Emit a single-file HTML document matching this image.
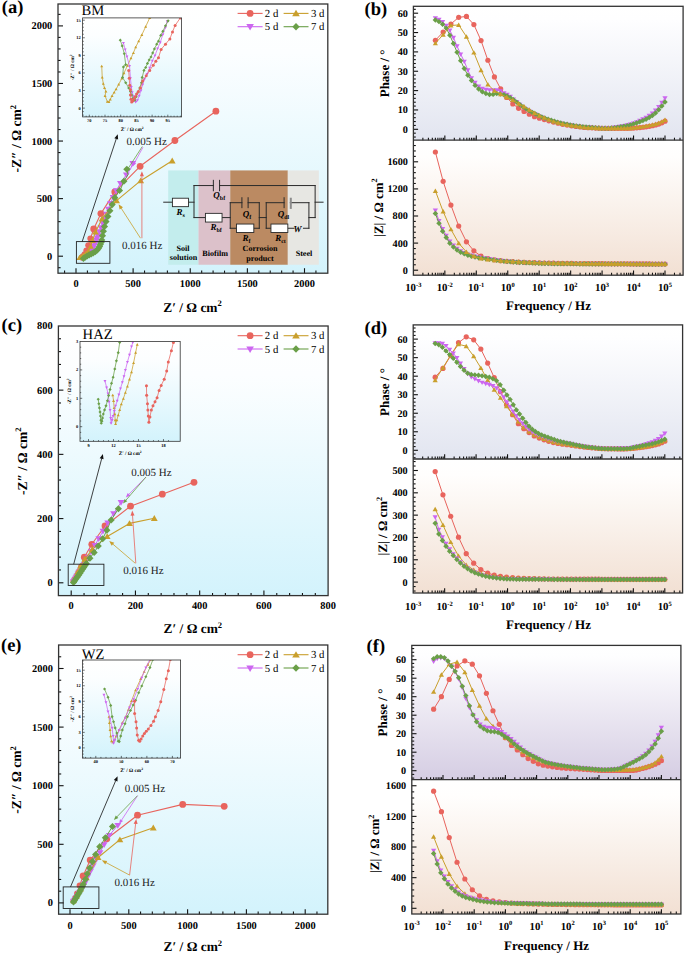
<!DOCTYPE html>
<html><head><meta charset="utf-8"><title>EIS figure</title>
<style>html,body{margin:0;padding:0;background:#fff;width:685px;height:955px;overflow:hidden}
svg{display:block;font-family:"Liberation Serif",serif;text-rendering:geometricPrecision}</style></head>
<body><svg width="685" height="955" viewBox="0 0 685 955" font-family="'Liberation Serif', serif"><defs><linearGradient id="gNyq" x1="0" y1="0" x2="0" y2="1"><stop offset="0" stop-color="#ffffff"/><stop offset="0.18" stop-color="#fcfeff"/><stop offset="1" stop-color="#d3f3fc"/></linearGradient><linearGradient id="gPh" x1="0" y1="0" x2="0" y2="1"><stop offset="0" stop-color="#ffffff"/><stop offset="0.1" stop-color="#fefeff"/><stop offset="1" stop-color="#e2e5f0"/></linearGradient><linearGradient id="gPhF" x1="0" y1="0" x2="0" y2="1"><stop offset="0" stop-color="#ffffff"/><stop offset="0.08" stop-color="#fefeff"/><stop offset="1" stop-color="#d5cde3"/></linearGradient><linearGradient id="gZ" x1="0" y1="0" x2="0" y2="1"><stop offset="0" stop-color="#ffffff"/><stop offset="0.12" stop-color="#fffefd"/><stop offset="1" stop-color="#f2e0d3"/></linearGradient><clipPath id="cia"><rect x="82.6" y="17.9" width="99" height="99"/></clipPath><clipPath id="cic"><rect x="80" y="341.5" width="100.2" height="99.8"/></clipPath><clipPath id="cie"><rect x="82.5" y="660" width="98.1" height="98.1"/></clipPath></defs><rect x="0" y="0" width="685" height="955" fill="#fff"/>
<rect x="58" y="4" width="269.8" height="269.2" fill="url(#gNyq)"/>
<rect x="58.4" y="326" width="269.7" height="269.6" fill="url(#gNyq)"/>
<rect x="58.6" y="645" width="269.2" height="269.2" fill="url(#gNyq)"/>
<rect x="168.19" y="170.42" width="30.28" height="94.32" fill="#c3eded"/>
<rect x="198.47" y="170.42" width="31.77" height="94.32" fill="#dcc1ca"/>
<rect x="230.24" y="170.42" width="57.58" height="94.32" fill="#bb8a62"/>
<rect x="287.82" y="170.42" width="31.03" height="94.32" fill="#e7e7e3"/>
<line x1="163.72" y1="202.19" x2="172.41" y2="202.19" stroke="#2a2a2a" stroke-width="1" stroke-linecap="square"/>
<line x1="188.54" y1="202.19" x2="194" y2="202.19" stroke="#2a2a2a" stroke-width="1" stroke-linecap="square"/>
<line x1="194" y1="185.56" x2="194" y2="217.58" stroke="#2a2a2a" stroke-width="1" stroke-linecap="square"/>
<line x1="194" y1="185.56" x2="213.36" y2="185.56" stroke="#2a2a2a" stroke-width="1" stroke-linecap="square"/>
<line x1="219.57" y1="185.56" x2="315.13" y2="185.56" stroke="#2a2a2a" stroke-width="1" stroke-linecap="square"/>
<line x1="315.13" y1="185.56" x2="315.13" y2="217.58" stroke="#2a2a2a" stroke-width="1" stroke-linecap="square"/>
<line x1="315.13" y1="202.19" x2="323.07" y2="202.19" stroke="#2a2a2a" stroke-width="1" stroke-linecap="square"/>
<line x1="194" y1="217.58" x2="205.42" y2="217.58" stroke="#2a2a2a" stroke-width="1" stroke-linecap="square"/>
<line x1="222.05" y1="217.58" x2="230.24" y2="217.58" stroke="#2a2a2a" stroke-width="1" stroke-linecap="square"/>
<line x1="230.24" y1="202.69" x2="230.24" y2="228.26" stroke="#2a2a2a" stroke-width="1" stroke-linecap="square"/>
<line x1="230.24" y1="202.69" x2="241.91" y2="202.69" stroke="#2a2a2a" stroke-width="1" stroke-linecap="square"/>
<line x1="248.11" y1="202.69" x2="259.28" y2="202.69" stroke="#2a2a2a" stroke-width="1" stroke-linecap="square"/>
<line x1="230.24" y1="228.26" x2="236.45" y2="228.26" stroke="#2a2a2a" stroke-width="1" stroke-linecap="square"/>
<line x1="253.82" y1="228.26" x2="259.28" y2="228.26" stroke="#2a2a2a" stroke-width="1" stroke-linecap="square"/>
<line x1="259.28" y1="202.69" x2="259.28" y2="228.26" stroke="#2a2a2a" stroke-width="1" stroke-linecap="square"/>
<line x1="259.28" y1="217.58" x2="266.23" y2="217.58" stroke="#2a2a2a" stroke-width="1" stroke-linecap="square"/>
<line x1="266.23" y1="202.69" x2="266.23" y2="228.26" stroke="#2a2a2a" stroke-width="1" stroke-linecap="square"/>
<line x1="266.23" y1="202.69" x2="284.1" y2="202.69" stroke="#2a2a2a" stroke-width="1" stroke-linecap="square"/>
<line x1="290.31" y1="202.69" x2="308.92" y2="202.69" stroke="#2a2a2a" stroke-width="1" stroke-linecap="square"/>
<line x1="266.23" y1="228.26" x2="270.95" y2="228.26" stroke="#2a2a2a" stroke-width="1" stroke-linecap="square"/>
<line x1="287.82" y1="228.26" x2="294.03" y2="228.26" stroke="#2a2a2a" stroke-width="1" stroke-linecap="square"/>
<line x1="303.46" y1="228.26" x2="308.92" y2="228.26" stroke="#2a2a2a" stroke-width="1" stroke-linecap="square"/>
<line x1="308.92" y1="202.69" x2="308.92" y2="228.26" stroke="#2a2a2a" stroke-width="1" stroke-linecap="square"/>
<line x1="308.92" y1="217.58" x2="315.13" y2="217.58" stroke="#2a2a2a" stroke-width="1" stroke-linecap="square"/>
<line x1="213.36" y1="180.35" x2="213.36" y2="190.78" stroke="#2a2a2a" stroke-width="1" stroke-linecap="square"/>
<line x1="219.57" y1="180.35" x2="219.57" y2="190.78" stroke="#2a2a2a" stroke-width="1" stroke-linecap="square"/>
<line x1="241.91" y1="197.73" x2="241.91" y2="207.65" stroke="#2a2a2a" stroke-width="1" stroke-linecap="square"/>
<line x1="248.11" y1="197.73" x2="248.11" y2="207.65" stroke="#2a2a2a" stroke-width="1" stroke-linecap="square"/>
<line x1="284.1" y1="197.73" x2="284.1" y2="207.65" stroke="#2a2a2a" stroke-width="1" stroke-linecap="square"/>
<line x1="290.8" y1="197.73" x2="290.8" y2="208.9" stroke="#8c8c8c" stroke-width="2" />
<rect x="172.41" y="198.22" width="16.13" height="8.44" fill="#fff" stroke="#2a2a2a" stroke-width="0.9"/>
<rect x="205.42" y="213.36" width="16.63" height="8.69" fill="#fff" stroke="#2a2a2a" stroke-width="0.9"/>
<rect x="236.45" y="224.04" width="17.37" height="8.44" fill="#fff" stroke="#2a2a2a" stroke-width="0.9"/>
<rect x="270.95" y="224.04" width="16.88" height="8.44" fill="#fff" stroke="#2a2a2a" stroke-width="0.9"/>
<text x="176.38" y="215.1" font-size="9" font-style="italic" font-weight="bold">R<tspan dy="2" font-size="5.94" font-style="normal">s</tspan></text>
<text x="213.36" y="198.47" font-size="9" font-style="italic" font-weight="bold">Q<tspan dy="2" font-size="5.94" font-style="normal">bf</tspan></text>
<text x="210.38" y="230.24" font-size="9" font-style="italic" font-weight="bold">R<tspan dy="2" font-size="5.94" font-style="normal">bf</tspan></text>
<text x="242.65" y="217.09" font-size="9" font-style="italic" font-weight="bold">Q<tspan dy="2" font-size="5.94" font-style="normal">f</tspan></text>
<text x="277.65" y="217.09" font-size="9" font-style="italic" font-weight="bold">Q<tspan dy="2" font-size="5.94" font-style="normal">dl</tspan></text>
<text x="242.4" y="240.67" font-size="9" font-style="italic" font-weight="bold">R<tspan dy="2" font-size="5.94" font-style="normal">f</tspan></text>
<text x="275.17" y="240.67" font-size="9" font-style="italic" font-weight="bold">R<tspan dy="2" font-size="5.94" font-style="normal">ct</tspan></text>
<text x="293.53" y="231.98" font-size="9" font-style="italic" font-weight="bold">W</text>
<text x="183.08" y="250.84" font-size="8.1" font-weight="bold" text-anchor="middle" fill="#000" >Soil</text>
<text x="183.58" y="260.27" font-size="8.1" font-weight="bold" text-anchor="middle" fill="#000" >solution</text>
<text x="215.1" y="255.81" font-size="8.1" font-weight="bold" text-anchor="middle" fill="#000" >Biofilm</text>
<text x="260.02" y="251.09" font-size="8.1" font-weight="bold" text-anchor="middle" fill="#000" >Corrosion</text>
<text x="260.02" y="260.52" font-size="8.1" font-weight="bold" text-anchor="middle" fill="#000" >product</text>
<text x="303.96" y="255.81" font-size="8.1" font-weight="bold" text-anchor="middle" fill="#000" >Steel</text>
<polyline points="215.9,111.2 174.9,140.5 140.1,166.3 114.8,191.9 100.9,213.6 93.7,228.9 90.4,238.6 88.3,245.2 86.4,250.6 84.6,254.2 83,256.4 81.8,257.6" fill="none" stroke="#e8645d" stroke-width="1.1" stroke-linejoin="round" />
<circle cx="215.9" cy="111.2" r="3.4" fill="#e8645d"/>
<circle cx="174.9" cy="140.5" r="3.4" fill="#e8645d"/>
<circle cx="140.1" cy="166.3" r="3.4" fill="#e8645d"/>
<circle cx="114.8" cy="191.9" r="3.4" fill="#e8645d"/>
<circle cx="100.9" cy="213.6" r="3.4" fill="#e8645d"/>
<circle cx="93.7" cy="228.9" r="3.4" fill="#e8645d"/>
<circle cx="90.4" cy="238.6" r="3.06" fill="#e8645d"/>
<circle cx="88.3" cy="245.2" r="3.06" fill="#e8645d"/>
<circle cx="86.4" cy="250.6" r="3.06" fill="#e8645d"/>
<circle cx="84.6" cy="254.2" r="3.06" fill="#e8645d"/>
<circle cx="83" cy="256.4" r="3.06" fill="#e8645d"/>
<circle cx="81.8" cy="257.6" r="3.06" fill="#e8645d"/>
<polyline points="132.8,163.3 130.4,169.3 125.5,176 120.8,182.5 115,193 109.9,204.8 105,218 101.5,226 99.1,231.9 96.7,239.2 94.5,245 92,250 89,254 86,256.5 83.5,258" fill="none" stroke="#cc66f0" stroke-width="1" stroke-linejoin="round" />
<polygon points="132.8,166.77 129.4,160.99 136.2,160.99" fill="#cc66f0"/>
<polygon points="126.36,178.29 122.96,172.51 129.76,172.51" fill="#cc66f0"/>
<polygon points="120.42,186.66 117.02,180.88 123.82,180.88" fill="#cc66f0"/>
<polygon points="116.29,194.13 112.89,188.35 119.69,188.35" fill="#cc66f0"/>
<polygon points="113.13,200.8 109.73,195.02 116.53,195.02" fill="#cc66f0"/>
<polygon points="110.51,206.85 107.11,201.07 113.91,201.07" fill="#cc66f0"/>
<polygon points="108.36,212.43 104.96,206.65 111.76,206.65" fill="#cc66f0"/>
<polygon points="106.44,217.59 103.04,211.81 109.84,211.81" fill="#cc66f0"/>
<polygon points="104.6,222.39 101.2,216.61 108,216.61" fill="#cc66f0"/>
<polygon points="102.66,226.81 99.26,221.03 106.06,221.03" fill="#cc66f0"/>
<polygon points="100.87,231.02 97.47,225.24 104.27,225.24" fill="#cc66f0"/>
<polygon points="99.22,235.06 95.82,229.28 102.62,229.28" fill="#cc66f0"/>
<polygon points="97.9,239.03 94.5,233.25 101.3,233.25" fill="#cc66f0"/>
<polygon points="97.18,241.21 93.78,235.43 100.58,235.43" fill="#cc66f0"/>
<polygon points="96.43,243.39 93.03,237.61 99.83,237.61" fill="#cc66f0"/>
<polygon points="95.61,245.54 92.21,239.76 99.01,239.76" fill="#cc66f0"/>
<polygon points="94.8,247.69 91.4,241.91 98.2,241.91" fill="#cc66f0"/>
<polygon points="93.84,249.78 90.44,244 97.24,244" fill="#cc66f0"/>
<polygon points="92.82,251.84 89.42,246.06 96.22,246.06" fill="#cc66f0"/>
<polygon points="91.72,253.85 88.32,248.07 95.12,248.07" fill="#cc66f0"/>
<polygon points="90.34,255.69 86.94,249.91 93.74,249.91" fill="#cc66f0"/>
<polygon points="88.94,257.52 85.54,251.74 92.34,251.74" fill="#cc66f0"/>
<polygon points="87.18,258.99 83.78,253.21 90.58,253.21" fill="#cc66f0"/>
<polygon points="85.34,260.36 81.94,254.58 88.74,254.58" fill="#cc66f0"/>
<polygon points="83.5,261.47 80.1,255.69 86.9,255.69" fill="#cc66f0"/>
<polyline points="172.2,160.8 140.7,180.7 116.6,200.6 102.1,218.7 95.5,231.9 92.5,240.4 90.7,246.4 88.3,251.2 85.8,253.6 83.4,255.4 81.2,256.8 79.5,257.6" fill="none" stroke="#c99f2c" stroke-width="1.1" stroke-linejoin="round" />
<polygon points="172.2,157.62 168.8,163.4 175.6,163.4" fill="#c99f2c"/>
<polygon points="140.7,177.52 137.3,183.3 144.1,183.3" fill="#c99f2c"/>
<polygon points="116.6,197.42 113.2,203.2 120,203.2" fill="#c99f2c"/>
<polygon points="102.1,215.52 98.7,221.3 105.5,221.3" fill="#c99f2c"/>
<polygon points="95.5,228.72 92.1,234.5 98.9,234.5" fill="#c99f2c"/>
<polygon points="92.5,237.22 89.1,243 95.9,243" fill="#c99f2c"/>
<polygon points="90.7,243.54 87.64,248.74 93.76,248.74" fill="#c99f2c"/>
<polygon points="88.3,248.34 85.24,253.54 91.36,253.54" fill="#c99f2c"/>
<polygon points="85.8,250.74 82.74,255.94 88.86,255.94" fill="#c99f2c"/>
<polygon points="83.4,252.54 80.34,257.74 86.46,257.74" fill="#c99f2c"/>
<polygon points="81.2,253.94 78.14,259.14 84.26,259.14" fill="#c99f2c"/>
<polygon points="79.5,254.74 76.44,259.94 82.56,259.94" fill="#c99f2c"/>
<polyline points="126.8,169.3 128,174.7 124,181 120.8,188.6 114.8,197.6 110.5,209 107.5,217.5 105.1,224.1 103.9,228.9 102.7,234.3 101.5,241.6 99.1,247.6 96.1,251.2 91.9,253.6 87,256 83.4,258.4" fill="none" stroke="#6a9f48" stroke-width="1" stroke-linejoin="round" />
<polygon points="126.8,165.73 130.37,169.3 126.8,172.87 123.23,169.3" fill="#6a9f48"/>
<polygon points="123.88,177.71 127.45,181.28 123.88,184.85 120.31,181.28" fill="#6a9f48"/>
<polygon points="119.51,186.97 123.08,190.54 119.51,194.11 115.94,190.54" fill="#6a9f48"/>
<polygon points="114.78,194.08 118.35,197.65 114.78,201.22 111.21,197.65" fill="#6a9f48"/>
<polygon points="112.17,201 115.74,204.57 112.17,208.14 108.6,204.57" fill="#6a9f48"/>
<polygon points="109.89,207.17 113.46,210.74 109.89,214.31 106.32,210.74" fill="#6a9f48"/>
<polygon points="107.89,212.81 111.46,216.38 107.89,219.95 104.32,216.38" fill="#6a9f48"/>
<polygon points="106.02,217.99 109.59,221.56 106.02,225.13 102.45,221.56" fill="#6a9f48"/>
<polygon points="104.51,222.9 108.08,226.47 104.51,230.04 100.94,226.47" fill="#6a9f48"/>
<polygon points="103.4,227.6 106.97,231.17 103.4,234.74 99.83,231.17" fill="#6a9f48"/>
<polygon points="102.48,232.08 106.05,235.65 102.48,239.22 98.91,235.65" fill="#6a9f48"/>
<polygon points="101.77,236.38 105.34,239.95 101.77,243.52 98.2,239.95" fill="#6a9f48"/>
<polygon points="101.27,238.62 104.84,242.19 101.27,245.76 97.7,242.19" fill="#6a9f48"/>
<polygon points="100.41,240.75 103.98,244.32 100.41,247.89 96.84,244.32" fill="#6a9f48"/>
<polygon points="99.56,242.89 103.13,246.46 99.56,250.03 95.99,246.46" fill="#6a9f48"/>
<polygon points="98.41,244.85 101.98,248.42 98.41,251.99 94.84,248.42" fill="#6a9f48"/>
<polygon points="96.94,246.62 100.51,250.19 96.94,253.76 93.37,250.19" fill="#6a9f48"/>
<polygon points="95.25,248.12 98.82,251.69 95.25,255.26 91.68,251.69" fill="#6a9f48"/>
<polygon points="93.25,249.26 96.82,252.83 93.25,256.4 89.68,252.83" fill="#6a9f48"/>
<polygon points="91.23,250.36 94.8,253.93 91.23,257.5 87.66,253.93" fill="#6a9f48"/>
<polygon points="89.16,251.37 92.73,254.94 89.16,258.51 85.59,254.94" fill="#6a9f48"/>
<polygon points="87.1,252.38 90.67,255.95 87.1,259.52 83.53,255.95" fill="#6a9f48"/>
<polygon points="85.18,253.65 88.75,257.22 85.18,260.79 81.61,257.22" fill="#6a9f48"/>
<polygon points="83.4,254.83 86.97,258.4 83.4,261.97 79.83,258.4" fill="#6a9f48"/>
<rect x="76.4" y="241.6" width="33.5" height="21.7" fill="none" stroke="#222" stroke-width="0.9"/>
<line x1="82.2" y1="241.6" x2="116.38" y2="138.47" stroke="#111" stroke-width="0.8" />
<polygon points="117.8,134.2 118.13,139.58 114.33,138.32" fill="#111"/>
<text x="126.5" y="145" font-size="11" fill="#222" >0.005 Hz</text>
<text x="122" y="249" font-size="11" fill="#222" >0.016 Hz</text>
<line x1="142.3" y1="146.5" x2="128.37" y2="168.14" stroke="#6a9f48" stroke-width="0.8" />
<polygon points="126.2,171.5 127.12,166.74 130.15,168.69" fill="#6a9f48"/>
<line x1="143" y1="147.2" x2="134.32" y2="163.09" stroke="#cc66f0" stroke-width="0.8" />
<polygon points="132.4,166.6 132.98,161.79 136.14,163.51" fill="#cc66f0"/>
<line x1="141.9" y1="238.2" x2="141.9" y2="175.7" stroke="#e8645d" stroke-width="0.8" />
<polygon points="141.9,171.2 143.9,176.2 139.9,176.2" fill="#e8645d"/>
<line x1="140.5" y1="238.2" x2="121.04" y2="207.98" stroke="#c99f2c" stroke-width="0.8" />
<polygon points="118.6,204.2 122.99,207.32 119.63,209.49" fill="#c99f2c"/>
<rect x="82.6" y="17.9" width="99" height="99" fill="url(#gNyq)"/>
<g clip-path="url(#cia)">
<polyline points="101.71,66.06 102.24,77.45 103.29,83.58 104.51,87.96 105.91,91.46 105.04,95.84 107.32,101.63 108.89,101.98 110.29,99.35 112.05,95.84 114.15,92.34 116.08,89.19 118.7,84.46 121.86,78.33 123.96,73.07 127.46,65.71 130.97,58.18 133.42,52.92 135.7,47.14 138.68,41.18 141.83,34.88 145.68,26.64 149.71,17.88" fill="none" stroke="#c99f2c" stroke-width="0.75" stroke-linejoin="round" />
<polygon points="101.71,64.66 100.21,67.21 103.21,67.21" fill="#c99f2c"/>
<polygon points="102.24,76.05 100.74,78.6 103.74,78.6" fill="#c99f2c"/>
<polygon points="103.29,82.18 101.79,84.73 104.79,84.73" fill="#c99f2c"/>
<polygon points="104.51,86.56 103.01,89.11 106.01,89.11" fill="#c99f2c"/>
<polygon points="105.91,90.06 104.41,92.61 107.41,92.61" fill="#c99f2c"/>
<polygon points="105.04,94.44 103.54,96.99 106.54,96.99" fill="#c99f2c"/>
<polygon points="107.32,100.22 105.82,102.77 108.82,102.77" fill="#c99f2c"/>
<polygon points="108.89,100.57 107.39,103.12 110.39,103.12" fill="#c99f2c"/>
<polygon points="110.29,97.95 108.79,100.5 111.79,100.5" fill="#c99f2c"/>
<polygon points="112.05,94.44 110.55,96.99 113.55,96.99" fill="#c99f2c"/>
<polygon points="114.15,90.94 112.65,93.49 115.65,93.49" fill="#c99f2c"/>
<polygon points="116.08,87.78 114.58,90.33 117.58,90.33" fill="#c99f2c"/>
<polygon points="118.7,83.05 117.2,85.6 120.2,85.6" fill="#c99f2c"/>
<polygon points="121.86,76.92 120.36,79.47 123.36,79.47" fill="#c99f2c"/>
<polygon points="123.96,71.67 122.46,74.22 125.46,74.22" fill="#c99f2c"/>
<polygon points="127.46,64.31 125.96,66.86 128.96,66.86" fill="#c99f2c"/>
<polygon points="130.97,56.78 129.47,59.33 132.47,59.33" fill="#c99f2c"/>
<polygon points="133.42,51.52 131.92,54.07 134.92,54.07" fill="#c99f2c"/>
<polygon points="135.7,45.74 134.2,48.29 137.2,48.29" fill="#c99f2c"/>
<polygon points="138.68,39.78 137.18,42.33 140.18,42.33" fill="#c99f2c"/>
<polygon points="141.83,33.47 140.33,36.02 143.33,36.02" fill="#c99f2c"/>
<polygon points="145.68,25.24 144.18,27.79 147.18,27.79" fill="#c99f2c"/>
<polygon points="149.71,16.48 148.21,19.03 151.21,19.03" fill="#c99f2c"/>
<polyline points="123.43,42.94 125.19,49.42 126.94,56.43 129.57,66.06 130.44,78.33 131.32,87.08 132.19,92.34 133.42,96.19 134.47,99.35 135.7,101.98 137.45,100.22 139.2,95.84 140.95,90.59 142.7,84.46 144.46,79.2 147.08,73.95 149.71,67.81 152.34,60.81 154.97,55.55 157.6,48.54 160.22,42.41 162.85,34.53 165.48,27.52 167.23,21.39" fill="none" stroke="#cc66f0" stroke-width="0.75" stroke-linejoin="round" />
<polygon points="123.43,44.47 121.93,41.92 124.93,41.92" fill="#cc66f0"/>
<polygon points="125.19,50.95 123.69,48.4 126.69,48.4" fill="#cc66f0"/>
<polygon points="126.94,57.96 125.44,55.41 128.44,55.41" fill="#cc66f0"/>
<polygon points="129.57,67.59 128.07,65.04 131.07,65.04" fill="#cc66f0"/>
<polygon points="130.44,79.86 128.94,77.31 131.94,77.31" fill="#cc66f0"/>
<polygon points="131.32,88.61 129.82,86.06 132.82,86.06" fill="#cc66f0"/>
<polygon points="132.19,93.87 130.69,91.32 133.69,91.32" fill="#cc66f0"/>
<polygon points="133.42,97.72 131.92,95.17 134.92,95.17" fill="#cc66f0"/>
<polygon points="134.47,100.88 132.97,98.33 135.97,98.33" fill="#cc66f0"/>
<polygon points="135.7,103.51 134.2,100.96 137.2,100.96" fill="#cc66f0"/>
<polygon points="137.45,101.75 135.95,99.2 138.95,99.2" fill="#cc66f0"/>
<polygon points="139.2,97.37 137.7,94.82 140.7,94.82" fill="#cc66f0"/>
<polygon points="140.95,92.12 139.45,89.57 142.45,89.57" fill="#cc66f0"/>
<polygon points="142.7,85.99 141.2,83.44 144.2,83.44" fill="#cc66f0"/>
<polygon points="144.46,80.73 142.96,78.18 145.96,78.18" fill="#cc66f0"/>
<polygon points="147.08,75.48 145.58,72.93 148.58,72.93" fill="#cc66f0"/>
<polygon points="149.71,69.34 148.21,66.79 151.21,66.79" fill="#cc66f0"/>
<polygon points="152.34,62.34 150.84,59.79 153.84,59.79" fill="#cc66f0"/>
<polygon points="154.97,57.08 153.47,54.53 156.47,54.53" fill="#cc66f0"/>
<polygon points="157.6,50.07 156.1,47.52 159.1,47.52" fill="#cc66f0"/>
<polygon points="160.22,43.94 158.72,41.39 161.72,41.39" fill="#cc66f0"/>
<polygon points="162.85,36.06 161.35,33.51 164.35,33.51" fill="#cc66f0"/>
<polygon points="165.48,29.05 163.98,26.5 166.98,26.5" fill="#cc66f0"/>
<polygon points="167.23,22.92 165.73,20.37 168.73,20.37" fill="#cc66f0"/>
<polyline points="120.28,40.13 122.21,45.91 124.31,53.8 125.71,64.66 123.43,66.94 122.56,77.45 125.71,82.7 128.69,87.96 130.44,91.46 131.67,94.97 133.07,98.47 134.82,100.22 136.22,96.72 137.97,92.34 139.73,87.96 141.48,82.7 142.18,77.45 143.93,70.44 145.68,67.46 147.44,63.43 149.19,59.93 150.94,56.95 152.69,52.92 154.44,48.89 156.72,44.16 158.47,41.18 160.75,35.4 162.85,31.37 165.48,25.77 168.11,20.86" fill="none" stroke="#6a9f48" stroke-width="0.75" stroke-linejoin="round" />
<polygon points="120.28,38.56 121.86,40.13 120.28,41.71 118.71,40.13" fill="#6a9f48"/>
<polygon points="122.21,44.34 123.78,45.91 122.21,47.49 120.63,45.91" fill="#6a9f48"/>
<polygon points="124.31,52.22 125.88,53.8 124.31,55.37 122.73,53.8" fill="#6a9f48"/>
<polygon points="125.71,63.09 127.29,64.66 125.71,66.24 124.14,64.66" fill="#6a9f48"/>
<polygon points="123.43,65.36 125.01,66.94 123.43,68.51 121.86,66.94" fill="#6a9f48"/>
<polygon points="122.56,75.87 124.13,77.45 122.56,79.02 120.98,77.45" fill="#6a9f48"/>
<polygon points="125.71,81.13 127.29,82.7 125.71,84.28 124.14,82.7" fill="#6a9f48"/>
<polygon points="128.69,86.39 130.26,87.96 128.69,89.54 127.11,87.96" fill="#6a9f48"/>
<polygon points="130.44,89.89 132.02,91.46 130.44,93.04 128.87,91.46" fill="#6a9f48"/>
<polygon points="131.67,93.39 133.24,94.97 131.67,96.54 130.09,94.97" fill="#6a9f48"/>
<polygon points="133.07,96.9 134.64,98.47 133.07,100.05 131.49,98.47" fill="#6a9f48"/>
<polygon points="134.82,98.65 136.4,100.22 134.82,101.8 133.25,100.22" fill="#6a9f48"/>
<polygon points="136.22,95.15 137.8,96.72 136.22,98.3 134.65,96.72" fill="#6a9f48"/>
<polygon points="137.97,90.77 139.55,92.34 137.97,93.92 136.4,92.34" fill="#6a9f48"/>
<polygon points="139.73,86.39 141.3,87.96 139.73,89.54 138.15,87.96" fill="#6a9f48"/>
<polygon points="141.48,81.13 143.05,82.7 141.48,84.28 139.9,82.7" fill="#6a9f48"/>
<polygon points="142.18,75.87 143.75,77.45 142.18,79.02 140.6,77.45" fill="#6a9f48"/>
<polygon points="143.93,68.87 145.51,70.44 143.93,72.02 142.36,70.44" fill="#6a9f48"/>
<polygon points="145.68,65.89 147.26,67.46 145.68,69.04 144.11,67.46" fill="#6a9f48"/>
<polygon points="147.44,61.86 149.01,63.43 147.44,65.01 145.86,63.43" fill="#6a9f48"/>
<polygon points="149.19,58.35 150.76,59.93 149.19,61.5 147.61,59.93" fill="#6a9f48"/>
<polygon points="150.94,55.38 152.51,56.95 150.94,58.53 149.36,56.95" fill="#6a9f48"/>
<polygon points="152.69,51.35 154.27,52.92 152.69,54.5 151.12,52.92" fill="#6a9f48"/>
<polygon points="154.44,47.32 156.02,48.89 154.44,50.47 152.87,48.89" fill="#6a9f48"/>
<polygon points="156.72,42.59 158.3,44.16 156.72,45.74 155.15,44.16" fill="#6a9f48"/>
<polygon points="158.47,39.61 160.05,41.18 158.47,42.76 156.9,41.18" fill="#6a9f48"/>
<polygon points="160.75,33.83 162.32,35.4 160.75,36.98 159.17,35.4" fill="#6a9f48"/>
<polygon points="162.85,29.8 164.43,31.37 162.85,32.95 161.28,31.37" fill="#6a9f48"/>
<polygon points="165.48,24.19 167.06,25.77 165.48,27.34 163.91,25.77" fill="#6a9f48"/>
<polygon points="168.11,19.29 169.68,20.86 168.11,22.44 166.53,20.86" fill="#6a9f48"/>
<polyline points="128.69,70.44 129.22,78.33 129.74,85.33 130.44,89.71 130.44,94.97 130.97,99.35 131.67,101.98 132.72,101.1 133.95,99 135.17,96.72 136.57,94.09 138.33,91.46 140.43,87.96 142.7,80.95 146.21,75.7 149.71,70.44 153.22,65.19 155.84,61.16 158.47,57.65 161.1,49.42 165.48,44.16 169.86,38.91 172.49,31.9 175.12,25.42 180.37,17.88" fill="none" stroke="#e8645d" stroke-width="0.75" stroke-linejoin="round" />
<circle cx="128.69" cy="70.44" r="1.5" fill="#e8645d"/>
<circle cx="129.22" cy="78.33" r="1.5" fill="#e8645d"/>
<circle cx="129.74" cy="85.33" r="1.5" fill="#e8645d"/>
<circle cx="130.44" cy="89.71" r="1.5" fill="#e8645d"/>
<circle cx="130.44" cy="94.97" r="1.5" fill="#e8645d"/>
<circle cx="130.97" cy="99.35" r="1.5" fill="#e8645d"/>
<circle cx="131.67" cy="101.98" r="1.5" fill="#e8645d"/>
<circle cx="132.72" cy="101.1" r="1.5" fill="#e8645d"/>
<circle cx="133.95" cy="99" r="1.5" fill="#e8645d"/>
<circle cx="135.17" cy="96.72" r="1.5" fill="#e8645d"/>
<circle cx="136.57" cy="94.09" r="1.5" fill="#e8645d"/>
<circle cx="138.33" cy="91.46" r="1.5" fill="#e8645d"/>
<circle cx="140.43" cy="87.96" r="1.5" fill="#e8645d"/>
<circle cx="142.7" cy="80.95" r="1.5" fill="#e8645d"/>
<circle cx="146.21" cy="75.7" r="1.5" fill="#e8645d"/>
<circle cx="149.71" cy="70.44" r="1.5" fill="#e8645d"/>
<circle cx="153.22" cy="65.19" r="1.5" fill="#e8645d"/>
<circle cx="155.84" cy="61.16" r="1.5" fill="#e8645d"/>
<circle cx="158.47" cy="57.65" r="1.5" fill="#e8645d"/>
<circle cx="161.1" cy="49.42" r="1.5" fill="#e8645d"/>
<circle cx="165.48" cy="44.16" r="1.5" fill="#e8645d"/>
<circle cx="169.86" cy="38.91" r="1.5" fill="#e8645d"/>
<circle cx="172.49" cy="31.9" r="1.5" fill="#e8645d"/>
<circle cx="175.12" cy="25.42" r="1.5" fill="#e8645d"/>
<circle cx="180.37" cy="17.88" r="1.5" fill="#e8645d"/>
</g>
<line x1="86.16" y1="116.9" x2="86.16" y2="115.7" stroke="#111" stroke-width="0.6" />
<line x1="89.3" y1="116.9" x2="89.3" y2="114.7" stroke="#111" stroke-width="0.6" />
<text x="89.3" y="122.1" font-size="4.4" font-weight="bold" text-anchor="middle" fill="#000" >70</text>
<line x1="92.44" y1="116.9" x2="92.44" y2="115.7" stroke="#111" stroke-width="0.6" />
<line x1="95.58" y1="116.9" x2="95.58" y2="115.7" stroke="#111" stroke-width="0.6" />
<line x1="98.72" y1="116.9" x2="98.72" y2="115.7" stroke="#111" stroke-width="0.6" />
<line x1="101.86" y1="116.9" x2="101.86" y2="115.7" stroke="#111" stroke-width="0.6" />
<line x1="105" y1="116.9" x2="105" y2="114.7" stroke="#111" stroke-width="0.6" />
<text x="105" y="122.1" font-size="4.4" font-weight="bold" text-anchor="middle" fill="#000" >75</text>
<line x1="108.14" y1="116.9" x2="108.14" y2="115.7" stroke="#111" stroke-width="0.6" />
<line x1="111.28" y1="116.9" x2="111.28" y2="115.7" stroke="#111" stroke-width="0.6" />
<line x1="114.42" y1="116.9" x2="114.42" y2="115.7" stroke="#111" stroke-width="0.6" />
<line x1="117.56" y1="116.9" x2="117.56" y2="115.7" stroke="#111" stroke-width="0.6" />
<line x1="120.7" y1="116.9" x2="120.7" y2="114.7" stroke="#111" stroke-width="0.6" />
<text x="120.7" y="122.1" font-size="4.4" font-weight="bold" text-anchor="middle" fill="#000" >80</text>
<line x1="123.84" y1="116.9" x2="123.84" y2="115.7" stroke="#111" stroke-width="0.6" />
<line x1="126.98" y1="116.9" x2="126.98" y2="115.7" stroke="#111" stroke-width="0.6" />
<line x1="130.12" y1="116.9" x2="130.12" y2="115.7" stroke="#111" stroke-width="0.6" />
<line x1="133.26" y1="116.9" x2="133.26" y2="115.7" stroke="#111" stroke-width="0.6" />
<line x1="136.4" y1="116.9" x2="136.4" y2="114.7" stroke="#111" stroke-width="0.6" />
<text x="136.4" y="122.1" font-size="4.4" font-weight="bold" text-anchor="middle" fill="#000" >85</text>
<line x1="139.54" y1="116.9" x2="139.54" y2="115.7" stroke="#111" stroke-width="0.6" />
<line x1="142.68" y1="116.9" x2="142.68" y2="115.7" stroke="#111" stroke-width="0.6" />
<line x1="145.82" y1="116.9" x2="145.82" y2="115.7" stroke="#111" stroke-width="0.6" />
<line x1="148.96" y1="116.9" x2="148.96" y2="115.7" stroke="#111" stroke-width="0.6" />
<line x1="152.1" y1="116.9" x2="152.1" y2="114.7" stroke="#111" stroke-width="0.6" />
<text x="152.1" y="122.1" font-size="4.4" font-weight="bold" text-anchor="middle" fill="#000" >90</text>
<line x1="155.24" y1="116.9" x2="155.24" y2="115.7" stroke="#111" stroke-width="0.6" />
<line x1="158.38" y1="116.9" x2="158.38" y2="115.7" stroke="#111" stroke-width="0.6" />
<line x1="161.52" y1="116.9" x2="161.52" y2="115.7" stroke="#111" stroke-width="0.6" />
<line x1="164.66" y1="116.9" x2="164.66" y2="115.7" stroke="#111" stroke-width="0.6" />
<line x1="167.8" y1="116.9" x2="167.8" y2="114.7" stroke="#111" stroke-width="0.6" />
<text x="167.8" y="122.1" font-size="4.4" font-weight="bold" text-anchor="middle" fill="#000" >95</text>
<line x1="170.94" y1="116.9" x2="170.94" y2="115.7" stroke="#111" stroke-width="0.6" />
<line x1="174.08" y1="116.9" x2="174.08" y2="115.7" stroke="#111" stroke-width="0.6" />
<line x1="177.22" y1="116.9" x2="177.22" y2="115.7" stroke="#111" stroke-width="0.6" />
<line x1="180.36" y1="116.9" x2="180.36" y2="115.7" stroke="#111" stroke-width="0.6" />
<line x1="82.6" y1="115.13" x2="83.8" y2="115.13" stroke="#111" stroke-width="0.6" />
<line x1="82.6" y1="111.62" x2="83.8" y2="111.62" stroke="#111" stroke-width="0.6" />
<line x1="82.6" y1="108.1" x2="84.8" y2="108.1" stroke="#111" stroke-width="0.6" />
<text x="80.7" y="109.6" font-size="4.4" font-weight="bold" text-anchor="end" fill="#000" >0</text>
<line x1="82.6" y1="104.58" x2="83.8" y2="104.58" stroke="#111" stroke-width="0.6" />
<line x1="82.6" y1="101.07" x2="83.8" y2="101.07" stroke="#111" stroke-width="0.6" />
<line x1="82.6" y1="97.55" x2="83.8" y2="97.55" stroke="#111" stroke-width="0.6" />
<line x1="82.6" y1="94.04" x2="83.8" y2="94.04" stroke="#111" stroke-width="0.6" />
<line x1="82.6" y1="90.52" x2="84.8" y2="90.52" stroke="#111" stroke-width="0.6" />
<text x="80.7" y="92.02" font-size="4.4" font-weight="bold" text-anchor="end" fill="#000" >3</text>
<line x1="82.6" y1="87" x2="83.8" y2="87" stroke="#111" stroke-width="0.6" />
<line x1="82.6" y1="83.49" x2="83.8" y2="83.49" stroke="#111" stroke-width="0.6" />
<line x1="82.6" y1="79.97" x2="83.8" y2="79.97" stroke="#111" stroke-width="0.6" />
<line x1="82.6" y1="76.46" x2="83.8" y2="76.46" stroke="#111" stroke-width="0.6" />
<line x1="82.6" y1="72.94" x2="84.8" y2="72.94" stroke="#111" stroke-width="0.6" />
<text x="80.7" y="74.44" font-size="4.4" font-weight="bold" text-anchor="end" fill="#000" >6</text>
<line x1="82.6" y1="69.42" x2="83.8" y2="69.42" stroke="#111" stroke-width="0.6" />
<line x1="82.6" y1="65.91" x2="83.8" y2="65.91" stroke="#111" stroke-width="0.6" />
<line x1="82.6" y1="62.39" x2="83.8" y2="62.39" stroke="#111" stroke-width="0.6" />
<line x1="82.6" y1="58.88" x2="83.8" y2="58.88" stroke="#111" stroke-width="0.6" />
<line x1="82.6" y1="55.36" x2="84.8" y2="55.36" stroke="#111" stroke-width="0.6" />
<text x="80.7" y="56.86" font-size="4.4" font-weight="bold" text-anchor="end" fill="#000" >9</text>
<line x1="82.6" y1="51.84" x2="83.8" y2="51.84" stroke="#111" stroke-width="0.6" />
<line x1="82.6" y1="48.33" x2="83.8" y2="48.33" stroke="#111" stroke-width="0.6" />
<line x1="82.6" y1="44.81" x2="83.8" y2="44.81" stroke="#111" stroke-width="0.6" />
<line x1="82.6" y1="41.3" x2="83.8" y2="41.3" stroke="#111" stroke-width="0.6" />
<line x1="82.6" y1="37.78" x2="84.8" y2="37.78" stroke="#111" stroke-width="0.6" />
<text x="80.7" y="39.28" font-size="4.4" font-weight="bold" text-anchor="end" fill="#000" >12</text>
<line x1="82.6" y1="34.26" x2="83.8" y2="34.26" stroke="#111" stroke-width="0.6" />
<line x1="82.6" y1="30.75" x2="83.8" y2="30.75" stroke="#111" stroke-width="0.6" />
<line x1="82.6" y1="27.23" x2="83.8" y2="27.23" stroke="#111" stroke-width="0.6" />
<line x1="82.6" y1="23.72" x2="83.8" y2="23.72" stroke="#111" stroke-width="0.6" />
<line x1="82.6" y1="20.2" x2="84.8" y2="20.2" stroke="#111" stroke-width="0.6" />
<text x="80.7" y="21.7" font-size="4.4" font-weight="bold" text-anchor="end" fill="#000" >15</text>
<rect x="82.6" y="17.9" width="99" height="99" fill="none" stroke="#333333" stroke-width="0.8"/>
<text x="132.1" y="130.9" font-size="5.2" font-weight="bold" text-anchor="middle" fill="#000" >Z′ / Ω cm<tspan dy="-2" font-size="3.5">2</tspan></text>
<text x="74" y="67.4" font-size="5.2" font-weight="bold" text-anchor="middle" transform="rotate(-90 74 67.4)">-Z″ / Ω cm<tspan dy="-2" font-size="3.5">2</tspan></text>
<line x1="237.6" y1="13.4" x2="262.6" y2="13.4" stroke="#e8645d" stroke-width="1.1" />
<circle cx="250.1" cy="13.4" r="3.4" fill="#e8645d"/>
<text x="264.8" y="17" font-size="10.8" fill="#000" >2 d</text>
<line x1="283.6" y1="13.4" x2="308.5" y2="13.4" stroke="#c99f2c" stroke-width="1.1" />
<polygon points="296,9.85 292.2,16.31 299.8,16.31" fill="#c99f2c"/>
<text x="310.9" y="17" font-size="10.8" fill="#000" >3 d</text>
<line x1="237.6" y1="26.7" x2="262.6" y2="26.7" stroke="#cc66f0" stroke-width="1.1" />
<polygon points="250.1,30.58 246.3,24.12 253.9,24.12" fill="#cc66f0"/>
<text x="264.8" y="30.3" font-size="10.8" fill="#000" >5 d</text>
<line x1="283.6" y1="26.7" x2="308.5" y2="26.7" stroke="#6a9f48" stroke-width="1.1" />
<polygon points="296,23.02 299.68,26.7 296,30.38 292.32,26.7" fill="#6a9f48"/>
<text x="310.9" y="30.3" font-size="10.8" fill="#000" >7 d</text>
<polyline points="194,482.3 162.3,494.2 130.5,506.2 105,526 91.8,544.3 84.3,557.2 81.1,566.7 78.5,572 76.5,576 74.8,579 73.5,581" fill="none" stroke="#e8645d" stroke-width="1.1" stroke-linejoin="round" />
<circle cx="194" cy="482.3" r="3.4" fill="#e8645d"/>
<circle cx="162.3" cy="494.2" r="3.4" fill="#e8645d"/>
<circle cx="130.5" cy="506.2" r="3.4" fill="#e8645d"/>
<circle cx="105" cy="526" r="3.4" fill="#e8645d"/>
<circle cx="91.8" cy="544.3" r="3.4" fill="#e8645d"/>
<circle cx="84.3" cy="557.2" r="3.4" fill="#e8645d"/>
<circle cx="81.1" cy="566.7" r="3.06" fill="#e8645d"/>
<circle cx="78.5" cy="572" r="3.06" fill="#e8645d"/>
<circle cx="76.5" cy="576" r="3.06" fill="#e8645d"/>
<circle cx="74.8" cy="579" r="3.06" fill="#e8645d"/>
<circle cx="73.5" cy="581" r="3.06" fill="#e8645d"/>
<polyline points="121,502.4 113.3,513.9 106.6,524.6 101.5,533.8 97.2,541.3 93,549 89,556 85,563 81,569 78,574 75.5,578.5 73.5,581.5" fill="none" stroke="#cc66f0" stroke-width="1" stroke-linejoin="round" />
<polygon points="121,505.87 117.6,500.09 124.4,500.09" fill="#cc66f0"/>
<polygon points="113.6,516.92 110.2,511.14 117,511.14" fill="#cc66f0"/>
<polygon points="107.71,526.3 104.31,520.52 111.11,520.52" fill="#cc66f0"/>
<polygon points="102.97,534.62 99.57,528.84 106.37,528.84" fill="#cc66f0"/>
<polygon points="98.78,542.01 95.38,536.23 102.18,536.23" fill="#cc66f0"/>
<polygon points="95.04,548.72 91.64,542.94 98.44,542.94" fill="#cc66f0"/>
<polygon points="91.63,554.87 88.23,549.09 95.03,549.09" fill="#cc66f0"/>
<polygon points="88.39,560.54 84.99,554.76 91.79,554.76" fill="#cc66f0"/>
<polygon points="85.36,565.83 81.96,560.05 88.76,560.05" fill="#cc66f0"/>
<polygon points="84.13,567.77 80.73,561.99 87.53,561.99" fill="#cc66f0"/>
<polygon points="82.85,569.69 79.45,563.91 86.25,563.91" fill="#cc66f0"/>
<polygon points="81.58,571.6 78.18,565.82 84.98,565.82" fill="#cc66f0"/>
<polygon points="80.35,573.55 76.95,567.77 83.75,567.77" fill="#cc66f0"/>
<polygon points="79.17,575.52 75.77,569.74 82.57,569.74" fill="#cc66f0"/>
<polygon points="77.99,577.49 74.59,571.71 81.39,571.71" fill="#cc66f0"/>
<polygon points="76.87,579.5 73.47,573.72 80.27,573.72" fill="#cc66f0"/>
<polygon points="75.75,581.51 72.35,575.73 79.15,575.73" fill="#cc66f0"/>
<polygon points="74.51,583.45 71.11,577.67 77.91,577.67" fill="#cc66f0"/>
<polygon points="73.5,584.97 70.1,579.19 76.9,579.19" fill="#cc66f0"/>
<polyline points="154.3,518.3 129.5,523.4 107.2,536.4 92.3,549.3 84.8,559.2 80.5,566 77.5,572 75.5,577 73.8,580.5" fill="none" stroke="#c99f2c" stroke-width="1.1" stroke-linejoin="round" />
<polygon points="154.3,515.12 150.9,520.9 157.7,520.9" fill="#c99f2c"/>
<polygon points="129.5,520.22 126.1,526 132.9,526" fill="#c99f2c"/>
<polygon points="107.2,533.22 103.8,539 110.6,539" fill="#c99f2c"/>
<polygon points="92.3,546.12 88.9,551.9 95.7,551.9" fill="#c99f2c"/>
<polygon points="84.8,556.02 81.4,561.8 88.2,561.8" fill="#c99f2c"/>
<polygon points="80.5,562.82 77.1,568.6 83.9,568.6" fill="#c99f2c"/>
<polygon points="77.5,569.14 74.44,574.34 80.56,574.34" fill="#c99f2c"/>
<polygon points="75.5,574.14 72.44,579.34 78.56,579.34" fill="#c99f2c"/>
<polygon points="73.8,577.64 70.74,582.84 76.86,582.84" fill="#c99f2c"/>
<polyline points="118.4,508.8 111.2,520 106.6,530.8 102.6,539 98.5,545.6 94.7,551.8 90,558 86,564 82,570 78.5,575.5 75.5,579.5 73.5,582.5" fill="none" stroke="#6a9f48" stroke-width="1" stroke-linejoin="round" />
<polygon points="118.4,505.23 121.97,508.8 118.4,512.37 114.83,508.8" fill="#6a9f48"/>
<polygon points="111.21,516.42 114.78,519.99 111.21,523.56 107.64,519.99" fill="#6a9f48"/>
<polygon points="106.87,526.6 110.44,530.17 106.87,533.74 103.3,530.17" fill="#6a9f48"/>
<polygon points="102.7,535.23 106.27,538.8 102.7,542.37 99.13,538.8" fill="#6a9f48"/>
<polygon points="98.24,542.46 101.81,546.03 98.24,549.6 94.67,546.03" fill="#6a9f48"/>
<polygon points="94.15,548.96 97.72,552.53 94.15,556.1 90.58,552.53" fill="#6a9f48"/>
<polygon points="89.9,554.57 93.47,558.14 89.9,561.71 86.33,558.14" fill="#6a9f48"/>
<polygon points="86.29,560 89.86,563.57 86.29,567.14 82.72,563.57" fill="#6a9f48"/>
<polygon points="85.01,561.91 88.58,565.48 85.01,569.05 81.44,565.48" fill="#6a9f48"/>
<polygon points="83.73,563.83 87.3,567.4 83.73,570.97 80.16,567.4" fill="#6a9f48"/>
<polygon points="82.46,565.74 86.03,569.31 82.46,572.88 78.89,569.31" fill="#6a9f48"/>
<polygon points="81.21,567.67 84.78,571.24 81.21,574.81 77.64,571.24" fill="#6a9f48"/>
<polygon points="79.97,569.61 83.54,573.18 79.97,576.75 76.4,573.18" fill="#6a9f48"/>
<polygon points="78.74,571.55 82.31,575.12 78.74,578.69 75.17,575.12" fill="#6a9f48"/>
<polygon points="77.39,573.41 80.96,576.98 77.39,580.55 73.82,576.98" fill="#6a9f48"/>
<polygon points="76.01,575.25 79.58,578.82 76.01,582.39 72.44,578.82" fill="#6a9f48"/>
<polygon points="74.69,577.14 78.26,580.71 74.69,584.28 71.12,580.71" fill="#6a9f48"/>
<polygon points="73.5,578.93 77.07,582.5 73.5,586.07 69.93,582.5" fill="#6a9f48"/>
<rect x="68.2" y="564.2" width="35.7" height="21.3" fill="none" stroke="#222" stroke-width="0.9"/>
<line x1="73.7" y1="564.2" x2="101.75" y2="458.35" stroke="#111" stroke-width="0.8" />
<polygon points="102.9,454 103.55,459.35 99.69,458.32" fill="#111"/>
<text x="131.2" y="475.6" font-size="11" fill="#222" >0.005 Hz</text>
<text x="123.3" y="573.9" font-size="11" fill="#222" >0.016 Hz</text>
<line x1="146" y1="477" x2="128.61" y2="494.56" stroke="#cc66f0" stroke-width="0.8" />
<polygon points="125.8,497.4 127.69,492.94 130.25,495.47" fill="#cc66f0"/>
<line x1="146" y1="477" x2="125.62" y2="500.57" stroke="#6a9f48" stroke-width="0.8" />
<polygon points="123,503.6 124.58,499.02 127.3,501.37" fill="#6a9f48"/>
<line x1="135.8" y1="563.2" x2="132.51" y2="515.09" stroke="#e8645d" stroke-width="0.8" />
<polygon points="132.2,510.6 134.54,515.45 130.55,515.72" fill="#e8645d"/>
<line x1="135.3" y1="563.3" x2="112.62" y2="543.92" stroke="#c99f2c" stroke-width="0.8" />
<polygon points="109.2,541 114.3,542.73 111.7,545.77" fill="#c99f2c"/>
<rect x="80" y="341.5" width="100.2" height="99.8" fill="url(#gNyq)"/>
<g clip-path="url(#cic)">
<polyline points="112.73,395.21 113.55,400.73 114.16,407.88 114.77,414.01 115.18,420.14 115.59,423.82 116.82,420.14 118.25,415.03 119.68,409.92 121.31,404.2 123.36,398.68 125.4,392.55 127.44,386.42 129.49,379.27 131.53,372.12 133.57,362.92 135.62,352.7 137.25,344.52" fill="none" stroke="#c99f2c" stroke-width="0.75" stroke-linejoin="round" />
<polygon points="112.73,393.81 111.23,396.36 114.23,396.36" fill="#c99f2c"/>
<polygon points="113.55,399.33 112.05,401.88 115.05,401.88" fill="#c99f2c"/>
<polygon points="114.16,406.48 112.66,409.03 115.66,409.03" fill="#c99f2c"/>
<polygon points="114.77,412.61 113.27,415.16 116.27,415.16" fill="#c99f2c"/>
<polygon points="115.18,418.74 113.68,421.29 116.68,421.29" fill="#c99f2c"/>
<polygon points="115.59,422.42 114.09,424.97 117.09,424.97" fill="#c99f2c"/>
<polygon points="116.82,418.74 115.32,421.29 118.32,421.29" fill="#c99f2c"/>
<polygon points="118.25,413.63 116.75,416.18 119.75,416.18" fill="#c99f2c"/>
<polygon points="119.68,408.52 118.18,411.07 121.18,411.07" fill="#c99f2c"/>
<polygon points="121.31,402.8 119.81,405.35 122.81,405.35" fill="#c99f2c"/>
<polygon points="123.36,397.28 121.86,399.83 124.86,399.83" fill="#c99f2c"/>
<polygon points="125.4,391.15 123.9,393.7 126.9,393.7" fill="#c99f2c"/>
<polygon points="127.44,385.02 125.94,387.57 128.94,387.57" fill="#c99f2c"/>
<polygon points="129.49,377.87 127.99,380.42 130.99,380.42" fill="#c99f2c"/>
<polygon points="131.53,370.71 130.03,373.26 133.03,373.26" fill="#c99f2c"/>
<polygon points="133.57,361.52 132.07,364.07 135.07,364.07" fill="#c99f2c"/>
<polygon points="135.62,351.3 134.12,353.85 137.12,353.85" fill="#c99f2c"/>
<polygon points="137.25,343.12 135.75,345.67 138.75,345.67" fill="#c99f2c"/>
<polyline points="104.96,380.9 106.6,387.44 108.03,393.57 109.05,401.75 110.07,409.92 110.68,418.1 111.09,423.21 112.12,420.14 113.14,416.06 114.36,410.95 115.59,405.84 117.22,400.73 118.86,394.6 120.49,388.47 122.33,382.33 123.97,376.2 125.4,370.07 127.44,361.9 129.49,354.74 131.53,346.57 132.76,342.48" fill="none" stroke="#cc66f0" stroke-width="0.75" stroke-linejoin="round" />
<polygon points="104.96,382.43 103.46,379.88 106.46,379.88" fill="#cc66f0"/>
<polygon points="106.6,388.97 105.1,386.42 108.1,386.42" fill="#cc66f0"/>
<polygon points="108.03,395.1 106.53,392.55 109.53,392.55" fill="#cc66f0"/>
<polygon points="109.05,403.28 107.55,400.73 110.55,400.73" fill="#cc66f0"/>
<polygon points="110.07,411.45 108.57,408.9 111.57,408.9" fill="#cc66f0"/>
<polygon points="110.68,419.63 109.18,417.08 112.18,417.08" fill="#cc66f0"/>
<polygon points="111.09,424.74 109.59,422.19 112.59,422.19" fill="#cc66f0"/>
<polygon points="112.12,421.67 110.62,419.12 113.62,419.12" fill="#cc66f0"/>
<polygon points="113.14,417.59 111.64,415.04 114.64,415.04" fill="#cc66f0"/>
<polygon points="114.36,412.48 112.86,409.93 115.86,409.93" fill="#cc66f0"/>
<polygon points="115.59,407.37 114.09,404.82 117.09,404.82" fill="#cc66f0"/>
<polygon points="117.22,402.26 115.72,399.71 118.72,399.71" fill="#cc66f0"/>
<polygon points="118.86,396.13 117.36,393.58 120.36,393.58" fill="#cc66f0"/>
<polygon points="120.49,390 118.99,387.45 121.99,387.45" fill="#cc66f0"/>
<polygon points="122.33,383.86 120.83,381.31 123.83,381.31" fill="#cc66f0"/>
<polygon points="123.97,377.73 122.47,375.18 125.47,375.18" fill="#cc66f0"/>
<polygon points="125.4,371.6 123.9,369.05 126.9,369.05" fill="#cc66f0"/>
<polygon points="127.44,363.43 125.94,360.88 128.94,360.88" fill="#cc66f0"/>
<polygon points="129.49,356.27 127.99,353.72 130.99,353.72" fill="#cc66f0"/>
<polygon points="131.53,348.1 130.03,345.55 133.03,345.55" fill="#cc66f0"/>
<polygon points="132.76,344.01 131.26,341.46 134.26,341.46" fill="#cc66f0"/>
<polyline points="98.22,399.3 98.83,403.79 99.44,407.88 100.06,411.97 100.47,416.06 100.87,420.14 101.28,423.21 101.9,421.16 102.51,418.1 103.33,414.01 104.55,409.92 105.98,405.84 107.41,400.73 108.64,395.62 110.07,389.49 111.5,383.36 113.14,377.22 114.77,369.05 116.41,360.87 118.25,352.7 119.68,342.48" fill="none" stroke="#6a9f48" stroke-width="0.75" stroke-linejoin="round" />
<polygon points="98.22,397.72 99.79,399.3 98.22,400.87 96.64,399.3" fill="#6a9f48"/>
<polygon points="98.83,402.22 100.41,403.79 98.83,405.37 97.26,403.79" fill="#6a9f48"/>
<polygon points="99.44,406.31 101.02,407.88 99.44,409.46 97.87,407.88" fill="#6a9f48"/>
<polygon points="100.06,410.39 101.63,411.97 100.06,413.54 98.48,411.97" fill="#6a9f48"/>
<polygon points="100.47,414.48 102.04,416.06 100.47,417.63 98.89,416.06" fill="#6a9f48"/>
<polygon points="100.87,418.57 102.45,420.14 100.87,421.72 99.3,420.14" fill="#6a9f48"/>
<polygon points="101.28,421.63 102.86,423.21 101.28,424.78 99.71,423.21" fill="#6a9f48"/>
<polygon points="101.9,419.59 103.47,421.16 101.9,422.74 100.32,421.16" fill="#6a9f48"/>
<polygon points="102.51,416.52 104.08,418.1 102.51,419.67 100.93,418.1" fill="#6a9f48"/>
<polygon points="103.33,412.44 104.9,414.01 103.33,415.59 101.75,414.01" fill="#6a9f48"/>
<polygon points="104.55,408.35 106.13,409.92 104.55,411.5 102.98,409.92" fill="#6a9f48"/>
<polygon points="105.98,404.26 107.56,405.84 105.98,407.41 104.41,405.84" fill="#6a9f48"/>
<polygon points="107.41,399.15 108.99,400.73 107.41,402.3 105.84,400.73" fill="#6a9f48"/>
<polygon points="108.64,394.04 110.22,395.62 108.64,397.19 107.07,395.62" fill="#6a9f48"/>
<polygon points="110.07,387.91 111.65,389.49 110.07,391.06 108.5,389.49" fill="#6a9f48"/>
<polygon points="111.5,381.78 113.08,383.36 111.5,384.93 109.93,383.36" fill="#6a9f48"/>
<polygon points="113.14,375.65 114.71,377.22 113.14,378.8 111.56,377.22" fill="#6a9f48"/>
<polygon points="114.77,367.47 116.35,369.05 114.77,370.62 113.2,369.05" fill="#6a9f48"/>
<polygon points="116.41,359.3 117.98,360.87 116.41,362.45 114.83,360.87" fill="#6a9f48"/>
<polygon points="118.25,351.12 119.82,352.7 118.25,354.27 116.67,352.7" fill="#6a9f48"/>
<polygon points="119.68,340.91 121.25,342.48 119.68,344.06 118.1,342.48" fill="#6a9f48"/>
<polyline points="146.45,385.81 146.65,395.21 147.47,403.79 147.88,409.92 148.29,416.06 148.9,422.19 149.92,417.08 151.35,409.92 152.99,405.84 155.03,401.75 157.08,397.66 159.12,390.51 161.16,385.4 164.23,379.27 166.68,371.09 168.32,361.9 171.38,350.66 173.43,342.48" fill="none" stroke="#e8645d" stroke-width="0.75" stroke-linejoin="round" />
<circle cx="146.45" cy="385.81" r="1.5" fill="#e8645d"/>
<circle cx="146.65" cy="395.21" r="1.5" fill="#e8645d"/>
<circle cx="147.47" cy="403.79" r="1.5" fill="#e8645d"/>
<circle cx="147.88" cy="409.92" r="1.5" fill="#e8645d"/>
<circle cx="148.29" cy="416.06" r="1.5" fill="#e8645d"/>
<circle cx="148.9" cy="422.19" r="1.5" fill="#e8645d"/>
<circle cx="149.92" cy="417.08" r="1.5" fill="#e8645d"/>
<circle cx="151.35" cy="409.92" r="1.5" fill="#e8645d"/>
<circle cx="152.99" cy="405.84" r="1.5" fill="#e8645d"/>
<circle cx="155.03" cy="401.75" r="1.5" fill="#e8645d"/>
<circle cx="157.08" cy="397.66" r="1.5" fill="#e8645d"/>
<circle cx="159.12" cy="390.51" r="1.5" fill="#e8645d"/>
<circle cx="161.16" cy="385.4" r="1.5" fill="#e8645d"/>
<circle cx="164.23" cy="379.27" r="1.5" fill="#e8645d"/>
<circle cx="166.68" cy="371.09" r="1.5" fill="#e8645d"/>
<circle cx="168.32" cy="361.9" r="1.5" fill="#e8645d"/>
<circle cx="171.38" cy="350.66" r="1.5" fill="#e8645d"/>
<circle cx="173.43" cy="342.48" r="1.5" fill="#e8645d"/>
</g>
<line x1="83.5" y1="441.3" x2="83.5" y2="440.1" stroke="#111" stroke-width="0.6" />
<line x1="88.5" y1="441.3" x2="88.5" y2="439.1" stroke="#111" stroke-width="0.6" />
<text x="88.5" y="446.5" font-size="4.4" font-weight="bold" text-anchor="middle" fill="#000" >9</text>
<line x1="93.5" y1="441.3" x2="93.5" y2="440.1" stroke="#111" stroke-width="0.6" />
<line x1="98.5" y1="441.3" x2="98.5" y2="440.1" stroke="#111" stroke-width="0.6" />
<line x1="103.49" y1="441.3" x2="103.49" y2="440.1" stroke="#111" stroke-width="0.6" />
<line x1="108.49" y1="441.3" x2="108.49" y2="440.1" stroke="#111" stroke-width="0.6" />
<line x1="113.49" y1="441.3" x2="113.49" y2="439.1" stroke="#111" stroke-width="0.6" />
<text x="113.49" y="446.5" font-size="4.4" font-weight="bold" text-anchor="middle" fill="#000" >12</text>
<line x1="118.49" y1="441.3" x2="118.49" y2="440.1" stroke="#111" stroke-width="0.6" />
<line x1="123.49" y1="441.3" x2="123.49" y2="440.1" stroke="#111" stroke-width="0.6" />
<line x1="128.48" y1="441.3" x2="128.48" y2="440.1" stroke="#111" stroke-width="0.6" />
<line x1="133.48" y1="441.3" x2="133.48" y2="440.1" stroke="#111" stroke-width="0.6" />
<line x1="138.48" y1="441.3" x2="138.48" y2="439.1" stroke="#111" stroke-width="0.6" />
<text x="138.48" y="446.5" font-size="4.4" font-weight="bold" text-anchor="middle" fill="#000" >15</text>
<line x1="143.48" y1="441.3" x2="143.48" y2="440.1" stroke="#111" stroke-width="0.6" />
<line x1="148.48" y1="441.3" x2="148.48" y2="440.1" stroke="#111" stroke-width="0.6" />
<line x1="153.47" y1="441.3" x2="153.47" y2="440.1" stroke="#111" stroke-width="0.6" />
<line x1="158.47" y1="441.3" x2="158.47" y2="440.1" stroke="#111" stroke-width="0.6" />
<line x1="163.47" y1="441.3" x2="163.47" y2="439.1" stroke="#111" stroke-width="0.6" />
<text x="163.47" y="446.5" font-size="4.4" font-weight="bold" text-anchor="middle" fill="#000" >18</text>
<line x1="168.47" y1="441.3" x2="168.47" y2="440.1" stroke="#111" stroke-width="0.6" />
<line x1="80" y1="438.06" x2="81.2" y2="438.06" stroke="#111" stroke-width="0.6" />
<line x1="80" y1="432.38" x2="81.2" y2="432.38" stroke="#111" stroke-width="0.6" />
<line x1="80" y1="426.7" x2="82.2" y2="426.7" stroke="#111" stroke-width="0.6" />
<text x="78.1" y="428.2" font-size="4.4" font-weight="bold" text-anchor="end" fill="#000" >0</text>
<line x1="80" y1="421.02" x2="81.2" y2="421.02" stroke="#111" stroke-width="0.6" />
<line x1="80" y1="415.34" x2="81.2" y2="415.34" stroke="#111" stroke-width="0.6" />
<line x1="80" y1="409.66" x2="81.2" y2="409.66" stroke="#111" stroke-width="0.6" />
<line x1="80" y1="403.98" x2="81.2" y2="403.98" stroke="#111" stroke-width="0.6" />
<line x1="80" y1="398.3" x2="82.2" y2="398.3" stroke="#111" stroke-width="0.6" />
<text x="78.1" y="399.8" font-size="4.4" font-weight="bold" text-anchor="end" fill="#000" >1</text>
<line x1="80" y1="392.62" x2="81.2" y2="392.62" stroke="#111" stroke-width="0.6" />
<line x1="80" y1="386.94" x2="81.2" y2="386.94" stroke="#111" stroke-width="0.6" />
<line x1="80" y1="381.26" x2="81.2" y2="381.26" stroke="#111" stroke-width="0.6" />
<line x1="80" y1="375.58" x2="81.2" y2="375.58" stroke="#111" stroke-width="0.6" />
<line x1="80" y1="369.9" x2="82.2" y2="369.9" stroke="#111" stroke-width="0.6" />
<text x="78.1" y="371.4" font-size="4.4" font-weight="bold" text-anchor="end" fill="#000" >2</text>
<line x1="80" y1="364.22" x2="81.2" y2="364.22" stroke="#111" stroke-width="0.6" />
<line x1="80" y1="358.54" x2="81.2" y2="358.54" stroke="#111" stroke-width="0.6" />
<line x1="80" y1="352.86" x2="81.2" y2="352.86" stroke="#111" stroke-width="0.6" />
<line x1="80" y1="347.18" x2="81.2" y2="347.18" stroke="#111" stroke-width="0.6" />
<text x="78.1" y="343" font-size="4.4" font-weight="bold" text-anchor="end" fill="#000" >3</text>
<rect x="80" y="341.5" width="100.2" height="99.8" fill="none" stroke="#333333" stroke-width="0.8"/>
<text x="130.1" y="455.3" font-size="5.2" font-weight="bold" text-anchor="middle" fill="#000" >Z′ / Ω cm<tspan dy="-2" font-size="3.5">2</tspan></text>
<text x="71.4" y="391.4" font-size="5.2" font-weight="bold" text-anchor="middle" transform="rotate(-90 71.4 391.4)">-Z″ / Ω cm<tspan dy="-2" font-size="3.5">2</tspan></text>
<line x1="237.6" y1="335.7" x2="262.6" y2="335.7" stroke="#e8645d" stroke-width="1.1" />
<circle cx="250.1" cy="335.7" r="3.4" fill="#e8645d"/>
<text x="264.8" y="339.3" font-size="10.8" fill="#000" >2 d</text>
<line x1="283.6" y1="335.7" x2="308.5" y2="335.7" stroke="#c99f2c" stroke-width="1.1" />
<polygon points="296,332.15 292.2,338.61 299.8,338.61" fill="#c99f2c"/>
<text x="310.9" y="339.3" font-size="10.8" fill="#000" >3 d</text>
<line x1="237.6" y1="349" x2="262.6" y2="349" stroke="#cc66f0" stroke-width="1.1" />
<polygon points="250.1,352.88 246.3,346.42 253.9,346.42" fill="#cc66f0"/>
<text x="264.8" y="352.6" font-size="10.8" fill="#000" >5 d</text>
<line x1="283.6" y1="349" x2="308.5" y2="349" stroke="#6a9f48" stroke-width="1.1" />
<polygon points="296,345.32 299.68,349 296,352.68 292.32,349" fill="#6a9f48"/>
<text x="310.9" y="352.6" font-size="10.8" fill="#000" >7 d</text>
<polyline points="224.2,806.3 182.7,804.4 137.5,815.2 106.8,838.8 90.2,860.1 83.1,875.9 79.7,885.6 77.1,893.5 75.2,898 73.5,901" fill="none" stroke="#e8645d" stroke-width="1.1" stroke-linejoin="round" />
<circle cx="224.2" cy="806.3" r="3.4" fill="#e8645d"/>
<circle cx="182.7" cy="804.4" r="3.4" fill="#e8645d"/>
<circle cx="137.5" cy="815.2" r="3.4" fill="#e8645d"/>
<circle cx="106.8" cy="838.8" r="3.4" fill="#e8645d"/>
<circle cx="90.2" cy="860.1" r="3.4" fill="#e8645d"/>
<circle cx="83.1" cy="875.9" r="3.4" fill="#e8645d"/>
<circle cx="79.7" cy="885.6" r="3.06" fill="#e8645d"/>
<circle cx="77.1" cy="893.5" r="3.06" fill="#e8645d"/>
<circle cx="75.2" cy="898" r="3.06" fill="#e8645d"/>
<circle cx="73.5" cy="901" r="3.06" fill="#e8645d"/>
<polyline points="117.8,825.2 108.6,836.2 99.4,853.6 93,866 88,876 84,885 80,892 76.5,897.5 73.5,901.5" fill="none" stroke="#cc66f0" stroke-width="1" stroke-linejoin="round" />
<polygon points="117.8,828.67 114.4,822.89 121.2,822.89" fill="#cc66f0"/>
<polygon points="109.27,838.87 105.87,833.09 112.67,833.09" fill="#cc66f0"/>
<polygon points="104.15,848.09 100.75,842.31 107.55,842.31" fill="#cc66f0"/>
<polygon points="99.99,855.95 96.59,850.17 103.39,850.17" fill="#cc66f0"/>
<polygon points="96.42,862.85 93.02,857.07 99.82,857.07" fill="#cc66f0"/>
<polygon points="93.23,869.02 89.83,863.24 96.63,863.24" fill="#cc66f0"/>
<polygon points="90.4,874.68 87,868.9 93.8,868.9" fill="#cc66f0"/>
<polygon points="87.81,879.91 84.41,874.13 91.21,874.13" fill="#cc66f0"/>
<polygon points="85.59,884.88 82.19,879.1 88.99,879.1" fill="#cc66f0"/>
<polygon points="84.66,886.98 81.26,881.2 88.06,881.2" fill="#cc66f0"/>
<polygon points="83.67,889.05 80.27,883.27 87.07,883.27" fill="#cc66f0"/>
<polygon points="82.52,891.05 79.12,885.27 85.92,885.27" fill="#cc66f0"/>
<polygon points="81.38,893.05 77.98,887.27 84.78,887.27" fill="#cc66f0"/>
<polygon points="80.24,895.04 76.84,889.26 83.64,889.26" fill="#cc66f0"/>
<polygon points="79.03,897 75.63,891.22 82.43,891.22" fill="#cc66f0"/>
<polygon points="77.79,898.94 74.39,893.16 81.19,893.16" fill="#cc66f0"/>
<polygon points="76.56,900.88 73.16,895.1 79.96,895.1" fill="#cc66f0"/>
<polygon points="75.18,902.72 71.78,896.94 78.58,896.94" fill="#cc66f0"/>
<polygon points="73.8,904.56 70.4,898.78 77.2,898.78" fill="#cc66f0"/>
<polygon points="73.5,904.97 70.1,899.19 76.9,899.19" fill="#cc66f0"/>
<polyline points="153.3,827.8 119.9,839.6 98.1,857.5 86.3,877.7 80.5,889 76.5,896 73.5,901" fill="none" stroke="#c99f2c" stroke-width="1.1" stroke-linejoin="round" />
<polygon points="153.3,824.62 149.9,830.4 156.7,830.4" fill="#c99f2c"/>
<polygon points="119.9,836.42 116.5,842.2 123.3,842.2" fill="#c99f2c"/>
<polygon points="98.1,854.32 94.7,860.1 101.5,860.1" fill="#c99f2c"/>
<polygon points="86.3,874.52 82.9,880.3 89.7,880.3" fill="#c99f2c"/>
<polygon points="80.5,885.82 77.1,891.6 83.9,891.6" fill="#c99f2c"/>
<polygon points="76.5,892.82 73.1,898.6 79.9,898.6" fill="#c99f2c"/>
<polygon points="73.5,898.14 70.44,903.34 76.56,903.34" fill="#c99f2c"/>
<polyline points="112.5,826.5 104.7,838.8 98.1,849.3 93.6,858.8 90.2,866.7 87.6,873 85,880.4 82,887 79,893 76,898 73.5,902" fill="none" stroke="#6a9f48" stroke-width="1" stroke-linejoin="round" />
<polygon points="112.5,822.93 116.07,826.5 112.5,830.07 108.93,826.5" fill="#6a9f48"/>
<polygon points="105.38,834.16 108.95,837.73 105.38,841.3 101.81,837.73" fill="#6a9f48"/>
<polygon points="99.75,843.1 103.32,846.67 99.75,850.24 96.18,846.67" fill="#6a9f48"/>
<polygon points="95.62,850.96 99.19,854.53 95.62,858.1 92.05,854.53" fill="#6a9f48"/>
<polygon points="92.4,858.03 95.97,861.6 92.4,865.17 88.83,861.6" fill="#6a9f48"/>
<polygon points="89.67,864.42 93.24,867.99 89.67,871.56 86.1,867.99" fill="#6a9f48"/>
<polygon points="87.3,870.28 90.87,873.85 87.3,877.42 83.73,873.85" fill="#6a9f48"/>
<polygon points="85.37,875.79 88.94,879.36 85.37,882.93 81.8,879.36" fill="#6a9f48"/>
<polygon points="83.2,880.78 86.77,884.35 83.2,887.92 79.63,884.35" fill="#6a9f48"/>
<polygon points="82.25,882.88 85.82,886.45 82.25,890.02 78.68,886.45" fill="#6a9f48"/>
<polygon points="81.24,884.94 84.81,888.51 81.24,892.08 77.67,888.51" fill="#6a9f48"/>
<polygon points="80.21,887 83.78,890.57 80.21,894.14 76.64,890.57" fill="#6a9f48"/>
<polygon points="79.19,889.06 82.76,892.63 79.19,896.2 75.62,892.63" fill="#6a9f48"/>
<polygon points="78.03,891.05 81.6,894.62 78.03,898.19 74.46,894.62" fill="#6a9f48"/>
<polygon points="76.85,893.02 80.42,896.59 76.85,900.16 73.28,896.59" fill="#6a9f48"/>
<polygon points="75.65,894.98 79.22,898.55 75.65,902.12 72.08,898.55" fill="#6a9f48"/>
<polygon points="74.44,896.93 78.01,900.5 74.44,904.07 70.87,900.5" fill="#6a9f48"/>
<polygon points="73.5,898.43 77.07,902 73.5,905.57 69.93,902" fill="#6a9f48"/>
<rect x="63.2" y="886.9" width="35.7" height="21.6" fill="none" stroke="#222" stroke-width="0.9"/>
<line x1="70.5" y1="886.9" x2="115.84" y2="780.34" stroke="#111" stroke-width="0.8" />
<polygon points="117.6,776.2 117.48,781.58 113.8,780.02" fill="#111"/>
<text x="124.8" y="792" font-size="11" fill="#222" >0.005 Hz</text>
<text x="114.6" y="886.4" font-size="11" fill="#222" >0.016 Hz</text>
<line x1="137.5" y1="795.7" x2="121.29" y2="820.55" stroke="#cc66f0" stroke-width="0.8" />
<polygon points="119.1,823.9 120.05,819.15 123.07,821.11" fill="#cc66f0"/>
<line x1="137.5" y1="795.7" x2="116.69" y2="817.04" stroke="#6a9f48" stroke-width="0.8" />
<polygon points="113.9,819.9 115.75,815.42 118.33,817.94" fill="#6a9f48"/>
<line x1="129.6" y1="875.1" x2="135.68" y2="823.37" stroke="#e8645d" stroke-width="0.8" />
<polygon points="136.2,818.9 137.6,824.1 133.63,823.63" fill="#e8645d"/>
<line x1="129.6" y1="875.1" x2="105.77" y2="862.41" stroke="#c99f2c" stroke-width="0.8" />
<polygon points="101.8,860.3 107.15,860.88 105.27,864.42" fill="#c99f2c"/>
<rect x="82.5" y="660" width="98.1" height="98.1" fill="url(#gNyq)"/>
<g clip-path="url(#cie)">
<polyline points="109.05,716.64 109.46,722.77 110.07,729.92 110.68,736.06 111.5,741.16 112.73,742.19 114.16,740.14 116.2,736.06 119.27,729.92 122.33,722.77 125.4,717.25 128.47,709.49 131.53,700.9 135.62,690.07 140.73,678.83 144.2,671.68 147.88,664.52 150.95,659.42" fill="none" stroke="#c99f2c" stroke-width="0.75" stroke-linejoin="round" />
<polygon points="109.05,715.24 107.55,717.79 110.55,717.79" fill="#c99f2c"/>
<polygon points="109.46,721.37 107.96,723.92 110.96,723.92" fill="#c99f2c"/>
<polygon points="110.07,728.52 108.57,731.07 111.57,731.07" fill="#c99f2c"/>
<polygon points="110.68,734.65 109.18,737.2 112.18,737.2" fill="#c99f2c"/>
<polygon points="111.5,739.76 110,742.31 113,742.31" fill="#c99f2c"/>
<polygon points="112.73,740.78 111.23,743.33 114.23,743.33" fill="#c99f2c"/>
<polygon points="114.16,738.74 112.66,741.29 115.66,741.29" fill="#c99f2c"/>
<polygon points="116.2,734.65 114.7,737.2 117.7,737.2" fill="#c99f2c"/>
<polygon points="119.27,728.52 117.77,731.07 120.77,731.07" fill="#c99f2c"/>
<polygon points="122.33,721.37 120.83,723.92 123.83,723.92" fill="#c99f2c"/>
<polygon points="125.4,715.85 123.9,718.4 126.9,718.4" fill="#c99f2c"/>
<polygon points="128.47,708.08 126.97,710.63 129.97,710.63" fill="#c99f2c"/>
<polygon points="131.53,699.5 130.03,702.05 133.03,702.05" fill="#c99f2c"/>
<polygon points="135.62,688.67 134.12,691.22 137.12,691.22" fill="#c99f2c"/>
<polygon points="140.73,677.43 139.23,679.98 142.23,679.98" fill="#c99f2c"/>
<polygon points="144.2,670.28 142.7,672.83 145.7,672.83" fill="#c99f2c"/>
<polygon points="147.88,663.12 146.38,665.67 149.38,665.67" fill="#c99f2c"/>
<polygon points="150.95,658.01 149.45,660.56 152.45,660.56" fill="#c99f2c"/>
<polyline points="103.94,694.77 105.98,702.33 108.03,711.53 110.07,718.68 112.12,727.88 113.14,736.06 113.55,743.21 114.77,740.14 116.82,735.65 119.27,729.92 122.33,723.79 125.4,717.66 129.49,707.44 133.57,699.27 137.66,689.05 141.75,677.81 145.84,667.59 149.92,659.42" fill="none" stroke="#cc66f0" stroke-width="0.75" stroke-linejoin="round" />
<polygon points="103.94,696.3 102.44,693.75 105.44,693.75" fill="#cc66f0"/>
<polygon points="105.98,703.86 104.48,701.31 107.48,701.31" fill="#cc66f0"/>
<polygon points="108.03,713.06 106.53,710.51 109.53,710.51" fill="#cc66f0"/>
<polygon points="110.07,720.21 108.57,717.66 111.57,717.66" fill="#cc66f0"/>
<polygon points="112.12,729.41 110.62,726.86 113.62,726.86" fill="#cc66f0"/>
<polygon points="113.14,737.59 111.64,735.04 114.64,735.04" fill="#cc66f0"/>
<polygon points="113.55,744.74 112.05,742.19 115.05,742.19" fill="#cc66f0"/>
<polygon points="114.77,741.67 113.27,739.12 116.27,739.12" fill="#cc66f0"/>
<polygon points="116.82,737.18 115.32,734.63 118.32,734.63" fill="#cc66f0"/>
<polygon points="119.27,731.45 117.77,728.9 120.77,728.9" fill="#cc66f0"/>
<polygon points="122.33,725.32 120.83,722.77 123.83,722.77" fill="#cc66f0"/>
<polygon points="125.4,719.19 123.9,716.64 126.9,716.64" fill="#cc66f0"/>
<polygon points="129.49,708.97 127.99,706.42 130.99,706.42" fill="#cc66f0"/>
<polygon points="133.57,700.8 132.07,698.25 135.07,698.25" fill="#cc66f0"/>
<polygon points="137.66,690.58 136.16,688.03 139.16,688.03" fill="#cc66f0"/>
<polygon points="141.75,679.34 140.25,676.79 143.25,676.79" fill="#cc66f0"/>
<polygon points="145.84,669.12 144.34,666.57 147.34,666.57" fill="#cc66f0"/>
<polygon points="149.92,660.95 148.42,658.4 151.42,658.4" fill="#cc66f0"/>
<polyline points="104.55,689.05 108.03,697.22 110.68,705.4 112.12,716.64 113.55,721.75 115.18,727.88 116.82,732.99 118.25,741.16 119.27,741.57 120.7,736.06 122.33,729.92 124.99,723.79 127.44,716.64 130.51,710.51 133.17,704.99 135.62,700.29 138.68,692.73 141.75,685.98 145.84,676.79 149.92,667.59 152.99,659.42" fill="none" stroke="#6a9f48" stroke-width="0.75" stroke-linejoin="round" />
<polygon points="104.55,687.47 106.13,689.05 104.55,690.62 102.98,689.05" fill="#6a9f48"/>
<polygon points="108.03,695.65 109.6,697.22 108.03,698.8 106.45,697.22" fill="#6a9f48"/>
<polygon points="110.68,703.82 112.26,705.4 110.68,706.97 109.11,705.4" fill="#6a9f48"/>
<polygon points="112.12,715.07 113.69,716.64 112.12,718.22 110.54,716.64" fill="#6a9f48"/>
<polygon points="113.55,720.17 115.12,721.75 113.55,723.32 111.97,721.75" fill="#6a9f48"/>
<polygon points="115.18,726.31 116.76,727.88 115.18,729.46 113.61,727.88" fill="#6a9f48"/>
<polygon points="116.82,731.41 118.39,732.99 116.82,734.56 115.24,732.99" fill="#6a9f48"/>
<polygon points="118.25,739.59 119.82,741.16 118.25,742.74 116.67,741.16" fill="#6a9f48"/>
<polygon points="119.27,740 120.84,741.57 119.27,743.15 117.69,741.57" fill="#6a9f48"/>
<polygon points="120.7,734.48 122.27,736.06 120.7,737.63 119.12,736.06" fill="#6a9f48"/>
<polygon points="122.33,728.35 123.91,729.92 122.33,731.5 120.76,729.92" fill="#6a9f48"/>
<polygon points="124.99,722.22 126.57,723.79 124.99,725.37 123.42,723.79" fill="#6a9f48"/>
<polygon points="127.44,715.07 129.02,716.64 127.44,718.22 125.87,716.64" fill="#6a9f48"/>
<polygon points="130.51,708.93 132.08,710.51 130.51,712.08 128.93,710.51" fill="#6a9f48"/>
<polygon points="133.17,703.42 134.74,704.99 133.17,706.57 131.59,704.99" fill="#6a9f48"/>
<polygon points="135.62,698.72 137.19,700.29 135.62,701.87 134.04,700.29" fill="#6a9f48"/>
<polygon points="138.68,691.15 140.26,692.73 138.68,694.3 137.11,692.73" fill="#6a9f48"/>
<polygon points="141.75,684.41 143.32,685.98 141.75,687.56 140.17,685.98" fill="#6a9f48"/>
<polygon points="145.84,675.21 147.41,676.79 145.84,678.36 144.26,676.79" fill="#6a9f48"/>
<polygon points="149.92,666.02 151.5,667.59 149.92,669.17 148.35,667.59" fill="#6a9f48"/>
<polygon points="152.99,657.84 154.56,659.42 152.99,660.99 151.41,659.42" fill="#6a9f48"/>
<polyline points="134.6,701.31 134.6,713.57 136.03,721.75 136.64,727.88 137.25,735.03 138.68,740.14 139.71,741.16 141.14,739.12 142.77,736.06 144.41,733.6 146.25,731.35 148.29,728.9 150.95,725.43 153.6,721.34 155.44,716.64 158.1,710.51 160.76,701.72 163.82,689.46 166.27,678.83 168.32,670.66 170.36,659.42" fill="none" stroke="#e8645d" stroke-width="0.75" stroke-linejoin="round" />
<circle cx="134.6" cy="701.31" r="1.5" fill="#e8645d"/>
<circle cx="134.6" cy="713.57" r="1.5" fill="#e8645d"/>
<circle cx="136.03" cy="721.75" r="1.5" fill="#e8645d"/>
<circle cx="136.64" cy="727.88" r="1.5" fill="#e8645d"/>
<circle cx="137.25" cy="735.03" r="1.5" fill="#e8645d"/>
<circle cx="138.68" cy="740.14" r="1.5" fill="#e8645d"/>
<circle cx="139.71" cy="741.16" r="1.5" fill="#e8645d"/>
<circle cx="141.14" cy="739.12" r="1.5" fill="#e8645d"/>
<circle cx="142.77" cy="736.06" r="1.5" fill="#e8645d"/>
<circle cx="144.41" cy="733.6" r="1.5" fill="#e8645d"/>
<circle cx="146.25" cy="731.35" r="1.5" fill="#e8645d"/>
<circle cx="148.29" cy="728.9" r="1.5" fill="#e8645d"/>
<circle cx="150.95" cy="725.43" r="1.5" fill="#e8645d"/>
<circle cx="153.6" cy="721.34" r="1.5" fill="#e8645d"/>
<circle cx="155.44" cy="716.64" r="1.5" fill="#e8645d"/>
<circle cx="158.1" cy="710.51" r="1.5" fill="#e8645d"/>
<circle cx="160.76" cy="701.72" r="1.5" fill="#e8645d"/>
<circle cx="163.82" cy="689.46" r="1.5" fill="#e8645d"/>
<circle cx="166.27" cy="678.83" r="1.5" fill="#e8645d"/>
<circle cx="168.32" cy="670.66" r="1.5" fill="#e8645d"/>
<circle cx="170.36" cy="659.42" r="1.5" fill="#e8645d"/>
</g>
<line x1="85.59" y1="758.1" x2="85.59" y2="756.9" stroke="#111" stroke-width="0.6" />
<line x1="90.69" y1="758.1" x2="90.69" y2="756.9" stroke="#111" stroke-width="0.6" />
<line x1="95.8" y1="758.1" x2="95.8" y2="755.9" stroke="#111" stroke-width="0.6" />
<text x="95.8" y="763.3" font-size="4.4" font-weight="bold" text-anchor="middle" fill="#000" >40</text>
<line x1="100.91" y1="758.1" x2="100.91" y2="756.9" stroke="#111" stroke-width="0.6" />
<line x1="106.01" y1="758.1" x2="106.01" y2="756.9" stroke="#111" stroke-width="0.6" />
<line x1="111.12" y1="758.1" x2="111.12" y2="756.9" stroke="#111" stroke-width="0.6" />
<line x1="116.22" y1="758.1" x2="116.22" y2="756.9" stroke="#111" stroke-width="0.6" />
<line x1="121.33" y1="758.1" x2="121.33" y2="755.9" stroke="#111" stroke-width="0.6" />
<text x="121.33" y="763.3" font-size="4.4" font-weight="bold" text-anchor="middle" fill="#000" >50</text>
<line x1="126.44" y1="758.1" x2="126.44" y2="756.9" stroke="#111" stroke-width="0.6" />
<line x1="131.54" y1="758.1" x2="131.54" y2="756.9" stroke="#111" stroke-width="0.6" />
<line x1="136.65" y1="758.1" x2="136.65" y2="756.9" stroke="#111" stroke-width="0.6" />
<line x1="141.75" y1="758.1" x2="141.75" y2="756.9" stroke="#111" stroke-width="0.6" />
<line x1="146.86" y1="758.1" x2="146.86" y2="755.9" stroke="#111" stroke-width="0.6" />
<text x="146.86" y="763.3" font-size="4.4" font-weight="bold" text-anchor="middle" fill="#000" >60</text>
<line x1="151.97" y1="758.1" x2="151.97" y2="756.9" stroke="#111" stroke-width="0.6" />
<line x1="157.07" y1="758.1" x2="157.07" y2="756.9" stroke="#111" stroke-width="0.6" />
<line x1="162.18" y1="758.1" x2="162.18" y2="756.9" stroke="#111" stroke-width="0.6" />
<line x1="167.28" y1="758.1" x2="167.28" y2="756.9" stroke="#111" stroke-width="0.6" />
<line x1="172.39" y1="758.1" x2="172.39" y2="755.9" stroke="#111" stroke-width="0.6" />
<text x="172.39" y="763.3" font-size="4.4" font-weight="bold" text-anchor="middle" fill="#000" >70</text>
<line x1="177.5" y1="758.1" x2="177.5" y2="756.9" stroke="#111" stroke-width="0.6" />
<line x1="82.5" y1="757.22" x2="83.7" y2="757.22" stroke="#111" stroke-width="0.6" />
<line x1="82.5" y1="754.12" x2="83.7" y2="754.12" stroke="#111" stroke-width="0.6" />
<line x1="82.5" y1="751.01" x2="83.7" y2="751.01" stroke="#111" stroke-width="0.6" />
<line x1="82.5" y1="747.9" x2="84.7" y2="747.9" stroke="#111" stroke-width="0.6" />
<text x="80.6" y="749.4" font-size="4.4" font-weight="bold" text-anchor="end" fill="#000" >0</text>
<line x1="82.5" y1="744.79" x2="83.7" y2="744.79" stroke="#111" stroke-width="0.6" />
<line x1="82.5" y1="741.68" x2="83.7" y2="741.68" stroke="#111" stroke-width="0.6" />
<line x1="82.5" y1="738.58" x2="83.7" y2="738.58" stroke="#111" stroke-width="0.6" />
<line x1="82.5" y1="735.47" x2="83.7" y2="735.47" stroke="#111" stroke-width="0.6" />
<line x1="82.5" y1="732.36" x2="84.7" y2="732.36" stroke="#111" stroke-width="0.6" />
<text x="80.6" y="733.86" font-size="4.4" font-weight="bold" text-anchor="end" fill="#000" >3</text>
<line x1="82.5" y1="729.25" x2="83.7" y2="729.25" stroke="#111" stroke-width="0.6" />
<line x1="82.5" y1="726.14" x2="83.7" y2="726.14" stroke="#111" stroke-width="0.6" />
<line x1="82.5" y1="723.04" x2="83.7" y2="723.04" stroke="#111" stroke-width="0.6" />
<line x1="82.5" y1="719.93" x2="83.7" y2="719.93" stroke="#111" stroke-width="0.6" />
<line x1="82.5" y1="716.82" x2="84.7" y2="716.82" stroke="#111" stroke-width="0.6" />
<text x="80.6" y="718.32" font-size="4.4" font-weight="bold" text-anchor="end" fill="#000" >6</text>
<line x1="82.5" y1="713.71" x2="83.7" y2="713.71" stroke="#111" stroke-width="0.6" />
<line x1="82.5" y1="710.6" x2="83.7" y2="710.6" stroke="#111" stroke-width="0.6" />
<line x1="82.5" y1="707.5" x2="83.7" y2="707.5" stroke="#111" stroke-width="0.6" />
<line x1="82.5" y1="704.39" x2="83.7" y2="704.39" stroke="#111" stroke-width="0.6" />
<line x1="82.5" y1="701.28" x2="84.7" y2="701.28" stroke="#111" stroke-width="0.6" />
<text x="80.6" y="702.78" font-size="4.4" font-weight="bold" text-anchor="end" fill="#000" >9</text>
<line x1="82.5" y1="698.17" x2="83.7" y2="698.17" stroke="#111" stroke-width="0.6" />
<line x1="82.5" y1="695.06" x2="83.7" y2="695.06" stroke="#111" stroke-width="0.6" />
<line x1="82.5" y1="691.96" x2="83.7" y2="691.96" stroke="#111" stroke-width="0.6" />
<line x1="82.5" y1="688.85" x2="83.7" y2="688.85" stroke="#111" stroke-width="0.6" />
<line x1="82.5" y1="685.74" x2="84.7" y2="685.74" stroke="#111" stroke-width="0.6" />
<text x="80.6" y="687.24" font-size="4.4" font-weight="bold" text-anchor="end" fill="#000" >12</text>
<line x1="82.5" y1="682.63" x2="83.7" y2="682.63" stroke="#111" stroke-width="0.6" />
<line x1="82.5" y1="679.52" x2="83.7" y2="679.52" stroke="#111" stroke-width="0.6" />
<line x1="82.5" y1="676.42" x2="83.7" y2="676.42" stroke="#111" stroke-width="0.6" />
<line x1="82.5" y1="673.31" x2="83.7" y2="673.31" stroke="#111" stroke-width="0.6" />
<line x1="82.5" y1="670.2" x2="84.7" y2="670.2" stroke="#111" stroke-width="0.6" />
<text x="80.6" y="671.7" font-size="4.4" font-weight="bold" text-anchor="end" fill="#000" >15</text>
<line x1="82.5" y1="667.09" x2="83.7" y2="667.09" stroke="#111" stroke-width="0.6" />
<line x1="82.5" y1="663.98" x2="83.7" y2="663.98" stroke="#111" stroke-width="0.6" />
<line x1="82.5" y1="660.88" x2="83.7" y2="660.88" stroke="#111" stroke-width="0.6" />
<rect x="82.5" y="660" width="98.1" height="98.1" fill="none" stroke="#333333" stroke-width="0.8"/>
<text x="131.55" y="772.1" font-size="5.2" font-weight="bold" text-anchor="middle" fill="#000" >Z′ / Ω cm<tspan dy="-2" font-size="3.5">2</tspan></text>
<text x="73.9" y="709.05" font-size="5.2" font-weight="bold" text-anchor="middle" transform="rotate(-90 73.9 709.05)">-Z″ / Ω cm<tspan dy="-2" font-size="3.5">2</tspan></text>
<line x1="237.6" y1="654.7" x2="262.6" y2="654.7" stroke="#e8645d" stroke-width="1.1" />
<circle cx="250.1" cy="654.7" r="3.4" fill="#e8645d"/>
<text x="264.8" y="658.3" font-size="10.8" fill="#000" >2 d</text>
<line x1="283.6" y1="654.7" x2="308.5" y2="654.7" stroke="#c99f2c" stroke-width="1.1" />
<polygon points="296,651.15 292.2,657.61 299.8,657.61" fill="#c99f2c"/>
<text x="310.9" y="658.3" font-size="10.8" fill="#000" >3 d</text>
<line x1="237.6" y1="668" x2="262.6" y2="668" stroke="#cc66f0" stroke-width="1.1" />
<polygon points="250.1,671.88 246.3,665.42 253.9,665.42" fill="#cc66f0"/>
<text x="264.8" y="671.6" font-size="10.8" fill="#000" >5 d</text>
<line x1="283.6" y1="668" x2="308.5" y2="668" stroke="#6a9f48" stroke-width="1.1" />
<polygon points="296,664.33 299.68,668 296,671.67 292.32,668" fill="#6a9f48"/>
<text x="310.9" y="671.6" font-size="10.8" fill="#000" >7 d</text>
<line x1="64.58" y1="273.2" x2="64.58" y2="270.6" stroke="#111" stroke-width="1.1" />
<line x1="76" y1="273.2" x2="76" y2="268.2" stroke="#111" stroke-width="1.1" />
<text x="76" y="286.8" font-size="10.4" font-weight="bold" text-anchor="middle" fill="#000" >0</text>
<line x1="87.42" y1="273.2" x2="87.42" y2="270.6" stroke="#111" stroke-width="1.1" />
<line x1="98.85" y1="273.2" x2="98.85" y2="270.6" stroke="#111" stroke-width="1.1" />
<line x1="110.28" y1="273.2" x2="110.28" y2="270.6" stroke="#111" stroke-width="1.1" />
<line x1="121.7" y1="273.2" x2="121.7" y2="270.6" stroke="#111" stroke-width="1.1" />
<line x1="133.12" y1="273.2" x2="133.12" y2="268.2" stroke="#111" stroke-width="1.1" />
<text x="133.12" y="286.8" font-size="10.4" font-weight="bold" text-anchor="middle" fill="#000" >500</text>
<line x1="144.55" y1="273.2" x2="144.55" y2="270.6" stroke="#111" stroke-width="1.1" />
<line x1="155.98" y1="273.2" x2="155.98" y2="270.6" stroke="#111" stroke-width="1.1" />
<line x1="167.4" y1="273.2" x2="167.4" y2="270.6" stroke="#111" stroke-width="1.1" />
<line x1="178.82" y1="273.2" x2="178.82" y2="270.6" stroke="#111" stroke-width="1.1" />
<line x1="190.25" y1="273.2" x2="190.25" y2="268.2" stroke="#111" stroke-width="1.1" />
<text x="190.25" y="286.8" font-size="10.4" font-weight="bold" text-anchor="middle" fill="#000" >1000</text>
<line x1="201.68" y1="273.2" x2="201.68" y2="270.6" stroke="#111" stroke-width="1.1" />
<line x1="213.1" y1="273.2" x2="213.1" y2="270.6" stroke="#111" stroke-width="1.1" />
<line x1="224.53" y1="273.2" x2="224.53" y2="270.6" stroke="#111" stroke-width="1.1" />
<line x1="235.95" y1="273.2" x2="235.95" y2="270.6" stroke="#111" stroke-width="1.1" />
<line x1="247.38" y1="273.2" x2="247.38" y2="268.2" stroke="#111" stroke-width="1.1" />
<text x="247.38" y="286.8" font-size="10.4" font-weight="bold" text-anchor="middle" fill="#000" >1500</text>
<line x1="258.8" y1="273.2" x2="258.8" y2="270.6" stroke="#111" stroke-width="1.1" />
<line x1="270.23" y1="273.2" x2="270.23" y2="270.6" stroke="#111" stroke-width="1.1" />
<line x1="281.65" y1="273.2" x2="281.65" y2="270.6" stroke="#111" stroke-width="1.1" />
<line x1="293.08" y1="273.2" x2="293.08" y2="270.6" stroke="#111" stroke-width="1.1" />
<line x1="304.5" y1="273.2" x2="304.5" y2="268.2" stroke="#111" stroke-width="1.1" />
<text x="304.5" y="286.8" font-size="10.4" font-weight="bold" text-anchor="middle" fill="#000" >2000</text>
<line x1="315.93" y1="273.2" x2="315.93" y2="270.6" stroke="#111" stroke-width="1.1" />
<line x1="58" y1="267.71" x2="60.6" y2="267.71" stroke="#111" stroke-width="1.1" />
<line x1="58" y1="256.2" x2="63" y2="256.2" stroke="#111" stroke-width="1.1" />
<text x="52.3" y="259.74" font-size="10.4" font-weight="bold" text-anchor="end" fill="#000" >0</text>
<line x1="58" y1="244.69" x2="60.6" y2="244.69" stroke="#111" stroke-width="1.1" />
<line x1="58" y1="233.17" x2="60.6" y2="233.17" stroke="#111" stroke-width="1.1" />
<line x1="58" y1="221.65" x2="60.6" y2="221.65" stroke="#111" stroke-width="1.1" />
<line x1="58" y1="210.14" x2="60.6" y2="210.14" stroke="#111" stroke-width="1.1" />
<line x1="58" y1="198.62" x2="63" y2="198.62" stroke="#111" stroke-width="1.1" />
<text x="52.3" y="202.16" font-size="10.4" font-weight="bold" text-anchor="end" fill="#000" >500</text>
<line x1="58" y1="187.11" x2="60.6" y2="187.11" stroke="#111" stroke-width="1.1" />
<line x1="58" y1="175.59" x2="60.6" y2="175.59" stroke="#111" stroke-width="1.1" />
<line x1="58" y1="164.08" x2="60.6" y2="164.08" stroke="#111" stroke-width="1.1" />
<line x1="58" y1="152.56" x2="60.6" y2="152.56" stroke="#111" stroke-width="1.1" />
<line x1="58" y1="141.05" x2="63" y2="141.05" stroke="#111" stroke-width="1.1" />
<text x="52.3" y="144.59" font-size="10.4" font-weight="bold" text-anchor="end" fill="#000" >1000</text>
<line x1="58" y1="129.53" x2="60.6" y2="129.53" stroke="#111" stroke-width="1.1" />
<line x1="58" y1="118.02" x2="60.6" y2="118.02" stroke="#111" stroke-width="1.1" />
<line x1="58" y1="106.5" x2="60.6" y2="106.5" stroke="#111" stroke-width="1.1" />
<line x1="58" y1="94.99" x2="60.6" y2="94.99" stroke="#111" stroke-width="1.1" />
<line x1="58" y1="83.47" x2="63" y2="83.47" stroke="#111" stroke-width="1.1" />
<text x="52.3" y="87.01" font-size="10.4" font-weight="bold" text-anchor="end" fill="#000" >1500</text>
<line x1="58" y1="71.96" x2="60.6" y2="71.96" stroke="#111" stroke-width="1.1" />
<line x1="58" y1="60.44" x2="60.6" y2="60.44" stroke="#111" stroke-width="1.1" />
<line x1="58" y1="48.93" x2="60.6" y2="48.93" stroke="#111" stroke-width="1.1" />
<line x1="58" y1="37.41" x2="60.6" y2="37.41" stroke="#111" stroke-width="1.1" />
<line x1="58" y1="25.9" x2="63" y2="25.9" stroke="#111" stroke-width="1.1" />
<text x="52.3" y="29.44" font-size="10.4" font-weight="bold" text-anchor="end" fill="#000" >2000</text>
<line x1="58" y1="14.38" x2="60.6" y2="14.38" stroke="#111" stroke-width="1.1" />
<rect x="58" y="4" width="269.8" height="269.2" fill="none" stroke="#333333" stroke-width="1.3"/>
<text x="192.5" y="311.9" font-size="13.4" font-weight="bold" text-anchor="middle">Z′ / Ω cm<tspan dy="-5.5" font-size="8.5">2</tspan></text>
<text x="21.5" y="138.7" font-size="13.6" font-weight="bold" text-anchor="middle" transform="rotate(-90 21.5 138.7)">-Z″ / Ω cm<tspan dy="-5.5" font-size="8.5">2</tspan></text>
<text x="1.8" y="13.3" font-size="18.5" font-weight="bold" fill="#000" >(a)</text>
<text x="81.6" y="15.2" font-size="14.6" fill="#000" >BM</text>
<line x1="71.2" y1="595.6" x2="71.2" y2="590.6" stroke="#111" stroke-width="1.1" />
<text x="71.2" y="609.4" font-size="10.4" font-weight="bold" text-anchor="middle" fill="#000" >0</text>
<line x1="84.05" y1="595.6" x2="84.05" y2="593" stroke="#111" stroke-width="1.1" />
<line x1="96.9" y1="595.6" x2="96.9" y2="593" stroke="#111" stroke-width="1.1" />
<line x1="109.74" y1="595.6" x2="109.74" y2="593" stroke="#111" stroke-width="1.1" />
<line x1="122.59" y1="595.6" x2="122.59" y2="593" stroke="#111" stroke-width="1.1" />
<line x1="135.44" y1="595.6" x2="135.44" y2="590.6" stroke="#111" stroke-width="1.1" />
<text x="135.44" y="609.4" font-size="10.4" font-weight="bold" text-anchor="middle" fill="#000" >200</text>
<line x1="148.29" y1="595.6" x2="148.29" y2="593" stroke="#111" stroke-width="1.1" />
<line x1="161.14" y1="595.6" x2="161.14" y2="593" stroke="#111" stroke-width="1.1" />
<line x1="173.98" y1="595.6" x2="173.98" y2="593" stroke="#111" stroke-width="1.1" />
<line x1="186.83" y1="595.6" x2="186.83" y2="593" stroke="#111" stroke-width="1.1" />
<line x1="199.68" y1="595.6" x2="199.68" y2="590.6" stroke="#111" stroke-width="1.1" />
<text x="199.68" y="609.4" font-size="10.4" font-weight="bold" text-anchor="middle" fill="#000" >400</text>
<line x1="212.53" y1="595.6" x2="212.53" y2="593" stroke="#111" stroke-width="1.1" />
<line x1="225.38" y1="595.6" x2="225.38" y2="593" stroke="#111" stroke-width="1.1" />
<line x1="238.22" y1="595.6" x2="238.22" y2="593" stroke="#111" stroke-width="1.1" />
<line x1="251.07" y1="595.6" x2="251.07" y2="593" stroke="#111" stroke-width="1.1" />
<line x1="263.92" y1="595.6" x2="263.92" y2="590.6" stroke="#111" stroke-width="1.1" />
<text x="263.92" y="609.4" font-size="10.4" font-weight="bold" text-anchor="middle" fill="#000" >600</text>
<line x1="276.77" y1="595.6" x2="276.77" y2="593" stroke="#111" stroke-width="1.1" />
<line x1="289.62" y1="595.6" x2="289.62" y2="593" stroke="#111" stroke-width="1.1" />
<line x1="302.46" y1="595.6" x2="302.46" y2="593" stroke="#111" stroke-width="1.1" />
<line x1="315.31" y1="595.6" x2="315.31" y2="593" stroke="#111" stroke-width="1.1" />
<text x="328.16" y="609.4" font-size="10.4" font-weight="bold" text-anchor="middle" fill="#000" >800</text>
<line x1="58.4" y1="582.8" x2="63.4" y2="582.8" stroke="#111" stroke-width="1.1" />
<text x="52.7" y="586.34" font-size="10.4" font-weight="bold" text-anchor="end" fill="#000" >0</text>
<line x1="58.4" y1="569.96" x2="61" y2="569.96" stroke="#111" stroke-width="1.1" />
<line x1="58.4" y1="557.11" x2="61" y2="557.11" stroke="#111" stroke-width="1.1" />
<line x1="58.4" y1="544.27" x2="61" y2="544.27" stroke="#111" stroke-width="1.1" />
<line x1="58.4" y1="531.42" x2="61" y2="531.42" stroke="#111" stroke-width="1.1" />
<line x1="58.4" y1="518.58" x2="63.4" y2="518.58" stroke="#111" stroke-width="1.1" />
<text x="52.7" y="522.12" font-size="10.4" font-weight="bold" text-anchor="end" fill="#000" >200</text>
<line x1="58.4" y1="505.74" x2="61" y2="505.74" stroke="#111" stroke-width="1.1" />
<line x1="58.4" y1="492.89" x2="61" y2="492.89" stroke="#111" stroke-width="1.1" />
<line x1="58.4" y1="480.05" x2="61" y2="480.05" stroke="#111" stroke-width="1.1" />
<line x1="58.4" y1="467.2" x2="61" y2="467.2" stroke="#111" stroke-width="1.1" />
<line x1="58.4" y1="454.36" x2="63.4" y2="454.36" stroke="#111" stroke-width="1.1" />
<text x="52.7" y="457.9" font-size="10.4" font-weight="bold" text-anchor="end" fill="#000" >400</text>
<line x1="58.4" y1="441.52" x2="61" y2="441.52" stroke="#111" stroke-width="1.1" />
<line x1="58.4" y1="428.67" x2="61" y2="428.67" stroke="#111" stroke-width="1.1" />
<line x1="58.4" y1="415.83" x2="61" y2="415.83" stroke="#111" stroke-width="1.1" />
<line x1="58.4" y1="402.98" x2="61" y2="402.98" stroke="#111" stroke-width="1.1" />
<line x1="58.4" y1="390.14" x2="63.4" y2="390.14" stroke="#111" stroke-width="1.1" />
<text x="52.7" y="393.68" font-size="10.4" font-weight="bold" text-anchor="end" fill="#000" >600</text>
<line x1="58.4" y1="377.3" x2="61" y2="377.3" stroke="#111" stroke-width="1.1" />
<line x1="58.4" y1="364.45" x2="61" y2="364.45" stroke="#111" stroke-width="1.1" />
<line x1="58.4" y1="351.61" x2="61" y2="351.61" stroke="#111" stroke-width="1.1" />
<line x1="58.4" y1="338.76" x2="61" y2="338.76" stroke="#111" stroke-width="1.1" />
<text x="52.7" y="329.46" font-size="10.4" font-weight="bold" text-anchor="end" fill="#000" >800</text>
<rect x="58.4" y="326" width="269.7" height="269.6" fill="none" stroke="#333333" stroke-width="1.3"/>
<text x="192.8" y="633" font-size="13.4" font-weight="bold" text-anchor="middle">Z′ / Ω cm<tspan dy="-5.5" font-size="8.5">2</tspan></text>
<text x="27" y="461.2" font-size="13.6" font-weight="bold" text-anchor="middle" transform="rotate(-90 27 461.2)">-Z″ / Ω cm<tspan dy="-5.5" font-size="8.5">2</tspan></text>
<text x="1.6" y="331.3" font-size="18.5" font-weight="bold" fill="#000" >(c)</text>
<text x="82.6" y="338.8" font-size="14.6" fill="#000" >HAZ</text>
<line x1="70" y1="914.2" x2="70" y2="909.2" stroke="#111" stroke-width="1.1" />
<text x="70" y="928.8" font-size="10.4" font-weight="bold" text-anchor="middle" fill="#000" >0</text>
<line x1="81.76" y1="914.2" x2="81.76" y2="911.6" stroke="#111" stroke-width="1.1" />
<line x1="93.52" y1="914.2" x2="93.52" y2="911.6" stroke="#111" stroke-width="1.1" />
<line x1="105.28" y1="914.2" x2="105.28" y2="911.6" stroke="#111" stroke-width="1.1" />
<line x1="117.04" y1="914.2" x2="117.04" y2="911.6" stroke="#111" stroke-width="1.1" />
<line x1="128.8" y1="914.2" x2="128.8" y2="909.2" stroke="#111" stroke-width="1.1" />
<text x="128.8" y="928.8" font-size="10.4" font-weight="bold" text-anchor="middle" fill="#000" >500</text>
<line x1="140.56" y1="914.2" x2="140.56" y2="911.6" stroke="#111" stroke-width="1.1" />
<line x1="152.32" y1="914.2" x2="152.32" y2="911.6" stroke="#111" stroke-width="1.1" />
<line x1="164.08" y1="914.2" x2="164.08" y2="911.6" stroke="#111" stroke-width="1.1" />
<line x1="175.84" y1="914.2" x2="175.84" y2="911.6" stroke="#111" stroke-width="1.1" />
<line x1="187.6" y1="914.2" x2="187.6" y2="909.2" stroke="#111" stroke-width="1.1" />
<text x="187.6" y="928.8" font-size="10.4" font-weight="bold" text-anchor="middle" fill="#000" >1000</text>
<line x1="199.36" y1="914.2" x2="199.36" y2="911.6" stroke="#111" stroke-width="1.1" />
<line x1="211.12" y1="914.2" x2="211.12" y2="911.6" stroke="#111" stroke-width="1.1" />
<line x1="222.88" y1="914.2" x2="222.88" y2="911.6" stroke="#111" stroke-width="1.1" />
<line x1="234.64" y1="914.2" x2="234.64" y2="911.6" stroke="#111" stroke-width="1.1" />
<line x1="246.4" y1="914.2" x2="246.4" y2="909.2" stroke="#111" stroke-width="1.1" />
<text x="246.4" y="928.8" font-size="10.4" font-weight="bold" text-anchor="middle" fill="#000" >1500</text>
<line x1="258.16" y1="914.2" x2="258.16" y2="911.6" stroke="#111" stroke-width="1.1" />
<line x1="269.92" y1="914.2" x2="269.92" y2="911.6" stroke="#111" stroke-width="1.1" />
<line x1="281.68" y1="914.2" x2="281.68" y2="911.6" stroke="#111" stroke-width="1.1" />
<line x1="293.44" y1="914.2" x2="293.44" y2="911.6" stroke="#111" stroke-width="1.1" />
<line x1="305.2" y1="914.2" x2="305.2" y2="909.2" stroke="#111" stroke-width="1.1" />
<text x="305.2" y="928.8" font-size="10.4" font-weight="bold" text-anchor="middle" fill="#000" >2000</text>
<line x1="316.96" y1="914.2" x2="316.96" y2="911.6" stroke="#111" stroke-width="1.1" />
<line x1="58.6" y1="902.9" x2="63.6" y2="902.9" stroke="#111" stroke-width="1.1" />
<text x="52.9" y="906.44" font-size="10.4" font-weight="bold" text-anchor="end" fill="#000" >0</text>
<line x1="58.6" y1="891.18" x2="61.2" y2="891.18" stroke="#111" stroke-width="1.1" />
<line x1="58.6" y1="879.46" x2="61.2" y2="879.46" stroke="#111" stroke-width="1.1" />
<line x1="58.6" y1="867.74" x2="61.2" y2="867.74" stroke="#111" stroke-width="1.1" />
<line x1="58.6" y1="856.02" x2="61.2" y2="856.02" stroke="#111" stroke-width="1.1" />
<line x1="58.6" y1="844.3" x2="63.6" y2="844.3" stroke="#111" stroke-width="1.1" />
<text x="52.9" y="847.84" font-size="10.4" font-weight="bold" text-anchor="end" fill="#000" >500</text>
<line x1="58.6" y1="832.58" x2="61.2" y2="832.58" stroke="#111" stroke-width="1.1" />
<line x1="58.6" y1="820.86" x2="61.2" y2="820.86" stroke="#111" stroke-width="1.1" />
<line x1="58.6" y1="809.14" x2="61.2" y2="809.14" stroke="#111" stroke-width="1.1" />
<line x1="58.6" y1="797.42" x2="61.2" y2="797.42" stroke="#111" stroke-width="1.1" />
<line x1="58.6" y1="785.7" x2="63.6" y2="785.7" stroke="#111" stroke-width="1.1" />
<text x="52.9" y="789.24" font-size="10.4" font-weight="bold" text-anchor="end" fill="#000" >1000</text>
<line x1="58.6" y1="773.98" x2="61.2" y2="773.98" stroke="#111" stroke-width="1.1" />
<line x1="58.6" y1="762.26" x2="61.2" y2="762.26" stroke="#111" stroke-width="1.1" />
<line x1="58.6" y1="750.54" x2="61.2" y2="750.54" stroke="#111" stroke-width="1.1" />
<line x1="58.6" y1="738.82" x2="61.2" y2="738.82" stroke="#111" stroke-width="1.1" />
<line x1="58.6" y1="727.1" x2="63.6" y2="727.1" stroke="#111" stroke-width="1.1" />
<text x="52.9" y="730.64" font-size="10.4" font-weight="bold" text-anchor="end" fill="#000" >1500</text>
<line x1="58.6" y1="715.38" x2="61.2" y2="715.38" stroke="#111" stroke-width="1.1" />
<line x1="58.6" y1="703.66" x2="61.2" y2="703.66" stroke="#111" stroke-width="1.1" />
<line x1="58.6" y1="691.94" x2="61.2" y2="691.94" stroke="#111" stroke-width="1.1" />
<line x1="58.6" y1="680.22" x2="61.2" y2="680.22" stroke="#111" stroke-width="1.1" />
<line x1="58.6" y1="668.5" x2="63.6" y2="668.5" stroke="#111" stroke-width="1.1" />
<text x="52.9" y="672.04" font-size="10.4" font-weight="bold" text-anchor="end" fill="#000" >2000</text>
<line x1="58.6" y1="656.78" x2="61.2" y2="656.78" stroke="#111" stroke-width="1.1" />
<rect x="58.6" y="645" width="269.2" height="269.2" fill="none" stroke="#333333" stroke-width="1.3"/>
<text x="192.8" y="951.3" font-size="13.4" font-weight="bold" text-anchor="middle">Z′ / Ω cm<tspan dy="-5.5" font-size="8.5">2</tspan></text>
<text x="21" y="780" font-size="13.6" font-weight="bold" text-anchor="middle" transform="rotate(-90 21 780)">-Z″ / Ω cm<tspan dy="-5.5" font-size="8.5">2</tspan></text>
<text x="1" y="650.9" font-size="18.5" font-weight="bold" fill="#000" >(e)</text>
<text x="81.8" y="658.8" font-size="14.6" fill="#000" >WZ</text>
<rect x="413.4" y="6.3" width="269.7" height="133.9" fill="url(#gPh)"/>
<rect x="413.4" y="140.2" width="269.7" height="135" fill="url(#gZ)"/>
<polyline points="435.38,40.37 443.15,32.02 450.92,23.98 458.69,17.33 466.44,16.44 473.88,24.59 481.03,40.53 487.87,60.26 494.41,76.92 500.65,88.91 506.72,97.4 512.8,103.93 518.59,108.28 524.05,111.43 529.35,114.25 534.48,116.69 539.45,118.21 544.24,119.59 548.91,120.84 553.53,122.09 558.11,123.26 562.64,124.28 567.12,125.09 571.56,125.82 575.95,126.48 580.2,127.01 584.28,127.39 588.18,127.64 591.93,127.85 595.51,128.03 598.95,128.17 602.24,128.26 605.4,128.3 608.53,128.3 611.67,128.3 614.81,128.3 617.95,128.3 621.08,128.3 624.22,128.3 627.36,128.3 630.49,128.21 633.63,128.03 636.77,127.82 639.9,127.57 643.04,127.24 646.18,126.84 649.32,126.37 652.45,125.76 655.59,125 658.73,124.07 661.86,122.78 665,121.21" fill="none" stroke="#e8645d" stroke-width="1" stroke-linejoin="round" />
<circle cx="435.38" cy="40.37" r="2.6" fill="#e8645d"/>
<circle cx="443.15" cy="32.02" r="2.6" fill="#e8645d"/>
<circle cx="450.92" cy="23.98" r="2.6" fill="#e8645d"/>
<circle cx="458.69" cy="17.33" r="2.6" fill="#e8645d"/>
<circle cx="466.44" cy="16.44" r="2.6" fill="#e8645d"/>
<circle cx="473.88" cy="24.59" r="2.6" fill="#e8645d"/>
<circle cx="481.03" cy="40.53" r="2.6" fill="#e8645d"/>
<circle cx="487.87" cy="60.26" r="2.6" fill="#e8645d"/>
<circle cx="494.41" cy="76.92" r="2.6" fill="#e8645d"/>
<circle cx="500.65" cy="88.91" r="2.6" fill="#e8645d"/>
<circle cx="506.72" cy="97.4" r="2.6" fill="#e8645d"/>
<circle cx="512.8" cy="103.93" r="2.6" fill="#e8645d"/>
<circle cx="518.59" cy="108.28" r="2.6" fill="#e8645d"/>
<circle cx="524.05" cy="111.43" r="2.6" fill="#e8645d"/>
<circle cx="529.35" cy="114.25" r="2.6" fill="#e8645d"/>
<circle cx="534.48" cy="116.69" r="2.6" fill="#e8645d"/>
<circle cx="539.45" cy="118.21" r="2.6" fill="#e8645d"/>
<circle cx="544.24" cy="119.59" r="2.6" fill="#e8645d"/>
<circle cx="548.91" cy="120.84" r="2.6" fill="#e8645d"/>
<circle cx="553.53" cy="122.09" r="2.6" fill="#e8645d"/>
<circle cx="558.11" cy="123.26" r="2.6" fill="#e8645d"/>
<circle cx="562.64" cy="124.28" r="2.6" fill="#e8645d"/>
<circle cx="567.12" cy="125.09" r="2.6" fill="#e8645d"/>
<circle cx="571.56" cy="125.82" r="2.6" fill="#e8645d"/>
<circle cx="575.95" cy="126.48" r="2.6" fill="#e8645d"/>
<circle cx="580.2" cy="127.01" r="2.6" fill="#e8645d"/>
<circle cx="584.28" cy="127.39" r="2.6" fill="#e8645d"/>
<circle cx="588.18" cy="127.64" r="2.6" fill="#e8645d"/>
<circle cx="591.93" cy="127.85" r="2.6" fill="#e8645d"/>
<circle cx="595.51" cy="128.03" r="2.6" fill="#e8645d"/>
<circle cx="598.95" cy="128.17" r="2.6" fill="#e8645d"/>
<circle cx="602.24" cy="128.26" r="2.6" fill="#e8645d"/>
<circle cx="605.4" cy="128.3" r="2.6" fill="#e8645d"/>
<circle cx="608.53" cy="128.3" r="2.6" fill="#e8645d"/>
<circle cx="611.67" cy="128.3" r="2.6" fill="#e8645d"/>
<circle cx="614.81" cy="128.3" r="2.6" fill="#e8645d"/>
<circle cx="617.95" cy="128.3" r="2.6" fill="#e8645d"/>
<circle cx="621.08" cy="128.3" r="2.6" fill="#e8645d"/>
<circle cx="624.22" cy="128.3" r="2.6" fill="#e8645d"/>
<circle cx="627.36" cy="128.3" r="2.6" fill="#e8645d"/>
<circle cx="630.49" cy="128.21" r="2.6" fill="#e8645d"/>
<circle cx="633.63" cy="128.03" r="2.6" fill="#e8645d"/>
<circle cx="636.77" cy="127.82" r="2.6" fill="#e8645d"/>
<circle cx="639.9" cy="127.57" r="2.6" fill="#e8645d"/>
<circle cx="643.04" cy="127.24" r="2.6" fill="#e8645d"/>
<circle cx="646.18" cy="126.84" r="2.6" fill="#e8645d"/>
<circle cx="649.32" cy="126.37" r="2.6" fill="#e8645d"/>
<circle cx="652.45" cy="125.76" r="2.6" fill="#e8645d"/>
<circle cx="655.59" cy="125" r="2.6" fill="#e8645d"/>
<circle cx="658.73" cy="124.07" r="2.6" fill="#e8645d"/>
<circle cx="661.86" cy="122.78" r="2.6" fill="#e8645d"/>
<circle cx="665" cy="121.21" r="2.6" fill="#e8645d"/>
<polyline points="435.38,18.1 438.99,19.42 442.6,21.88 446.21,25.62 449.82,30.28 453.43,37.59 457.04,46.04 460.65,54.2 464.25,61.42 467.86,70.11 471.47,77.97 475.08,82.45 478.69,86.28 482.3,88.41 485.91,89.64 489.52,89.9 493.13,89.9 496.73,89.98 500.34,91.06 503.95,92.98 507.11,94.46 510.27,96.52 513.43,99.19 516.58,101.8 519.74,104.47 522.9,107.01 526.06,109.17 529.21,111.02 532.37,112.68 535.53,114.26 538.69,115.83 541.85,117.32 545,118.65 548.16,119.76 551.32,120.79 554.48,121.73 557.63,122.59 560.79,123.36 563.95,124.03 567.11,124.6 570.27,125.12 573.42,125.61 576.58,126.05 579.74,126.43 582.9,126.75 586.05,127.01 589.21,127.24 592.37,127.45 595.53,127.65 598.69,127.81 601.84,127.93 605,127.99 608.16,127.96 611.32,127.73 614.48,127.35 617.63,126.86 620.79,126.33 623.95,125.77 627.11,125.08 630.26,124.23 633.42,123.26 636.58,122.01 639.74,120.58 642.9,119.11 646.05,117.46 649.21,115.56 652.37,113.15 655.53,110.28 658.68,106.69 661.84,102.47 665,98.07" fill="none" stroke="#cc66f0" stroke-width="1" stroke-linejoin="round" />
<polygon points="435.38,20.76 432.78,16.34 437.98,16.34" fill="#cc66f0"/>
<polygon points="438.99,22.07 436.39,17.65 441.59,17.65" fill="#cc66f0"/>
<polygon points="442.6,24.53 440,20.11 445.2,20.11" fill="#cc66f0"/>
<polygon points="446.21,28.27 443.61,23.85 448.81,23.85" fill="#cc66f0"/>
<polygon points="449.82,32.93 447.22,28.51 452.42,28.51" fill="#cc66f0"/>
<polygon points="453.43,40.24 450.83,35.82 456.03,35.82" fill="#cc66f0"/>
<polygon points="457.04,48.69 454.44,44.27 459.64,44.27" fill="#cc66f0"/>
<polygon points="460.65,56.85 458.05,52.43 463.25,52.43" fill="#cc66f0"/>
<polygon points="464.25,64.07 461.65,59.65 466.85,59.65" fill="#cc66f0"/>
<polygon points="467.86,72.77 465.26,68.35 470.46,68.35" fill="#cc66f0"/>
<polygon points="471.47,80.62 468.87,76.2 474.07,76.2" fill="#cc66f0"/>
<polygon points="475.08,85.1 472.48,80.68 477.68,80.68" fill="#cc66f0"/>
<polygon points="478.69,88.94 476.09,84.52 481.29,84.52" fill="#cc66f0"/>
<polygon points="482.3,91.06 479.7,86.64 484.9,86.64" fill="#cc66f0"/>
<polygon points="485.91,92.29 483.31,87.87 488.51,87.87" fill="#cc66f0"/>
<polygon points="489.52,92.55 486.92,88.13 492.12,88.13" fill="#cc66f0"/>
<polygon points="493.13,92.55 490.53,88.13 495.73,88.13" fill="#cc66f0"/>
<polygon points="496.73,92.63 494.13,88.21 499.33,88.21" fill="#cc66f0"/>
<polygon points="500.34,93.72 497.74,89.3 502.94,89.3" fill="#cc66f0"/>
<polygon points="503.95,95.63 501.35,91.21 506.55,91.21" fill="#cc66f0"/>
<polygon points="507.11,97.11 504.51,92.69 509.71,92.69" fill="#cc66f0"/>
<polygon points="510.27,99.17 507.67,94.75 512.87,94.75" fill="#cc66f0"/>
<polygon points="513.43,101.84 510.83,97.42 516.03,97.42" fill="#cc66f0"/>
<polygon points="516.58,104.45 513.98,100.03 519.18,100.03" fill="#cc66f0"/>
<polygon points="519.74,107.12 517.14,102.7 522.34,102.7" fill="#cc66f0"/>
<polygon points="522.9,109.66 520.3,105.24 525.5,105.24" fill="#cc66f0"/>
<polygon points="526.06,111.82 523.46,107.4 528.66,107.4" fill="#cc66f0"/>
<polygon points="529.21,113.67 526.61,109.25 531.81,109.25" fill="#cc66f0"/>
<polygon points="532.37,115.33 529.77,110.91 534.97,110.91" fill="#cc66f0"/>
<polygon points="535.53,116.92 532.93,112.5 538.13,112.5" fill="#cc66f0"/>
<polygon points="538.69,118.48 536.09,114.06 541.29,114.06" fill="#cc66f0"/>
<polygon points="541.85,119.97 539.25,115.55 544.45,115.55" fill="#cc66f0"/>
<polygon points="545,121.3 542.4,116.88 547.6,116.88" fill="#cc66f0"/>
<polygon points="548.16,122.42 545.56,118 550.76,118" fill="#cc66f0"/>
<polygon points="551.32,123.44 548.72,119.02 553.92,119.02" fill="#cc66f0"/>
<polygon points="554.48,124.38 551.88,119.96 557.08,119.96" fill="#cc66f0"/>
<polygon points="557.63,125.25 555.03,120.83 560.23,120.83" fill="#cc66f0"/>
<polygon points="560.79,126.01 558.19,121.59 563.39,121.59" fill="#cc66f0"/>
<polygon points="563.95,126.68 561.35,122.26 566.55,122.26" fill="#cc66f0"/>
<polygon points="567.11,127.25 564.51,122.83 569.71,122.83" fill="#cc66f0"/>
<polygon points="570.27,127.78 567.67,123.36 572.87,123.36" fill="#cc66f0"/>
<polygon points="573.42,128.26 570.82,123.84 576.02,123.84" fill="#cc66f0"/>
<polygon points="576.58,128.7 573.98,124.28 579.18,124.28" fill="#cc66f0"/>
<polygon points="579.74,129.08 577.14,124.66 582.34,124.66" fill="#cc66f0"/>
<polygon points="582.9,129.41 580.3,124.99 585.5,124.99" fill="#cc66f0"/>
<polygon points="586.05,129.66 583.45,125.24 588.65,125.24" fill="#cc66f0"/>
<polygon points="589.21,129.89 586.61,125.47 591.81,125.47" fill="#cc66f0"/>
<polygon points="592.37,130.11 589.77,125.69 594.97,125.69" fill="#cc66f0"/>
<polygon points="595.53,130.3 592.93,125.88 598.13,125.88" fill="#cc66f0"/>
<polygon points="598.69,130.47 596.09,126.05 601.29,126.05" fill="#cc66f0"/>
<polygon points="601.84,130.58 599.24,126.16 604.44,126.16" fill="#cc66f0"/>
<polygon points="605,130.65 602.4,126.23 607.6,126.23" fill="#cc66f0"/>
<polygon points="608.16,130.61 605.56,126.19 610.76,126.19" fill="#cc66f0"/>
<polygon points="611.32,130.39 608.72,125.97 613.92,125.97" fill="#cc66f0"/>
<polygon points="614.48,130 611.88,125.58 617.08,125.58" fill="#cc66f0"/>
<polygon points="617.63,129.52 615.03,125.1 620.23,125.1" fill="#cc66f0"/>
<polygon points="620.79,128.98 618.19,124.56 623.39,124.56" fill="#cc66f0"/>
<polygon points="623.95,128.43 621.35,124.01 626.55,124.01" fill="#cc66f0"/>
<polygon points="627.11,127.73 624.51,123.31 629.71,123.31" fill="#cc66f0"/>
<polygon points="630.26,126.89 627.66,122.47 632.86,122.47" fill="#cc66f0"/>
<polygon points="633.42,125.91 630.82,121.49 636.02,121.49" fill="#cc66f0"/>
<polygon points="636.58,124.66 633.98,120.24 639.18,120.24" fill="#cc66f0"/>
<polygon points="639.74,123.23 637.14,118.81 642.34,118.81" fill="#cc66f0"/>
<polygon points="642.9,121.76 640.3,117.34 645.5,117.34" fill="#cc66f0"/>
<polygon points="646.05,120.11 643.45,115.69 648.65,115.69" fill="#cc66f0"/>
<polygon points="649.21,118.21 646.61,113.79 651.81,113.79" fill="#cc66f0"/>
<polygon points="652.37,115.81 649.77,111.39 654.97,111.39" fill="#cc66f0"/>
<polygon points="655.53,112.93 652.93,108.51 658.13,108.51" fill="#cc66f0"/>
<polygon points="658.68,109.34 656.08,104.92 661.28,104.92" fill="#cc66f0"/>
<polygon points="661.84,105.12 659.24,100.7 664.44,100.7" fill="#cc66f0"/>
<polygon points="665,100.73 662.4,96.31 667.6,96.31" fill="#cc66f0"/>
<polyline points="435.38,19.92 438.99,21.64 442.6,24.31 446.21,28.11 449.82,35.2 453.43,43.5 457.04,52.19 460.65,60.63 464.25,68.6 467.86,75.21 471.47,80.46 475.08,85.39 478.69,89.06 482.3,91.71 485.91,93.6 489.52,94.4 493.13,94.39 496.73,93.6 500.34,93.92 503.95,94.67 507.11,95.96 510.27,97.79 513.43,99.85 516.58,102.11 519.74,104.49 522.9,106.8 526.06,108.86 529.21,110.73 532.37,112.47 535.53,114.06 538.69,115.54 541.85,116.92 545,118.17 548.16,119.27 551.32,120.3 554.48,121.28 557.63,122.18 560.79,122.99 563.95,123.71 567.11,124.32 570.27,124.9 573.42,125.42 576.58,125.9 579.74,126.33 582.9,126.7 586.05,127.01 589.21,127.3 592.37,127.58 595.53,127.83 598.69,128.05 601.84,128.21 605,128.29 608.16,128.26 611.32,128.06 614.48,127.71 617.63,127.28 620.79,126.79 623.95,126.3 627.11,125.67 630.26,124.91 633.42,124.05 636.58,123.02 639.74,121.85 642.9,120.62 646.05,119.2 649.21,117.55 652.37,115.5 655.53,112.97 658.68,109.83 661.84,106.12 665,102.04" fill="none" stroke="#6a9f48" stroke-width="1" stroke-linejoin="round" />
<polygon points="435.38,17.19 438.11,19.92 435.38,22.65 432.65,19.92" fill="#6a9f48"/>
<polygon points="438.99,18.91 441.72,21.64 438.99,24.37 436.26,21.64" fill="#6a9f48"/>
<polygon points="442.6,21.58 445.33,24.31 442.6,27.04 439.87,24.31" fill="#6a9f48"/>
<polygon points="446.21,25.38 448.94,28.11 446.21,30.84 443.48,28.11" fill="#6a9f48"/>
<polygon points="449.82,32.47 452.55,35.2 449.82,37.93 447.09,35.2" fill="#6a9f48"/>
<polygon points="453.43,40.77 456.16,43.5 453.43,46.23 450.7,43.5" fill="#6a9f48"/>
<polygon points="457.04,49.46 459.77,52.19 457.04,54.92 454.31,52.19" fill="#6a9f48"/>
<polygon points="460.65,57.9 463.38,60.63 460.65,63.36 457.92,60.63" fill="#6a9f48"/>
<polygon points="464.25,65.87 466.98,68.6 464.25,71.33 461.52,68.6" fill="#6a9f48"/>
<polygon points="467.86,72.48 470.59,75.21 467.86,77.94 465.13,75.21" fill="#6a9f48"/>
<polygon points="471.47,77.73 474.2,80.46 471.47,83.19 468.74,80.46" fill="#6a9f48"/>
<polygon points="475.08,82.66 477.81,85.39 475.08,88.12 472.35,85.39" fill="#6a9f48"/>
<polygon points="478.69,86.33 481.42,89.06 478.69,91.79 475.96,89.06" fill="#6a9f48"/>
<polygon points="482.3,88.98 485.03,91.71 482.3,94.44 479.57,91.71" fill="#6a9f48"/>
<polygon points="485.91,90.87 488.64,93.6 485.91,96.33 483.18,93.6" fill="#6a9f48"/>
<polygon points="489.52,91.67 492.25,94.4 489.52,97.13 486.79,94.4" fill="#6a9f48"/>
<polygon points="493.13,91.66 495.86,94.39 493.13,97.12 490.4,94.39" fill="#6a9f48"/>
<polygon points="496.73,90.87 499.46,93.6 496.73,96.33 494,93.6" fill="#6a9f48"/>
<polygon points="500.34,91.19 503.07,93.92 500.34,96.65 497.61,93.92" fill="#6a9f48"/>
<polygon points="503.95,91.94 506.68,94.67 503.95,97.4 501.22,94.67" fill="#6a9f48"/>
<polygon points="507.11,93.23 509.84,95.96 507.11,98.69 504.38,95.96" fill="#6a9f48"/>
<polygon points="510.27,95.06 513,97.79 510.27,100.52 507.54,97.79" fill="#6a9f48"/>
<polygon points="513.43,97.12 516.16,99.85 513.43,102.58 510.7,99.85" fill="#6a9f48"/>
<polygon points="516.58,99.38 519.31,102.11 516.58,104.84 513.85,102.11" fill="#6a9f48"/>
<polygon points="519.74,101.76 522.47,104.49 519.74,107.22 517.01,104.49" fill="#6a9f48"/>
<polygon points="522.9,104.07 525.63,106.8 522.9,109.53 520.17,106.8" fill="#6a9f48"/>
<polygon points="526.06,106.13 528.79,108.86 526.06,111.59 523.33,108.86" fill="#6a9f48"/>
<polygon points="529.21,108 531.94,110.73 529.21,113.46 526.48,110.73" fill="#6a9f48"/>
<polygon points="532.37,109.74 535.1,112.47 532.37,115.2 529.64,112.47" fill="#6a9f48"/>
<polygon points="535.53,111.33 538.26,114.06 535.53,116.79 532.8,114.06" fill="#6a9f48"/>
<polygon points="538.69,112.81 541.42,115.54 538.69,118.27 535.96,115.54" fill="#6a9f48"/>
<polygon points="541.85,114.19 544.58,116.92 541.85,119.65 539.12,116.92" fill="#6a9f48"/>
<polygon points="545,115.44 547.73,118.17 545,120.9 542.27,118.17" fill="#6a9f48"/>
<polygon points="548.16,116.54 550.89,119.27 548.16,122 545.43,119.27" fill="#6a9f48"/>
<polygon points="551.32,117.57 554.05,120.3 551.32,123.03 548.59,120.3" fill="#6a9f48"/>
<polygon points="554.48,118.55 557.21,121.28 554.48,124.01 551.75,121.28" fill="#6a9f48"/>
<polygon points="557.63,119.45 560.36,122.18 557.63,124.91 554.9,122.18" fill="#6a9f48"/>
<polygon points="560.79,120.26 563.52,122.99 560.79,125.72 558.06,122.99" fill="#6a9f48"/>
<polygon points="563.95,120.98 566.68,123.71 563.95,126.44 561.22,123.71" fill="#6a9f48"/>
<polygon points="567.11,121.59 569.84,124.32 567.11,127.05 564.38,124.32" fill="#6a9f48"/>
<polygon points="570.27,122.17 573,124.9 570.27,127.63 567.54,124.9" fill="#6a9f48"/>
<polygon points="573.42,122.69 576.15,125.42 573.42,128.15 570.69,125.42" fill="#6a9f48"/>
<polygon points="576.58,123.17 579.31,125.9 576.58,128.63 573.85,125.9" fill="#6a9f48"/>
<polygon points="579.74,123.6 582.47,126.33 579.74,129.06 577.01,126.33" fill="#6a9f48"/>
<polygon points="582.9,123.97 585.63,126.7 582.9,129.43 580.17,126.7" fill="#6a9f48"/>
<polygon points="586.05,124.28 588.78,127.01 586.05,129.74 583.32,127.01" fill="#6a9f48"/>
<polygon points="589.21,124.57 591.94,127.3 589.21,130.03 586.48,127.3" fill="#6a9f48"/>
<polygon points="592.37,124.85 595.1,127.58 592.37,130.31 589.64,127.58" fill="#6a9f48"/>
<polygon points="595.53,125.1 598.26,127.83 595.53,130.56 592.8,127.83" fill="#6a9f48"/>
<polygon points="598.69,125.32 601.42,128.05 598.69,130.78 595.96,128.05" fill="#6a9f48"/>
<polygon points="601.84,125.48 604.57,128.21 601.84,130.94 599.11,128.21" fill="#6a9f48"/>
<polygon points="605,125.56 607.73,128.29 605,131.02 602.27,128.29" fill="#6a9f48"/>
<polygon points="608.16,125.53 610.89,128.26 608.16,130.99 605.43,128.26" fill="#6a9f48"/>
<polygon points="611.32,125.33 614.05,128.06 611.32,130.79 608.59,128.06" fill="#6a9f48"/>
<polygon points="614.48,124.98 617.21,127.71 614.48,130.44 611.75,127.71" fill="#6a9f48"/>
<polygon points="617.63,124.55 620.36,127.28 617.63,130.01 614.9,127.28" fill="#6a9f48"/>
<polygon points="620.79,124.06 623.52,126.79 620.79,129.52 618.06,126.79" fill="#6a9f48"/>
<polygon points="623.95,123.57 626.68,126.3 623.95,129.03 621.22,126.3" fill="#6a9f48"/>
<polygon points="627.11,122.94 629.84,125.67 627.11,128.4 624.38,125.67" fill="#6a9f48"/>
<polygon points="630.26,122.18 632.99,124.91 630.26,127.64 627.53,124.91" fill="#6a9f48"/>
<polygon points="633.42,121.32 636.15,124.05 633.42,126.78 630.69,124.05" fill="#6a9f48"/>
<polygon points="636.58,120.29 639.31,123.02 636.58,125.75 633.85,123.02" fill="#6a9f48"/>
<polygon points="639.74,119.12 642.47,121.85 639.74,124.58 637.01,121.85" fill="#6a9f48"/>
<polygon points="642.9,117.89 645.63,120.62 642.9,123.35 640.17,120.62" fill="#6a9f48"/>
<polygon points="646.05,116.47 648.78,119.2 646.05,121.93 643.32,119.2" fill="#6a9f48"/>
<polygon points="649.21,114.82 651.94,117.55 649.21,120.28 646.48,117.55" fill="#6a9f48"/>
<polygon points="652.37,112.77 655.1,115.5 652.37,118.23 649.64,115.5" fill="#6a9f48"/>
<polygon points="655.53,110.24 658.26,112.97 655.53,115.7 652.8,112.97" fill="#6a9f48"/>
<polygon points="658.68,107.1 661.41,109.83 658.68,112.56 655.95,109.83" fill="#6a9f48"/>
<polygon points="661.84,103.39 664.57,106.12 661.84,108.85 659.11,106.12" fill="#6a9f48"/>
<polygon points="665,99.31 667.73,102.04 665,104.77 662.27,102.04" fill="#6a9f48"/>
<polyline points="435.38,43.37 443.15,34.64 450.92,25.5 458.69,24.93 466.44,36.67 473.88,52.6 481.03,70.17 487.87,84.53 494.41,90.76 500.65,94.23 506.72,97.2 512.8,100.13 518.59,103.78 524.05,106.5 529.35,109.68 534.48,112.89 539.45,115.66 544.24,117.74 548.91,119.85 553.53,121.56 558.11,122.78 562.64,123.9 567.12,124.91 571.56,125.61 575.95,126.03 580.2,126.72 584.28,127.35 588.18,127.65 591.93,127.86 595.51,128.04 598.95,128.17 602.24,128.26 605.4,128.3 608.53,128.3 611.67,128.3 614.81,128.3 617.95,128.3 621.08,128.3 624.22,128.3 627.36,128.29 630.49,128.15 633.63,127.86 636.77,127.52 639.9,127.12 643.04,126.6 646.18,126 649.32,125.38 652.45,124.72 655.59,123.94 658.73,122.94 661.86,121.57 665,119.92" fill="none" stroke="#c99f2c" stroke-width="1" stroke-linejoin="round" />
<polygon points="435.38,40.94 432.78,45.36 437.98,45.36" fill="#c99f2c"/>
<polygon points="443.15,32.21 440.55,36.63 445.75,36.63" fill="#c99f2c"/>
<polygon points="450.92,23.07 448.32,27.49 453.52,27.49" fill="#c99f2c"/>
<polygon points="458.69,22.5 456.09,26.92 461.29,26.92" fill="#c99f2c"/>
<polygon points="466.44,34.24 463.84,38.66 469.04,38.66" fill="#c99f2c"/>
<polygon points="473.88,50.17 471.28,54.59 476.48,54.59" fill="#c99f2c"/>
<polygon points="481.03,67.74 478.43,72.16 483.63,72.16" fill="#c99f2c"/>
<polygon points="487.87,82.1 485.27,86.52 490.47,86.52" fill="#c99f2c"/>
<polygon points="494.41,88.33 491.81,92.75 497.01,92.75" fill="#c99f2c"/>
<polygon points="500.65,91.8 498.05,96.22 503.25,96.22" fill="#c99f2c"/>
<polygon points="506.72,94.77 504.12,99.19 509.32,99.19" fill="#c99f2c"/>
<polygon points="512.8,97.7 510.2,102.12 515.4,102.12" fill="#c99f2c"/>
<polygon points="518.59,101.35 515.99,105.77 521.19,105.77" fill="#c99f2c"/>
<polygon points="524.05,104.07 521.45,108.49 526.65,108.49" fill="#c99f2c"/>
<polygon points="529.35,107.25 526.75,111.67 531.95,111.67" fill="#c99f2c"/>
<polygon points="534.48,110.46 531.88,114.88 537.08,114.88" fill="#c99f2c"/>
<polygon points="539.45,113.23 536.85,117.65 542.05,117.65" fill="#c99f2c"/>
<polygon points="544.24,115.31 541.64,119.73 546.84,119.73" fill="#c99f2c"/>
<polygon points="548.91,117.42 546.31,121.84 551.51,121.84" fill="#c99f2c"/>
<polygon points="553.53,119.13 550.93,123.55 556.13,123.55" fill="#c99f2c"/>
<polygon points="558.11,120.35 555.51,124.77 560.71,124.77" fill="#c99f2c"/>
<polygon points="562.64,121.47 560.04,125.89 565.24,125.89" fill="#c99f2c"/>
<polygon points="567.12,122.48 564.52,126.9 569.72,126.9" fill="#c99f2c"/>
<polygon points="571.56,123.18 568.96,127.6 574.16,127.6" fill="#c99f2c"/>
<polygon points="575.95,123.6 573.35,128.02 578.55,128.02" fill="#c99f2c"/>
<polygon points="580.2,124.29 577.6,128.71 582.8,128.71" fill="#c99f2c"/>
<polygon points="584.28,124.92 581.68,129.34 586.88,129.34" fill="#c99f2c"/>
<polygon points="588.18,125.21 585.58,129.63 590.78,129.63" fill="#c99f2c"/>
<polygon points="591.93,125.43 589.33,129.85 594.53,129.85" fill="#c99f2c"/>
<polygon points="595.51,125.61 592.91,130.03 598.11,130.03" fill="#c99f2c"/>
<polygon points="598.95,125.74 596.35,130.16 601.55,130.16" fill="#c99f2c"/>
<polygon points="602.24,125.83 599.64,130.25 604.84,130.25" fill="#c99f2c"/>
<polygon points="605.4,125.87 602.8,130.29 608,130.29" fill="#c99f2c"/>
<polygon points="608.53,125.87 605.93,130.29 611.13,130.29" fill="#c99f2c"/>
<polygon points="611.67,125.87 609.07,130.29 614.27,130.29" fill="#c99f2c"/>
<polygon points="614.81,125.87 612.21,130.29 617.41,130.29" fill="#c99f2c"/>
<polygon points="617.95,125.87 615.35,130.29 620.55,130.29" fill="#c99f2c"/>
<polygon points="621.08,125.87 618.48,130.29 623.68,130.29" fill="#c99f2c"/>
<polygon points="624.22,125.87 621.62,130.29 626.82,130.29" fill="#c99f2c"/>
<polygon points="627.36,125.86 624.76,130.28 629.96,130.28" fill="#c99f2c"/>
<polygon points="630.49,125.72 627.89,130.14 633.09,130.14" fill="#c99f2c"/>
<polygon points="633.63,125.43 631.03,129.85 636.23,129.85" fill="#c99f2c"/>
<polygon points="636.77,125.09 634.17,129.51 639.37,129.51" fill="#c99f2c"/>
<polygon points="639.9,124.69 637.3,129.11 642.5,129.11" fill="#c99f2c"/>
<polygon points="643.04,124.16 640.44,128.58 645.64,128.58" fill="#c99f2c"/>
<polygon points="646.18,123.57 643.58,127.99 648.78,127.99" fill="#c99f2c"/>
<polygon points="649.32,122.95 646.72,127.37 651.92,127.37" fill="#c99f2c"/>
<polygon points="652.45,122.29 649.85,126.71 655.05,126.71" fill="#c99f2c"/>
<polygon points="655.59,121.5 652.99,125.92 658.19,125.92" fill="#c99f2c"/>
<polygon points="658.73,120.51 656.13,124.93 661.33,124.93" fill="#c99f2c"/>
<polygon points="661.86,119.14 659.26,123.56 664.46,123.56" fill="#c99f2c"/>
<polygon points="665,117.49 662.4,121.91 667.6,121.91" fill="#c99f2c"/>
<polyline points="435.38,151.98 443.15,181.35 450.92,205.03 458.69,226.07 466.44,241.79 473.88,250.86 481.03,256.15 487.87,258.54 494.41,259.85 500.65,260.67 506.72,261.24 512.8,261.7 518.59,262.03 524.05,262.28 529.35,262.5 534.48,262.69 539.45,262.85 544.24,262.98 548.91,263.08 553.53,263.16 558.11,263.24 562.64,263.31 567.12,263.37 571.56,263.43 575.95,263.48 580.2,263.53 584.28,263.57 588.18,263.61 591.93,263.64 595.51,263.67 598.95,263.69 602.24,263.72 605.4,263.74 608.53,263.76 611.67,263.78 614.81,263.8 617.95,263.82 621.08,263.84 624.22,263.86 627.36,263.87 630.49,263.89 633.63,263.91 636.77,263.92 639.9,263.94 643.04,263.95 646.18,263.96 649.32,263.97 652.45,263.98 655.59,263.99 658.73,263.99 661.86,264 665,264" fill="none" stroke="#e8645d" stroke-width="1" stroke-linejoin="round" />
<circle cx="435.38" cy="151.98" r="2.6" fill="#e8645d"/>
<circle cx="443.15" cy="181.35" r="2.6" fill="#e8645d"/>
<circle cx="450.92" cy="205.03" r="2.6" fill="#e8645d"/>
<circle cx="458.69" cy="226.07" r="2.6" fill="#e8645d"/>
<circle cx="466.44" cy="241.79" r="2.6" fill="#e8645d"/>
<circle cx="473.88" cy="250.86" r="2.6" fill="#e8645d"/>
<circle cx="481.03" cy="256.15" r="2.6" fill="#e8645d"/>
<circle cx="487.87" cy="258.54" r="2.6" fill="#e8645d"/>
<circle cx="494.41" cy="259.85" r="2.6" fill="#e8645d"/>
<circle cx="500.65" cy="260.67" r="2.6" fill="#e8645d"/>
<circle cx="506.72" cy="261.24" r="2.6" fill="#e8645d"/>
<circle cx="512.8" cy="261.7" r="2.6" fill="#e8645d"/>
<circle cx="518.59" cy="262.03" r="2.6" fill="#e8645d"/>
<circle cx="524.05" cy="262.28" r="2.6" fill="#e8645d"/>
<circle cx="529.35" cy="262.5" r="2.6" fill="#e8645d"/>
<circle cx="534.48" cy="262.69" r="2.6" fill="#e8645d"/>
<circle cx="539.45" cy="262.85" r="2.6" fill="#e8645d"/>
<circle cx="544.24" cy="262.98" r="2.6" fill="#e8645d"/>
<circle cx="548.91" cy="263.08" r="2.6" fill="#e8645d"/>
<circle cx="553.53" cy="263.16" r="2.6" fill="#e8645d"/>
<circle cx="558.11" cy="263.24" r="2.6" fill="#e8645d"/>
<circle cx="562.64" cy="263.31" r="2.6" fill="#e8645d"/>
<circle cx="567.12" cy="263.37" r="2.6" fill="#e8645d"/>
<circle cx="571.56" cy="263.43" r="2.6" fill="#e8645d"/>
<circle cx="575.95" cy="263.48" r="2.6" fill="#e8645d"/>
<circle cx="580.2" cy="263.53" r="2.6" fill="#e8645d"/>
<circle cx="584.28" cy="263.57" r="2.6" fill="#e8645d"/>
<circle cx="588.18" cy="263.61" r="2.6" fill="#e8645d"/>
<circle cx="591.93" cy="263.64" r="2.6" fill="#e8645d"/>
<circle cx="595.51" cy="263.67" r="2.6" fill="#e8645d"/>
<circle cx="598.95" cy="263.69" r="2.6" fill="#e8645d"/>
<circle cx="602.24" cy="263.72" r="2.6" fill="#e8645d"/>
<circle cx="605.4" cy="263.74" r="2.6" fill="#e8645d"/>
<circle cx="608.53" cy="263.76" r="2.6" fill="#e8645d"/>
<circle cx="611.67" cy="263.78" r="2.6" fill="#e8645d"/>
<circle cx="614.81" cy="263.8" r="2.6" fill="#e8645d"/>
<circle cx="617.95" cy="263.82" r="2.6" fill="#e8645d"/>
<circle cx="621.08" cy="263.84" r="2.6" fill="#e8645d"/>
<circle cx="624.22" cy="263.86" r="2.6" fill="#e8645d"/>
<circle cx="627.36" cy="263.87" r="2.6" fill="#e8645d"/>
<circle cx="630.49" cy="263.89" r="2.6" fill="#e8645d"/>
<circle cx="633.63" cy="263.91" r="2.6" fill="#e8645d"/>
<circle cx="636.77" cy="263.92" r="2.6" fill="#e8645d"/>
<circle cx="639.9" cy="263.94" r="2.6" fill="#e8645d"/>
<circle cx="643.04" cy="263.95" r="2.6" fill="#e8645d"/>
<circle cx="646.18" cy="263.96" r="2.6" fill="#e8645d"/>
<circle cx="649.32" cy="263.97" r="2.6" fill="#e8645d"/>
<circle cx="652.45" cy="263.98" r="2.6" fill="#e8645d"/>
<circle cx="655.59" cy="263.99" r="2.6" fill="#e8645d"/>
<circle cx="658.73" cy="263.99" r="2.6" fill="#e8645d"/>
<circle cx="661.86" cy="264" r="2.6" fill="#e8645d"/>
<circle cx="665" cy="264" r="2.6" fill="#e8645d"/>
<polyline points="435.38,210.39 438.99,220.65 442.6,228.84 446.21,235.42 449.82,241.3 453.43,245.32 457.04,248.51 460.65,250.95 464.25,252.65 467.86,254.2 471.47,255.35 475.08,256.24 478.69,257 482.3,257.67 485.91,258.27 489.52,258.86 493.13,259.43 496.73,259.98 500.34,260.47 503.95,260.88 507.11,261.21 510.27,261.51 513.43,261.78 516.58,262.01 519.74,262.22 522.9,262.4 526.06,262.57 529.21,262.72 532.37,262.87 535.53,263.02 538.69,263.17 541.85,263.31 545,263.43 548.16,263.52 551.32,263.57 554.48,263.62 557.63,263.66 560.79,263.7 563.95,263.73 567.11,263.77 570.27,263.8 573.42,263.82 576.58,263.85 579.74,263.87 582.9,263.89 586.05,263.91 589.21,263.93 592.37,263.95 595.53,263.97 598.69,263.98 601.84,264 605,264.01 608.16,264.03 611.32,264.04 614.48,264.06 617.63,264.07 620.79,264.08 623.95,264.1 627.11,264.11 630.26,264.12 633.42,264.13 636.58,264.15 639.74,264.16 642.9,264.17 646.05,264.17 649.21,264.18 652.37,264.19 655.53,264.19 658.68,264.2 661.84,264.2 665,264.2" fill="none" stroke="#cc66f0" stroke-width="1" stroke-linejoin="round" />
<polygon points="435.38,213.04 432.78,208.62 437.98,208.62" fill="#cc66f0"/>
<polygon points="438.99,223.3 436.39,218.88 441.59,218.88" fill="#cc66f0"/>
<polygon points="442.6,231.5 440,227.08 445.2,227.08" fill="#cc66f0"/>
<polygon points="446.21,238.07 443.61,233.65 448.81,233.65" fill="#cc66f0"/>
<polygon points="449.82,243.96 447.22,239.54 452.42,239.54" fill="#cc66f0"/>
<polygon points="453.43,247.97 450.83,243.55 456.03,243.55" fill="#cc66f0"/>
<polygon points="457.04,251.16 454.44,246.74 459.64,246.74" fill="#cc66f0"/>
<polygon points="460.65,253.6 458.05,249.18 463.25,249.18" fill="#cc66f0"/>
<polygon points="464.25,255.3 461.65,250.88 466.85,250.88" fill="#cc66f0"/>
<polygon points="467.86,256.85 465.26,252.43 470.46,252.43" fill="#cc66f0"/>
<polygon points="471.47,258 468.87,253.58 474.07,253.58" fill="#cc66f0"/>
<polygon points="475.08,258.89 472.48,254.47 477.68,254.47" fill="#cc66f0"/>
<polygon points="478.69,259.66 476.09,255.24 481.29,255.24" fill="#cc66f0"/>
<polygon points="482.3,260.32 479.7,255.9 484.9,255.9" fill="#cc66f0"/>
<polygon points="485.91,260.93 483.31,256.51 488.51,256.51" fill="#cc66f0"/>
<polygon points="489.52,261.51 486.92,257.09 492.12,257.09" fill="#cc66f0"/>
<polygon points="493.13,262.09 490.53,257.67 495.73,257.67" fill="#cc66f0"/>
<polygon points="496.73,262.63 494.13,258.21 499.33,258.21" fill="#cc66f0"/>
<polygon points="500.34,263.12 497.74,258.7 502.94,258.7" fill="#cc66f0"/>
<polygon points="503.95,263.54 501.35,259.12 506.55,259.12" fill="#cc66f0"/>
<polygon points="507.11,263.86 504.51,259.44 509.71,259.44" fill="#cc66f0"/>
<polygon points="510.27,264.16 507.67,259.74 512.87,259.74" fill="#cc66f0"/>
<polygon points="513.43,264.43 510.83,260.01 516.03,260.01" fill="#cc66f0"/>
<polygon points="516.58,264.66 513.98,260.24 519.18,260.24" fill="#cc66f0"/>
<polygon points="519.74,264.87 517.14,260.45 522.34,260.45" fill="#cc66f0"/>
<polygon points="522.9,265.05 520.3,260.63 525.5,260.63" fill="#cc66f0"/>
<polygon points="526.06,265.22 523.46,260.8 528.66,260.8" fill="#cc66f0"/>
<polygon points="529.21,265.37 526.61,260.95 531.81,260.95" fill="#cc66f0"/>
<polygon points="532.37,265.52 529.77,261.1 534.97,261.1" fill="#cc66f0"/>
<polygon points="535.53,265.67 532.93,261.25 538.13,261.25" fill="#cc66f0"/>
<polygon points="538.69,265.82 536.09,261.4 541.29,261.4" fill="#cc66f0"/>
<polygon points="541.85,265.96 539.25,261.54 544.45,261.54" fill="#cc66f0"/>
<polygon points="545,266.08 542.4,261.66 547.6,261.66" fill="#cc66f0"/>
<polygon points="548.16,266.17 545.56,261.75 550.76,261.75" fill="#cc66f0"/>
<polygon points="551.32,266.22 548.72,261.8 553.92,261.8" fill="#cc66f0"/>
<polygon points="554.48,266.27 551.88,261.85 557.08,261.85" fill="#cc66f0"/>
<polygon points="557.63,266.31 555.03,261.89 560.23,261.89" fill="#cc66f0"/>
<polygon points="560.79,266.35 558.19,261.93 563.39,261.93" fill="#cc66f0"/>
<polygon points="563.95,266.39 561.35,261.97 566.55,261.97" fill="#cc66f0"/>
<polygon points="567.11,266.42 564.51,262 569.71,262" fill="#cc66f0"/>
<polygon points="570.27,266.45 567.67,262.03 572.87,262.03" fill="#cc66f0"/>
<polygon points="573.42,266.48 570.82,262.06 576.02,262.06" fill="#cc66f0"/>
<polygon points="576.58,266.5 573.98,262.08 579.18,262.08" fill="#cc66f0"/>
<polygon points="579.74,266.52 577.14,262.1 582.34,262.1" fill="#cc66f0"/>
<polygon points="582.9,266.55 580.3,262.13 585.5,262.13" fill="#cc66f0"/>
<polygon points="586.05,266.57 583.45,262.15 588.65,262.15" fill="#cc66f0"/>
<polygon points="589.21,266.58 586.61,262.16 591.81,262.16" fill="#cc66f0"/>
<polygon points="592.37,266.6 589.77,262.18 594.97,262.18" fill="#cc66f0"/>
<polygon points="595.53,266.62 592.93,262.2 598.13,262.2" fill="#cc66f0"/>
<polygon points="598.69,266.63 596.09,262.21 601.29,262.21" fill="#cc66f0"/>
<polygon points="601.84,266.65 599.24,262.23 604.44,262.23" fill="#cc66f0"/>
<polygon points="605,266.66 602.4,262.24 607.6,262.24" fill="#cc66f0"/>
<polygon points="608.16,266.68 605.56,262.26 610.76,262.26" fill="#cc66f0"/>
<polygon points="611.32,266.69 608.72,262.27 613.92,262.27" fill="#cc66f0"/>
<polygon points="614.48,266.71 611.88,262.29 617.08,262.29" fill="#cc66f0"/>
<polygon points="617.63,266.72 615.03,262.3 620.23,262.3" fill="#cc66f0"/>
<polygon points="620.79,266.74 618.19,262.32 623.39,262.32" fill="#cc66f0"/>
<polygon points="623.95,266.75 621.35,262.33 626.55,262.33" fill="#cc66f0"/>
<polygon points="627.11,266.76 624.51,262.34 629.71,262.34" fill="#cc66f0"/>
<polygon points="630.26,266.78 627.66,262.36 632.86,262.36" fill="#cc66f0"/>
<polygon points="633.42,266.79 630.82,262.37 636.02,262.37" fill="#cc66f0"/>
<polygon points="636.58,266.8 633.98,262.38 639.18,262.38" fill="#cc66f0"/>
<polygon points="639.74,266.81 637.14,262.39 642.34,262.39" fill="#cc66f0"/>
<polygon points="642.9,266.82 640.3,262.4 645.5,262.4" fill="#cc66f0"/>
<polygon points="646.05,266.83 643.45,262.41 648.65,262.41" fill="#cc66f0"/>
<polygon points="649.21,266.83 646.61,262.41 651.81,262.41" fill="#cc66f0"/>
<polygon points="652.37,266.84 649.77,262.42 654.97,262.42" fill="#cc66f0"/>
<polygon points="655.53,266.84 652.93,262.42 658.13,262.42" fill="#cc66f0"/>
<polygon points="658.68,266.85 656.08,262.43 661.28,262.43" fill="#cc66f0"/>
<polygon points="661.84,266.85 659.24,262.43 664.44,262.43" fill="#cc66f0"/>
<polygon points="665,266.85 662.4,262.43 667.6,262.43" fill="#cc66f0"/>
<polyline points="435.38,213.46 438.99,223.37 442.6,231.26 446.21,237.56 449.82,243.2 453.43,247 457.04,250 460.65,252.27 464.25,253.82 467.86,255.24 471.47,256.27 475.08,257.06 478.69,257.73 482.3,258.31 485.91,258.84 489.52,259.36 493.13,259.88 496.73,260.38 500.34,260.82 503.95,261.2 507.11,261.49 510.27,261.77 513.43,262.01 516.58,262.22 519.74,262.4 522.9,262.57 526.06,262.72 529.21,262.86 532.37,262.99 535.53,263.13 538.69,263.27 541.85,263.4 545,263.51 548.16,263.59 551.32,263.63 554.48,263.68 557.63,263.71 560.79,263.75 563.95,263.78 567.11,263.81 570.27,263.83 573.42,263.86 576.58,263.88 579.74,263.9 582.9,263.92 586.05,263.93 589.21,263.95 592.37,263.97 595.53,263.98 598.69,263.99 601.84,264.01 605,264.02 608.16,264.04 611.32,264.05 614.48,264.06 617.63,264.08 620.79,264.09 623.95,264.1 627.11,264.11 630.26,264.13 633.42,264.14 636.58,264.15 639.74,264.16 642.9,264.16 646.05,264.17 649.21,264.18 652.37,264.19 655.53,264.19 658.68,264.19 661.84,264.2 665,264.2" fill="none" stroke="#6a9f48" stroke-width="1" stroke-linejoin="round" />
<polygon points="435.38,210.73 438.11,213.46 435.38,216.19 432.65,213.46" fill="#6a9f48"/>
<polygon points="438.99,220.64 441.72,223.37 438.99,226.1 436.26,223.37" fill="#6a9f48"/>
<polygon points="442.6,228.53 445.33,231.26 442.6,233.99 439.87,231.26" fill="#6a9f48"/>
<polygon points="446.21,234.83 448.94,237.56 446.21,240.29 443.48,237.56" fill="#6a9f48"/>
<polygon points="449.82,240.47 452.55,243.2 449.82,245.93 447.09,243.2" fill="#6a9f48"/>
<polygon points="453.43,244.27 456.16,247 453.43,249.73 450.7,247" fill="#6a9f48"/>
<polygon points="457.04,247.27 459.77,250 457.04,252.73 454.31,250" fill="#6a9f48"/>
<polygon points="460.65,249.54 463.38,252.27 460.65,255 457.92,252.27" fill="#6a9f48"/>
<polygon points="464.25,251.09 466.98,253.82 464.25,256.55 461.52,253.82" fill="#6a9f48"/>
<polygon points="467.86,252.51 470.59,255.24 467.86,257.97 465.13,255.24" fill="#6a9f48"/>
<polygon points="471.47,253.54 474.2,256.27 471.47,259 468.74,256.27" fill="#6a9f48"/>
<polygon points="475.08,254.33 477.81,257.06 475.08,259.79 472.35,257.06" fill="#6a9f48"/>
<polygon points="478.69,255 481.42,257.73 478.69,260.46 475.96,257.73" fill="#6a9f48"/>
<polygon points="482.3,255.58 485.03,258.31 482.3,261.04 479.57,258.31" fill="#6a9f48"/>
<polygon points="485.91,256.11 488.64,258.84 485.91,261.57 483.18,258.84" fill="#6a9f48"/>
<polygon points="489.52,256.63 492.25,259.36 489.52,262.09 486.79,259.36" fill="#6a9f48"/>
<polygon points="493.13,257.15 495.86,259.88 493.13,262.61 490.4,259.88" fill="#6a9f48"/>
<polygon points="496.73,257.65 499.46,260.38 496.73,263.11 494,260.38" fill="#6a9f48"/>
<polygon points="500.34,258.09 503.07,260.82 500.34,263.55 497.61,260.82" fill="#6a9f48"/>
<polygon points="503.95,258.47 506.68,261.2 503.95,263.93 501.22,261.2" fill="#6a9f48"/>
<polygon points="507.11,258.76 509.84,261.49 507.11,264.22 504.38,261.49" fill="#6a9f48"/>
<polygon points="510.27,259.04 513,261.77 510.27,264.5 507.54,261.77" fill="#6a9f48"/>
<polygon points="513.43,259.28 516.16,262.01 513.43,264.74 510.7,262.01" fill="#6a9f48"/>
<polygon points="516.58,259.49 519.31,262.22 516.58,264.95 513.85,262.22" fill="#6a9f48"/>
<polygon points="519.74,259.67 522.47,262.4 519.74,265.13 517.01,262.4" fill="#6a9f48"/>
<polygon points="522.9,259.84 525.63,262.57 522.9,265.3 520.17,262.57" fill="#6a9f48"/>
<polygon points="526.06,259.99 528.79,262.72 526.06,265.45 523.33,262.72" fill="#6a9f48"/>
<polygon points="529.21,260.13 531.94,262.86 529.21,265.59 526.48,262.86" fill="#6a9f48"/>
<polygon points="532.37,260.26 535.1,262.99 532.37,265.72 529.64,262.99" fill="#6a9f48"/>
<polygon points="535.53,260.4 538.26,263.13 535.53,265.86 532.8,263.13" fill="#6a9f48"/>
<polygon points="538.69,260.54 541.42,263.27 538.69,266 535.96,263.27" fill="#6a9f48"/>
<polygon points="541.85,260.67 544.58,263.4 541.85,266.13 539.12,263.4" fill="#6a9f48"/>
<polygon points="545,260.78 547.73,263.51 545,266.24 542.27,263.51" fill="#6a9f48"/>
<polygon points="548.16,260.86 550.89,263.59 548.16,266.32 545.43,263.59" fill="#6a9f48"/>
<polygon points="551.32,260.9 554.05,263.63 551.32,266.36 548.59,263.63" fill="#6a9f48"/>
<polygon points="554.48,260.95 557.21,263.68 554.48,266.41 551.75,263.68" fill="#6a9f48"/>
<polygon points="557.63,260.98 560.36,263.71 557.63,266.44 554.9,263.71" fill="#6a9f48"/>
<polygon points="560.79,261.02 563.52,263.75 560.79,266.48 558.06,263.75" fill="#6a9f48"/>
<polygon points="563.95,261.05 566.68,263.78 563.95,266.51 561.22,263.78" fill="#6a9f48"/>
<polygon points="567.11,261.08 569.84,263.81 567.11,266.54 564.38,263.81" fill="#6a9f48"/>
<polygon points="570.27,261.1 573,263.83 570.27,266.56 567.54,263.83" fill="#6a9f48"/>
<polygon points="573.42,261.13 576.15,263.86 573.42,266.59 570.69,263.86" fill="#6a9f48"/>
<polygon points="576.58,261.15 579.31,263.88 576.58,266.61 573.85,263.88" fill="#6a9f48"/>
<polygon points="579.74,261.17 582.47,263.9 579.74,266.63 577.01,263.9" fill="#6a9f48"/>
<polygon points="582.9,261.19 585.63,263.92 582.9,266.65 580.17,263.92" fill="#6a9f48"/>
<polygon points="586.05,261.2 588.78,263.93 586.05,266.66 583.32,263.93" fill="#6a9f48"/>
<polygon points="589.21,261.22 591.94,263.95 589.21,266.68 586.48,263.95" fill="#6a9f48"/>
<polygon points="592.37,261.24 595.1,263.97 592.37,266.7 589.64,263.97" fill="#6a9f48"/>
<polygon points="595.53,261.25 598.26,263.98 595.53,266.71 592.8,263.98" fill="#6a9f48"/>
<polygon points="598.69,261.26 601.42,263.99 598.69,266.72 595.96,263.99" fill="#6a9f48"/>
<polygon points="601.84,261.28 604.57,264.01 601.84,266.74 599.11,264.01" fill="#6a9f48"/>
<polygon points="605,261.29 607.73,264.02 605,266.75 602.27,264.02" fill="#6a9f48"/>
<polygon points="608.16,261.31 610.89,264.04 608.16,266.77 605.43,264.04" fill="#6a9f48"/>
<polygon points="611.32,261.32 614.05,264.05 611.32,266.78 608.59,264.05" fill="#6a9f48"/>
<polygon points="614.48,261.33 617.21,264.06 614.48,266.79 611.75,264.06" fill="#6a9f48"/>
<polygon points="617.63,261.35 620.36,264.08 617.63,266.81 614.9,264.08" fill="#6a9f48"/>
<polygon points="620.79,261.36 623.52,264.09 620.79,266.82 618.06,264.09" fill="#6a9f48"/>
<polygon points="623.95,261.37 626.68,264.1 623.95,266.83 621.22,264.1" fill="#6a9f48"/>
<polygon points="627.11,261.38 629.84,264.11 627.11,266.84 624.38,264.11" fill="#6a9f48"/>
<polygon points="630.26,261.4 632.99,264.13 630.26,266.86 627.53,264.13" fill="#6a9f48"/>
<polygon points="633.42,261.41 636.15,264.14 633.42,266.87 630.69,264.14" fill="#6a9f48"/>
<polygon points="636.58,261.42 639.31,264.15 636.58,266.88 633.85,264.15" fill="#6a9f48"/>
<polygon points="639.74,261.43 642.47,264.16 639.74,266.89 637.01,264.16" fill="#6a9f48"/>
<polygon points="642.9,261.43 645.63,264.16 642.9,266.89 640.17,264.16" fill="#6a9f48"/>
<polygon points="646.05,261.44 648.78,264.17 646.05,266.9 643.32,264.17" fill="#6a9f48"/>
<polygon points="649.21,261.45 651.94,264.18 649.21,266.91 646.48,264.18" fill="#6a9f48"/>
<polygon points="652.37,261.46 655.1,264.19 652.37,266.92 649.64,264.19" fill="#6a9f48"/>
<polygon points="655.53,261.46 658.26,264.19 655.53,266.92 652.8,264.19" fill="#6a9f48"/>
<polygon points="658.68,261.46 661.41,264.19 658.68,266.92 655.95,264.19" fill="#6a9f48"/>
<polygon points="661.84,261.47 664.57,264.2 661.84,266.93 659.11,264.2" fill="#6a9f48"/>
<polygon points="665,261.47 667.73,264.2 665,266.93 662.27,264.2" fill="#6a9f48"/>
<polyline points="435.38,190.9 443.15,211.52 450.92,229.34 458.69,243.2 466.44,251.91 473.88,256.29 481.03,258.41 487.87,259.55 494.41,260.23 500.65,260.73 506.72,261.12 512.8,261.45 518.59,261.75 524.05,262.01 529.35,262.24 534.48,262.44 539.45,262.61 544.24,262.76 548.91,262.88 553.53,262.97 558.11,263.06 562.64,263.14 567.12,263.22 571.56,263.29 575.95,263.35 580.2,263.41 584.28,263.46 588.18,263.5 591.93,263.53 595.51,263.57 598.95,263.59 602.24,263.62 605.4,263.64 608.53,263.66 611.67,263.68 614.81,263.7 617.95,263.72 621.08,263.74 624.22,263.76 627.36,263.78 630.49,263.8 633.63,263.81 636.77,263.83 639.9,263.84 643.04,263.85 646.18,263.87 649.32,263.88 652.45,263.88 655.59,263.89 658.73,263.9 661.86,263.9 665,263.9" fill="none" stroke="#c99f2c" stroke-width="1" stroke-linejoin="round" />
<polygon points="435.38,188.47 432.78,192.89 437.98,192.89" fill="#c99f2c"/>
<polygon points="443.15,209.09 440.55,213.51 445.75,213.51" fill="#c99f2c"/>
<polygon points="450.92,226.91 448.32,231.33 453.52,231.33" fill="#c99f2c"/>
<polygon points="458.69,240.77 456.09,245.19 461.29,245.19" fill="#c99f2c"/>
<polygon points="466.44,249.48 463.84,253.9 469.04,253.9" fill="#c99f2c"/>
<polygon points="473.88,253.86 471.28,258.28 476.48,258.28" fill="#c99f2c"/>
<polygon points="481.03,255.98 478.43,260.4 483.63,260.4" fill="#c99f2c"/>
<polygon points="487.87,257.12 485.27,261.54 490.47,261.54" fill="#c99f2c"/>
<polygon points="494.41,257.8 491.81,262.22 497.01,262.22" fill="#c99f2c"/>
<polygon points="500.65,258.3 498.05,262.72 503.25,262.72" fill="#c99f2c"/>
<polygon points="506.72,258.69 504.12,263.11 509.32,263.11" fill="#c99f2c"/>
<polygon points="512.8,259.02 510.2,263.44 515.4,263.44" fill="#c99f2c"/>
<polygon points="518.59,259.31 515.99,263.73 521.19,263.73" fill="#c99f2c"/>
<polygon points="524.05,259.57 521.45,263.99 526.65,263.99" fill="#c99f2c"/>
<polygon points="529.35,259.81 526.75,264.23 531.95,264.23" fill="#c99f2c"/>
<polygon points="534.48,260.01 531.88,264.43 537.08,264.43" fill="#c99f2c"/>
<polygon points="539.45,260.18 536.85,264.6 542.05,264.6" fill="#c99f2c"/>
<polygon points="544.24,260.33 541.64,264.75 546.84,264.75" fill="#c99f2c"/>
<polygon points="548.91,260.45 546.31,264.87 551.51,264.87" fill="#c99f2c"/>
<polygon points="553.53,260.54 550.93,264.96 556.13,264.96" fill="#c99f2c"/>
<polygon points="558.11,260.63 555.51,265.05 560.71,265.05" fill="#c99f2c"/>
<polygon points="562.64,260.71 560.04,265.13 565.24,265.13" fill="#c99f2c"/>
<polygon points="567.12,260.79 564.52,265.21 569.72,265.21" fill="#c99f2c"/>
<polygon points="571.56,260.86 568.96,265.28 574.16,265.28" fill="#c99f2c"/>
<polygon points="575.95,260.92 573.35,265.34 578.55,265.34" fill="#c99f2c"/>
<polygon points="580.2,260.98 577.6,265.4 582.8,265.4" fill="#c99f2c"/>
<polygon points="584.28,261.02 581.68,265.44 586.88,265.44" fill="#c99f2c"/>
<polygon points="588.18,261.07 585.58,265.49 590.78,265.49" fill="#c99f2c"/>
<polygon points="591.93,261.1 589.33,265.52 594.53,265.52" fill="#c99f2c"/>
<polygon points="595.51,261.13 592.91,265.55 598.11,265.55" fill="#c99f2c"/>
<polygon points="598.95,261.16 596.35,265.58 601.55,265.58" fill="#c99f2c"/>
<polygon points="602.24,261.18 599.64,265.6 604.84,265.6" fill="#c99f2c"/>
<polygon points="605.4,261.21 602.8,265.63 608,265.63" fill="#c99f2c"/>
<polygon points="608.53,261.23 605.93,265.65 611.13,265.65" fill="#c99f2c"/>
<polygon points="611.67,261.25 609.07,265.67 614.27,265.67" fill="#c99f2c"/>
<polygon points="614.81,261.27 612.21,265.69 617.41,265.69" fill="#c99f2c"/>
<polygon points="617.95,261.29 615.35,265.71 620.55,265.71" fill="#c99f2c"/>
<polygon points="621.08,261.31 618.48,265.73 623.68,265.73" fill="#c99f2c"/>
<polygon points="624.22,261.33 621.62,265.75 626.82,265.75" fill="#c99f2c"/>
<polygon points="627.36,261.35 624.76,265.77 629.96,265.77" fill="#c99f2c"/>
<polygon points="630.49,261.37 627.89,265.79 633.09,265.79" fill="#c99f2c"/>
<polygon points="633.63,261.38 631.03,265.8 636.23,265.8" fill="#c99f2c"/>
<polygon points="636.77,261.4 634.17,265.82 639.37,265.82" fill="#c99f2c"/>
<polygon points="639.9,261.41 637.3,265.83 642.5,265.83" fill="#c99f2c"/>
<polygon points="643.04,261.42 640.44,265.84 645.64,265.84" fill="#c99f2c"/>
<polygon points="646.18,261.43 643.58,265.85 648.78,265.85" fill="#c99f2c"/>
<polygon points="649.32,261.44 646.72,265.86 651.92,265.86" fill="#c99f2c"/>
<polygon points="652.45,261.45 649.85,265.87 655.05,265.87" fill="#c99f2c"/>
<polygon points="655.59,261.46 652.99,265.88 658.19,265.88" fill="#c99f2c"/>
<polygon points="658.73,261.46 656.13,265.88 661.33,265.88" fill="#c99f2c"/>
<polygon points="661.86,261.47 659.26,265.89 664.46,265.89" fill="#c99f2c"/>
<polygon points="665,261.47 662.4,265.89 667.6,265.89" fill="#c99f2c"/>
<line x1="422.87" y1="140.2" x2="422.87" y2="137.7" stroke="#111" stroke-width="1.1" />
<line x1="428.41" y1="140.2" x2="428.41" y2="137.7" stroke="#111" stroke-width="1.1" />
<line x1="432.33" y1="140.2" x2="432.33" y2="137.7" stroke="#111" stroke-width="1.1" />
<line x1="435.38" y1="140.2" x2="435.38" y2="137.7" stroke="#111" stroke-width="1.1" />
<line x1="437.87" y1="140.2" x2="437.87" y2="137.7" stroke="#111" stroke-width="1.1" />
<line x1="439.98" y1="140.2" x2="439.98" y2="137.7" stroke="#111" stroke-width="1.1" />
<line x1="441.8" y1="140.2" x2="441.8" y2="137.7" stroke="#111" stroke-width="1.1" />
<line x1="443.41" y1="140.2" x2="443.41" y2="137.7" stroke="#111" stroke-width="1.1" />
<line x1="444.85" y1="140.2" x2="444.85" y2="135.4" stroke="#111" stroke-width="1.1" />
<line x1="454.32" y1="140.2" x2="454.32" y2="137.7" stroke="#111" stroke-width="1.1" />
<line x1="459.86" y1="140.2" x2="459.86" y2="137.7" stroke="#111" stroke-width="1.1" />
<line x1="463.78" y1="140.2" x2="463.78" y2="137.7" stroke="#111" stroke-width="1.1" />
<line x1="466.83" y1="140.2" x2="466.83" y2="137.7" stroke="#111" stroke-width="1.1" />
<line x1="469.32" y1="140.2" x2="469.32" y2="137.7" stroke="#111" stroke-width="1.1" />
<line x1="471.43" y1="140.2" x2="471.43" y2="137.7" stroke="#111" stroke-width="1.1" />
<line x1="473.25" y1="140.2" x2="473.25" y2="137.7" stroke="#111" stroke-width="1.1" />
<line x1="474.86" y1="140.2" x2="474.86" y2="137.7" stroke="#111" stroke-width="1.1" />
<line x1="476.3" y1="140.2" x2="476.3" y2="135.4" stroke="#111" stroke-width="1.1" />
<line x1="485.77" y1="140.2" x2="485.77" y2="137.7" stroke="#111" stroke-width="1.1" />
<line x1="491.31" y1="140.2" x2="491.31" y2="137.7" stroke="#111" stroke-width="1.1" />
<line x1="495.23" y1="140.2" x2="495.23" y2="137.7" stroke="#111" stroke-width="1.1" />
<line x1="498.28" y1="140.2" x2="498.28" y2="137.7" stroke="#111" stroke-width="1.1" />
<line x1="500.77" y1="140.2" x2="500.77" y2="137.7" stroke="#111" stroke-width="1.1" />
<line x1="502.88" y1="140.2" x2="502.88" y2="137.7" stroke="#111" stroke-width="1.1" />
<line x1="504.7" y1="140.2" x2="504.7" y2="137.7" stroke="#111" stroke-width="1.1" />
<line x1="506.31" y1="140.2" x2="506.31" y2="137.7" stroke="#111" stroke-width="1.1" />
<line x1="507.75" y1="140.2" x2="507.75" y2="135.4" stroke="#111" stroke-width="1.1" />
<line x1="517.22" y1="140.2" x2="517.22" y2="137.7" stroke="#111" stroke-width="1.1" />
<line x1="522.76" y1="140.2" x2="522.76" y2="137.7" stroke="#111" stroke-width="1.1" />
<line x1="526.68" y1="140.2" x2="526.68" y2="137.7" stroke="#111" stroke-width="1.1" />
<line x1="529.73" y1="140.2" x2="529.73" y2="137.7" stroke="#111" stroke-width="1.1" />
<line x1="532.22" y1="140.2" x2="532.22" y2="137.7" stroke="#111" stroke-width="1.1" />
<line x1="534.33" y1="140.2" x2="534.33" y2="137.7" stroke="#111" stroke-width="1.1" />
<line x1="536.15" y1="140.2" x2="536.15" y2="137.7" stroke="#111" stroke-width="1.1" />
<line x1="537.76" y1="140.2" x2="537.76" y2="137.7" stroke="#111" stroke-width="1.1" />
<line x1="539.2" y1="140.2" x2="539.2" y2="135.4" stroke="#111" stroke-width="1.1" />
<line x1="548.67" y1="140.2" x2="548.67" y2="137.7" stroke="#111" stroke-width="1.1" />
<line x1="554.21" y1="140.2" x2="554.21" y2="137.7" stroke="#111" stroke-width="1.1" />
<line x1="558.13" y1="140.2" x2="558.13" y2="137.7" stroke="#111" stroke-width="1.1" />
<line x1="561.18" y1="140.2" x2="561.18" y2="137.7" stroke="#111" stroke-width="1.1" />
<line x1="563.67" y1="140.2" x2="563.67" y2="137.7" stroke="#111" stroke-width="1.1" />
<line x1="565.78" y1="140.2" x2="565.78" y2="137.7" stroke="#111" stroke-width="1.1" />
<line x1="567.6" y1="140.2" x2="567.6" y2="137.7" stroke="#111" stroke-width="1.1" />
<line x1="569.21" y1="140.2" x2="569.21" y2="137.7" stroke="#111" stroke-width="1.1" />
<line x1="570.65" y1="140.2" x2="570.65" y2="135.4" stroke="#111" stroke-width="1.1" />
<line x1="580.12" y1="140.2" x2="580.12" y2="137.7" stroke="#111" stroke-width="1.1" />
<line x1="585.66" y1="140.2" x2="585.66" y2="137.7" stroke="#111" stroke-width="1.1" />
<line x1="589.58" y1="140.2" x2="589.58" y2="137.7" stroke="#111" stroke-width="1.1" />
<line x1="592.63" y1="140.2" x2="592.63" y2="137.7" stroke="#111" stroke-width="1.1" />
<line x1="595.12" y1="140.2" x2="595.12" y2="137.7" stroke="#111" stroke-width="1.1" />
<line x1="597.23" y1="140.2" x2="597.23" y2="137.7" stroke="#111" stroke-width="1.1" />
<line x1="599.05" y1="140.2" x2="599.05" y2="137.7" stroke="#111" stroke-width="1.1" />
<line x1="600.66" y1="140.2" x2="600.66" y2="137.7" stroke="#111" stroke-width="1.1" />
<line x1="602.1" y1="140.2" x2="602.1" y2="135.4" stroke="#111" stroke-width="1.1" />
<line x1="611.57" y1="140.2" x2="611.57" y2="137.7" stroke="#111" stroke-width="1.1" />
<line x1="617.11" y1="140.2" x2="617.11" y2="137.7" stroke="#111" stroke-width="1.1" />
<line x1="621.03" y1="140.2" x2="621.03" y2="137.7" stroke="#111" stroke-width="1.1" />
<line x1="624.08" y1="140.2" x2="624.08" y2="137.7" stroke="#111" stroke-width="1.1" />
<line x1="626.57" y1="140.2" x2="626.57" y2="137.7" stroke="#111" stroke-width="1.1" />
<line x1="628.68" y1="140.2" x2="628.68" y2="137.7" stroke="#111" stroke-width="1.1" />
<line x1="630.5" y1="140.2" x2="630.5" y2="137.7" stroke="#111" stroke-width="1.1" />
<line x1="632.11" y1="140.2" x2="632.11" y2="137.7" stroke="#111" stroke-width="1.1" />
<line x1="633.55" y1="140.2" x2="633.55" y2="135.4" stroke="#111" stroke-width="1.1" />
<line x1="643.02" y1="140.2" x2="643.02" y2="137.7" stroke="#111" stroke-width="1.1" />
<line x1="648.56" y1="140.2" x2="648.56" y2="137.7" stroke="#111" stroke-width="1.1" />
<line x1="652.48" y1="140.2" x2="652.48" y2="137.7" stroke="#111" stroke-width="1.1" />
<line x1="655.53" y1="140.2" x2="655.53" y2="137.7" stroke="#111" stroke-width="1.1" />
<line x1="658.02" y1="140.2" x2="658.02" y2="137.7" stroke="#111" stroke-width="1.1" />
<line x1="660.13" y1="140.2" x2="660.13" y2="137.7" stroke="#111" stroke-width="1.1" />
<line x1="661.95" y1="140.2" x2="661.95" y2="137.7" stroke="#111" stroke-width="1.1" />
<line x1="663.56" y1="140.2" x2="663.56" y2="137.7" stroke="#111" stroke-width="1.1" />
<line x1="665" y1="140.2" x2="665" y2="135.4" stroke="#111" stroke-width="1.1" />
<line x1="674.47" y1="140.2" x2="674.47" y2="137.7" stroke="#111" stroke-width="1.1" />
<line x1="680.01" y1="140.2" x2="680.01" y2="137.7" stroke="#111" stroke-width="1.1" />
<line x1="422.87" y1="275.2" x2="422.87" y2="272.7" stroke="#111" stroke-width="1.1" />
<line x1="428.41" y1="275.2" x2="428.41" y2="272.7" stroke="#111" stroke-width="1.1" />
<line x1="432.33" y1="275.2" x2="432.33" y2="272.7" stroke="#111" stroke-width="1.1" />
<line x1="435.38" y1="275.2" x2="435.38" y2="272.7" stroke="#111" stroke-width="1.1" />
<line x1="437.87" y1="275.2" x2="437.87" y2="272.7" stroke="#111" stroke-width="1.1" />
<line x1="439.98" y1="275.2" x2="439.98" y2="272.7" stroke="#111" stroke-width="1.1" />
<line x1="441.8" y1="275.2" x2="441.8" y2="272.7" stroke="#111" stroke-width="1.1" />
<line x1="443.41" y1="275.2" x2="443.41" y2="272.7" stroke="#111" stroke-width="1.1" />
<text x="413.3" y="291.3" font-size="10.8" font-weight="bold" text-anchor="middle">10<tspan dy="-4.32" font-size="6.48">-3</tspan></text>
<line x1="444.85" y1="275.2" x2="444.85" y2="270.4" stroke="#111" stroke-width="1.1" />
<line x1="454.32" y1="275.2" x2="454.32" y2="272.7" stroke="#111" stroke-width="1.1" />
<line x1="459.86" y1="275.2" x2="459.86" y2="272.7" stroke="#111" stroke-width="1.1" />
<line x1="463.78" y1="275.2" x2="463.78" y2="272.7" stroke="#111" stroke-width="1.1" />
<line x1="466.83" y1="275.2" x2="466.83" y2="272.7" stroke="#111" stroke-width="1.1" />
<line x1="469.32" y1="275.2" x2="469.32" y2="272.7" stroke="#111" stroke-width="1.1" />
<line x1="471.43" y1="275.2" x2="471.43" y2="272.7" stroke="#111" stroke-width="1.1" />
<line x1="473.25" y1="275.2" x2="473.25" y2="272.7" stroke="#111" stroke-width="1.1" />
<line x1="474.86" y1="275.2" x2="474.86" y2="272.7" stroke="#111" stroke-width="1.1" />
<text x="444.75" y="291.3" font-size="10.8" font-weight="bold" text-anchor="middle">10<tspan dy="-4.32" font-size="6.48">-2</tspan></text>
<line x1="476.3" y1="275.2" x2="476.3" y2="270.4" stroke="#111" stroke-width="1.1" />
<line x1="485.77" y1="275.2" x2="485.77" y2="272.7" stroke="#111" stroke-width="1.1" />
<line x1="491.31" y1="275.2" x2="491.31" y2="272.7" stroke="#111" stroke-width="1.1" />
<line x1="495.23" y1="275.2" x2="495.23" y2="272.7" stroke="#111" stroke-width="1.1" />
<line x1="498.28" y1="275.2" x2="498.28" y2="272.7" stroke="#111" stroke-width="1.1" />
<line x1="500.77" y1="275.2" x2="500.77" y2="272.7" stroke="#111" stroke-width="1.1" />
<line x1="502.88" y1="275.2" x2="502.88" y2="272.7" stroke="#111" stroke-width="1.1" />
<line x1="504.7" y1="275.2" x2="504.7" y2="272.7" stroke="#111" stroke-width="1.1" />
<line x1="506.31" y1="275.2" x2="506.31" y2="272.7" stroke="#111" stroke-width="1.1" />
<text x="476.2" y="291.3" font-size="10.8" font-weight="bold" text-anchor="middle">10<tspan dy="-4.32" font-size="6.48">-1</tspan></text>
<line x1="507.75" y1="275.2" x2="507.75" y2="270.4" stroke="#111" stroke-width="1.1" />
<line x1="517.22" y1="275.2" x2="517.22" y2="272.7" stroke="#111" stroke-width="1.1" />
<line x1="522.76" y1="275.2" x2="522.76" y2="272.7" stroke="#111" stroke-width="1.1" />
<line x1="526.68" y1="275.2" x2="526.68" y2="272.7" stroke="#111" stroke-width="1.1" />
<line x1="529.73" y1="275.2" x2="529.73" y2="272.7" stroke="#111" stroke-width="1.1" />
<line x1="532.22" y1="275.2" x2="532.22" y2="272.7" stroke="#111" stroke-width="1.1" />
<line x1="534.33" y1="275.2" x2="534.33" y2="272.7" stroke="#111" stroke-width="1.1" />
<line x1="536.15" y1="275.2" x2="536.15" y2="272.7" stroke="#111" stroke-width="1.1" />
<line x1="537.76" y1="275.2" x2="537.76" y2="272.7" stroke="#111" stroke-width="1.1" />
<text x="507.65" y="291.3" font-size="10.8" font-weight="bold" text-anchor="middle">10<tspan dy="-4.32" font-size="6.48">0</tspan></text>
<line x1="539.2" y1="275.2" x2="539.2" y2="270.4" stroke="#111" stroke-width="1.1" />
<line x1="548.67" y1="275.2" x2="548.67" y2="272.7" stroke="#111" stroke-width="1.1" />
<line x1="554.21" y1="275.2" x2="554.21" y2="272.7" stroke="#111" stroke-width="1.1" />
<line x1="558.13" y1="275.2" x2="558.13" y2="272.7" stroke="#111" stroke-width="1.1" />
<line x1="561.18" y1="275.2" x2="561.18" y2="272.7" stroke="#111" stroke-width="1.1" />
<line x1="563.67" y1="275.2" x2="563.67" y2="272.7" stroke="#111" stroke-width="1.1" />
<line x1="565.78" y1="275.2" x2="565.78" y2="272.7" stroke="#111" stroke-width="1.1" />
<line x1="567.6" y1="275.2" x2="567.6" y2="272.7" stroke="#111" stroke-width="1.1" />
<line x1="569.21" y1="275.2" x2="569.21" y2="272.7" stroke="#111" stroke-width="1.1" />
<text x="539.1" y="291.3" font-size="10.8" font-weight="bold" text-anchor="middle">10<tspan dy="-4.32" font-size="6.48">1</tspan></text>
<line x1="570.65" y1="275.2" x2="570.65" y2="270.4" stroke="#111" stroke-width="1.1" />
<line x1="580.12" y1="275.2" x2="580.12" y2="272.7" stroke="#111" stroke-width="1.1" />
<line x1="585.66" y1="275.2" x2="585.66" y2="272.7" stroke="#111" stroke-width="1.1" />
<line x1="589.58" y1="275.2" x2="589.58" y2="272.7" stroke="#111" stroke-width="1.1" />
<line x1="592.63" y1="275.2" x2="592.63" y2="272.7" stroke="#111" stroke-width="1.1" />
<line x1="595.12" y1="275.2" x2="595.12" y2="272.7" stroke="#111" stroke-width="1.1" />
<line x1="597.23" y1="275.2" x2="597.23" y2="272.7" stroke="#111" stroke-width="1.1" />
<line x1="599.05" y1="275.2" x2="599.05" y2="272.7" stroke="#111" stroke-width="1.1" />
<line x1="600.66" y1="275.2" x2="600.66" y2="272.7" stroke="#111" stroke-width="1.1" />
<text x="570.55" y="291.3" font-size="10.8" font-weight="bold" text-anchor="middle">10<tspan dy="-4.32" font-size="6.48">2</tspan></text>
<line x1="602.1" y1="275.2" x2="602.1" y2="270.4" stroke="#111" stroke-width="1.1" />
<line x1="611.57" y1="275.2" x2="611.57" y2="272.7" stroke="#111" stroke-width="1.1" />
<line x1="617.11" y1="275.2" x2="617.11" y2="272.7" stroke="#111" stroke-width="1.1" />
<line x1="621.03" y1="275.2" x2="621.03" y2="272.7" stroke="#111" stroke-width="1.1" />
<line x1="624.08" y1="275.2" x2="624.08" y2="272.7" stroke="#111" stroke-width="1.1" />
<line x1="626.57" y1="275.2" x2="626.57" y2="272.7" stroke="#111" stroke-width="1.1" />
<line x1="628.68" y1="275.2" x2="628.68" y2="272.7" stroke="#111" stroke-width="1.1" />
<line x1="630.5" y1="275.2" x2="630.5" y2="272.7" stroke="#111" stroke-width="1.1" />
<line x1="632.11" y1="275.2" x2="632.11" y2="272.7" stroke="#111" stroke-width="1.1" />
<text x="602" y="291.3" font-size="10.8" font-weight="bold" text-anchor="middle">10<tspan dy="-4.32" font-size="6.48">3</tspan></text>
<line x1="633.55" y1="275.2" x2="633.55" y2="270.4" stroke="#111" stroke-width="1.1" />
<line x1="643.02" y1="275.2" x2="643.02" y2="272.7" stroke="#111" stroke-width="1.1" />
<line x1="648.56" y1="275.2" x2="648.56" y2="272.7" stroke="#111" stroke-width="1.1" />
<line x1="652.48" y1="275.2" x2="652.48" y2="272.7" stroke="#111" stroke-width="1.1" />
<line x1="655.53" y1="275.2" x2="655.53" y2="272.7" stroke="#111" stroke-width="1.1" />
<line x1="658.02" y1="275.2" x2="658.02" y2="272.7" stroke="#111" stroke-width="1.1" />
<line x1="660.13" y1="275.2" x2="660.13" y2="272.7" stroke="#111" stroke-width="1.1" />
<line x1="661.95" y1="275.2" x2="661.95" y2="272.7" stroke="#111" stroke-width="1.1" />
<line x1="663.56" y1="275.2" x2="663.56" y2="272.7" stroke="#111" stroke-width="1.1" />
<text x="633.45" y="291.3" font-size="10.8" font-weight="bold" text-anchor="middle">10<tspan dy="-4.32" font-size="6.48">4</tspan></text>
<line x1="665" y1="275.2" x2="665" y2="270.4" stroke="#111" stroke-width="1.1" />
<line x1="674.47" y1="275.2" x2="674.47" y2="272.7" stroke="#111" stroke-width="1.1" />
<line x1="680.01" y1="275.2" x2="680.01" y2="272.7" stroke="#111" stroke-width="1.1" />
<text x="664.9" y="291.3" font-size="10.8" font-weight="bold" text-anchor="middle">10<tspan dy="-4.32" font-size="6.48">5</tspan></text>
<line x1="413.4" y1="137.04" x2="415.8" y2="137.04" stroke="#111" stroke-width="1.1" />
<line x1="413.4" y1="133.17" x2="415.8" y2="133.17" stroke="#111" stroke-width="1.1" />
<line x1="413.4" y1="129.3" x2="418.1" y2="129.3" stroke="#111" stroke-width="1.1" />
<text x="407.9" y="132.77" font-size="10.2" font-weight="bold" text-anchor="end" fill="#000" >0</text>
<line x1="413.4" y1="125.43" x2="415.8" y2="125.43" stroke="#111" stroke-width="1.1" />
<line x1="413.4" y1="121.56" x2="415.8" y2="121.56" stroke="#111" stroke-width="1.1" />
<line x1="413.4" y1="117.69" x2="415.8" y2="117.69" stroke="#111" stroke-width="1.1" />
<line x1="413.4" y1="113.82" x2="415.8" y2="113.82" stroke="#111" stroke-width="1.1" />
<line x1="413.4" y1="109.95" x2="418.1" y2="109.95" stroke="#111" stroke-width="1.1" />
<text x="407.9" y="113.42" font-size="10.2" font-weight="bold" text-anchor="end" fill="#000" >10</text>
<line x1="413.4" y1="106.08" x2="415.8" y2="106.08" stroke="#111" stroke-width="1.1" />
<line x1="413.4" y1="102.21" x2="415.8" y2="102.21" stroke="#111" stroke-width="1.1" />
<line x1="413.4" y1="98.34" x2="415.8" y2="98.34" stroke="#111" stroke-width="1.1" />
<line x1="413.4" y1="94.47" x2="415.8" y2="94.47" stroke="#111" stroke-width="1.1" />
<line x1="413.4" y1="90.6" x2="418.1" y2="90.6" stroke="#111" stroke-width="1.1" />
<text x="407.9" y="94.07" font-size="10.2" font-weight="bold" text-anchor="end" fill="#000" >20</text>
<line x1="413.4" y1="86.73" x2="415.8" y2="86.73" stroke="#111" stroke-width="1.1" />
<line x1="413.4" y1="82.86" x2="415.8" y2="82.86" stroke="#111" stroke-width="1.1" />
<line x1="413.4" y1="78.99" x2="415.8" y2="78.99" stroke="#111" stroke-width="1.1" />
<line x1="413.4" y1="75.12" x2="415.8" y2="75.12" stroke="#111" stroke-width="1.1" />
<line x1="413.4" y1="71.25" x2="418.1" y2="71.25" stroke="#111" stroke-width="1.1" />
<text x="407.9" y="74.72" font-size="10.2" font-weight="bold" text-anchor="end" fill="#000" >30</text>
<line x1="413.4" y1="67.38" x2="415.8" y2="67.38" stroke="#111" stroke-width="1.1" />
<line x1="413.4" y1="63.51" x2="415.8" y2="63.51" stroke="#111" stroke-width="1.1" />
<line x1="413.4" y1="59.64" x2="415.8" y2="59.64" stroke="#111" stroke-width="1.1" />
<line x1="413.4" y1="55.77" x2="415.8" y2="55.77" stroke="#111" stroke-width="1.1" />
<line x1="413.4" y1="51.9" x2="418.1" y2="51.9" stroke="#111" stroke-width="1.1" />
<text x="407.9" y="55.37" font-size="10.2" font-weight="bold" text-anchor="end" fill="#000" >40</text>
<line x1="413.4" y1="48.03" x2="415.8" y2="48.03" stroke="#111" stroke-width="1.1" />
<line x1="413.4" y1="44.16" x2="415.8" y2="44.16" stroke="#111" stroke-width="1.1" />
<line x1="413.4" y1="40.29" x2="415.8" y2="40.29" stroke="#111" stroke-width="1.1" />
<line x1="413.4" y1="36.42" x2="415.8" y2="36.42" stroke="#111" stroke-width="1.1" />
<line x1="413.4" y1="32.55" x2="418.1" y2="32.55" stroke="#111" stroke-width="1.1" />
<text x="407.9" y="36.02" font-size="10.2" font-weight="bold" text-anchor="end" fill="#000" >50</text>
<line x1="413.4" y1="28.68" x2="415.8" y2="28.68" stroke="#111" stroke-width="1.1" />
<line x1="413.4" y1="24.81" x2="415.8" y2="24.81" stroke="#111" stroke-width="1.1" />
<line x1="413.4" y1="20.94" x2="415.8" y2="20.94" stroke="#111" stroke-width="1.1" />
<line x1="413.4" y1="17.07" x2="415.8" y2="17.07" stroke="#111" stroke-width="1.1" />
<line x1="413.4" y1="13.2" x2="418.1" y2="13.2" stroke="#111" stroke-width="1.1" />
<text x="407.9" y="16.67" font-size="10.2" font-weight="bold" text-anchor="end" fill="#000" >60</text>
<line x1="413.4" y1="9.33" x2="415.8" y2="9.33" stroke="#111" stroke-width="1.1" />
<line x1="413.4" y1="270.2" x2="418.1" y2="270.2" stroke="#111" stroke-width="1.1" />
<text x="407.9" y="273.67" font-size="10.2" font-weight="bold" text-anchor="end" fill="#000" >0</text>
<line x1="413.4" y1="264.78" x2="415.8" y2="264.78" stroke="#111" stroke-width="1.1" />
<line x1="413.4" y1="259.36" x2="415.8" y2="259.36" stroke="#111" stroke-width="1.1" />
<line x1="413.4" y1="253.94" x2="415.8" y2="253.94" stroke="#111" stroke-width="1.1" />
<line x1="413.4" y1="248.52" x2="415.8" y2="248.52" stroke="#111" stroke-width="1.1" />
<line x1="413.4" y1="243.1" x2="418.1" y2="243.1" stroke="#111" stroke-width="1.1" />
<text x="407.9" y="246.57" font-size="10.2" font-weight="bold" text-anchor="end" fill="#000" >400</text>
<line x1="413.4" y1="237.68" x2="415.8" y2="237.68" stroke="#111" stroke-width="1.1" />
<line x1="413.4" y1="232.26" x2="415.8" y2="232.26" stroke="#111" stroke-width="1.1" />
<line x1="413.4" y1="226.84" x2="415.8" y2="226.84" stroke="#111" stroke-width="1.1" />
<line x1="413.4" y1="221.42" x2="415.8" y2="221.42" stroke="#111" stroke-width="1.1" />
<line x1="413.4" y1="216" x2="418.1" y2="216" stroke="#111" stroke-width="1.1" />
<text x="407.9" y="219.47" font-size="10.2" font-weight="bold" text-anchor="end" fill="#000" >800</text>
<line x1="413.4" y1="210.58" x2="415.8" y2="210.58" stroke="#111" stroke-width="1.1" />
<line x1="413.4" y1="205.16" x2="415.8" y2="205.16" stroke="#111" stroke-width="1.1" />
<line x1="413.4" y1="199.74" x2="415.8" y2="199.74" stroke="#111" stroke-width="1.1" />
<line x1="413.4" y1="194.32" x2="415.8" y2="194.32" stroke="#111" stroke-width="1.1" />
<line x1="413.4" y1="188.9" x2="418.1" y2="188.9" stroke="#111" stroke-width="1.1" />
<text x="407.9" y="192.37" font-size="10.2" font-weight="bold" text-anchor="end" fill="#000" >1200</text>
<line x1="413.4" y1="183.48" x2="415.8" y2="183.48" stroke="#111" stroke-width="1.1" />
<line x1="413.4" y1="178.06" x2="415.8" y2="178.06" stroke="#111" stroke-width="1.1" />
<line x1="413.4" y1="172.64" x2="415.8" y2="172.64" stroke="#111" stroke-width="1.1" />
<line x1="413.4" y1="167.22" x2="415.8" y2="167.22" stroke="#111" stroke-width="1.1" />
<line x1="413.4" y1="161.8" x2="418.1" y2="161.8" stroke="#111" stroke-width="1.1" />
<text x="407.9" y="165.27" font-size="10.2" font-weight="bold" text-anchor="end" fill="#000" >1600</text>
<line x1="413.4" y1="156.38" x2="415.8" y2="156.38" stroke="#111" stroke-width="1.1" />
<line x1="413.4" y1="150.96" x2="415.8" y2="150.96" stroke="#111" stroke-width="1.1" />
<line x1="413.4" y1="145.54" x2="415.8" y2="145.54" stroke="#111" stroke-width="1.1" />
<rect x="413.4" y="6.3" width="269.7" height="268.9" fill="none" stroke="#333333" stroke-width="1.3"/>
<line x1="413.4" y1="140.2" x2="683.1" y2="140.2" stroke="#333333" stroke-width="1.3" />
<text x="389.3" y="73.4" font-size="13" font-weight="bold" text-anchor="middle" fill="#000" transform="rotate(-90 389.3 73.4)" >Phase / °</text>
<text x="382.8" y="207.7" font-size="12.9" font-weight="bold" text-anchor="middle" transform="rotate(-90 382.8 207.7)">|Z| / Ω cm<tspan dy="-5.3" font-size="8.2">2</tspan></text>
<text x="548.5" y="309.8" font-size="13" font-weight="bold" text-anchor="middle" fill="#000" >Frequency / Hz</text>
<text x="364.6" y="14.7" font-size="18.5" font-weight="bold" fill="#000" >(b)</text>
<rect x="413.2" y="324.9" width="269.4" height="134.1" fill="url(#gPh)"/>
<rect x="413.2" y="459" width="269.4" height="134" fill="url(#gZ)"/>
<polyline points="435.18,377.18 442.95,368.47 450.72,355.47 458.49,342.71 466.24,336.81 473.68,339.82 480.83,349.06 487.67,363.1 494.21,377.6 500.45,391.64 506.52,404.82 512.6,414.77 518.39,423.75 523.85,428.63 529.15,432.56 534.28,436 539.25,438.06 544.04,439.85 548.71,441.36 553.33,442.55 557.91,443.47 562.44,444.18 566.92,444.72 571.36,445.28 575.75,445.92 580,446.53 584.08,447.06 587.98,447.45 591.73,447.8 595.31,448.12 598.75,448.39 602.04,448.6 605.2,448.74 608.33,448.8 611.47,448.84 614.61,448.86 617.75,448.88 620.88,448.9 624.02,448.9 627.16,448.83 630.29,448.62 633.43,448.32 636.57,447.96 639.7,447.58 642.84,447.19 645.98,446.73 649.12,446.19 652.25,445.55 655.39,444.81 658.53,443.9 661.66,442.63 664.8,441.15" fill="none" stroke="#e8645d" stroke-width="1" stroke-linejoin="round" />
<circle cx="435.18" cy="377.18" r="2.6" fill="#e8645d"/>
<circle cx="442.95" cy="368.47" r="2.6" fill="#e8645d"/>
<circle cx="450.72" cy="355.47" r="2.6" fill="#e8645d"/>
<circle cx="458.49" cy="342.71" r="2.6" fill="#e8645d"/>
<circle cx="466.24" cy="336.81" r="2.6" fill="#e8645d"/>
<circle cx="473.68" cy="339.82" r="2.6" fill="#e8645d"/>
<circle cx="480.83" cy="349.06" r="2.6" fill="#e8645d"/>
<circle cx="487.67" cy="363.1" r="2.6" fill="#e8645d"/>
<circle cx="494.21" cy="377.6" r="2.6" fill="#e8645d"/>
<circle cx="500.45" cy="391.64" r="2.6" fill="#e8645d"/>
<circle cx="506.52" cy="404.82" r="2.6" fill="#e8645d"/>
<circle cx="512.6" cy="414.77" r="2.6" fill="#e8645d"/>
<circle cx="518.39" cy="423.75" r="2.6" fill="#e8645d"/>
<circle cx="523.85" cy="428.63" r="2.6" fill="#e8645d"/>
<circle cx="529.15" cy="432.56" r="2.6" fill="#e8645d"/>
<circle cx="534.28" cy="436" r="2.6" fill="#e8645d"/>
<circle cx="539.25" cy="438.06" r="2.6" fill="#e8645d"/>
<circle cx="544.04" cy="439.85" r="2.6" fill="#e8645d"/>
<circle cx="548.71" cy="441.36" r="2.6" fill="#e8645d"/>
<circle cx="553.33" cy="442.55" r="2.6" fill="#e8645d"/>
<circle cx="557.91" cy="443.47" r="2.6" fill="#e8645d"/>
<circle cx="562.44" cy="444.18" r="2.6" fill="#e8645d"/>
<circle cx="566.92" cy="444.72" r="2.6" fill="#e8645d"/>
<circle cx="571.36" cy="445.28" r="2.6" fill="#e8645d"/>
<circle cx="575.75" cy="445.92" r="2.6" fill="#e8645d"/>
<circle cx="580" cy="446.53" r="2.6" fill="#e8645d"/>
<circle cx="584.08" cy="447.06" r="2.6" fill="#e8645d"/>
<circle cx="587.98" cy="447.45" r="2.6" fill="#e8645d"/>
<circle cx="591.73" cy="447.8" r="2.6" fill="#e8645d"/>
<circle cx="595.31" cy="448.12" r="2.6" fill="#e8645d"/>
<circle cx="598.75" cy="448.39" r="2.6" fill="#e8645d"/>
<circle cx="602.04" cy="448.6" r="2.6" fill="#e8645d"/>
<circle cx="605.2" cy="448.74" r="2.6" fill="#e8645d"/>
<circle cx="608.33" cy="448.8" r="2.6" fill="#e8645d"/>
<circle cx="611.47" cy="448.84" r="2.6" fill="#e8645d"/>
<circle cx="614.61" cy="448.86" r="2.6" fill="#e8645d"/>
<circle cx="617.75" cy="448.88" r="2.6" fill="#e8645d"/>
<circle cx="620.88" cy="448.9" r="2.6" fill="#e8645d"/>
<circle cx="624.02" cy="448.9" r="2.6" fill="#e8645d"/>
<circle cx="627.16" cy="448.83" r="2.6" fill="#e8645d"/>
<circle cx="630.29" cy="448.62" r="2.6" fill="#e8645d"/>
<circle cx="633.43" cy="448.32" r="2.6" fill="#e8645d"/>
<circle cx="636.57" cy="447.96" r="2.6" fill="#e8645d"/>
<circle cx="639.7" cy="447.58" r="2.6" fill="#e8645d"/>
<circle cx="642.84" cy="447.19" r="2.6" fill="#e8645d"/>
<circle cx="645.98" cy="446.73" r="2.6" fill="#e8645d"/>
<circle cx="649.12" cy="446.19" r="2.6" fill="#e8645d"/>
<circle cx="652.25" cy="445.55" r="2.6" fill="#e8645d"/>
<circle cx="655.39" cy="444.81" r="2.6" fill="#e8645d"/>
<circle cx="658.53" cy="443.9" r="2.6" fill="#e8645d"/>
<circle cx="661.66" cy="442.63" r="2.6" fill="#e8645d"/>
<circle cx="664.8" cy="441.15" r="2.6" fill="#e8645d"/>
<polyline points="435.18,380.18 442.95,367.68 450.72,355.13 458.49,344.3 466.24,346.16 473.68,356.18 480.83,367.9 487.67,380.1 494.21,389.78 500.45,397.86 506.52,406.26 512.6,414.32 518.39,421.59 523.85,427.28 529.15,431.59 534.28,434.81 539.25,436.98 544.04,438.89 548.71,440.57 553.33,441.89 557.91,442.91 562.44,443.72 566.92,444.37 571.36,445 575.75,445.67 580,446.31 584.08,446.85 587.98,447.26 591.73,447.63 595.31,447.97 598.75,448.26 602.04,448.48 605.2,448.63 608.33,448.7 611.47,448.74 614.61,448.76 617.75,448.78 620.88,448.8 624.02,448.8 627.16,448.73 630.29,448.51 633.43,448.19 636.57,447.8 639.7,447.39 642.84,446.95 645.98,446.41 649.12,445.76 652.25,445.01 655.39,444.15 658.53,443.14 661.66,441.79 664.8,440.25" fill="none" stroke="#c99f2c" stroke-width="1" stroke-linejoin="round" />
<polygon points="435.18,377.75 432.58,382.17 437.78,382.17" fill="#c99f2c"/>
<polygon points="442.95,365.25 440.35,369.67 445.55,369.67" fill="#c99f2c"/>
<polygon points="450.72,352.69 448.12,357.11 453.32,357.11" fill="#c99f2c"/>
<polygon points="458.49,341.87 455.89,346.29 461.09,346.29" fill="#c99f2c"/>
<polygon points="466.24,343.73 463.64,348.15 468.84,348.15" fill="#c99f2c"/>
<polygon points="473.68,353.75 471.08,358.17 476.28,358.17" fill="#c99f2c"/>
<polygon points="480.83,365.47 478.23,369.89 483.43,369.89" fill="#c99f2c"/>
<polygon points="487.67,377.67 485.07,382.09 490.27,382.09" fill="#c99f2c"/>
<polygon points="494.21,387.35 491.61,391.77 496.81,391.77" fill="#c99f2c"/>
<polygon points="500.45,395.43 497.85,399.85 503.05,399.85" fill="#c99f2c"/>
<polygon points="506.52,403.83 503.92,408.25 509.12,408.25" fill="#c99f2c"/>
<polygon points="512.6,411.89 510,416.31 515.2,416.31" fill="#c99f2c"/>
<polygon points="518.39,419.16 515.79,423.58 520.99,423.58" fill="#c99f2c"/>
<polygon points="523.85,424.85 521.25,429.27 526.45,429.27" fill="#c99f2c"/>
<polygon points="529.15,429.16 526.55,433.58 531.75,433.58" fill="#c99f2c"/>
<polygon points="534.28,432.38 531.68,436.8 536.88,436.8" fill="#c99f2c"/>
<polygon points="539.25,434.55 536.65,438.97 541.85,438.97" fill="#c99f2c"/>
<polygon points="544.04,436.46 541.44,440.88 546.64,440.88" fill="#c99f2c"/>
<polygon points="548.71,438.14 546.11,442.56 551.31,442.56" fill="#c99f2c"/>
<polygon points="553.33,439.46 550.73,443.88 555.93,443.88" fill="#c99f2c"/>
<polygon points="557.91,440.48 555.31,444.9 560.51,444.9" fill="#c99f2c"/>
<polygon points="562.44,441.29 559.84,445.71 565.04,445.71" fill="#c99f2c"/>
<polygon points="566.92,441.94 564.32,446.36 569.52,446.36" fill="#c99f2c"/>
<polygon points="571.36,442.57 568.76,446.99 573.96,446.99" fill="#c99f2c"/>
<polygon points="575.75,443.24 573.15,447.66 578.35,447.66" fill="#c99f2c"/>
<polygon points="580,443.88 577.4,448.3 582.6,448.3" fill="#c99f2c"/>
<polygon points="584.08,444.42 581.48,448.84 586.68,448.84" fill="#c99f2c"/>
<polygon points="587.98,444.83 585.38,449.25 590.58,449.25" fill="#c99f2c"/>
<polygon points="591.73,445.2 589.13,449.62 594.33,449.62" fill="#c99f2c"/>
<polygon points="595.31,445.54 592.71,449.96 597.91,449.96" fill="#c99f2c"/>
<polygon points="598.75,445.83 596.15,450.25 601.35,450.25" fill="#c99f2c"/>
<polygon points="602.04,446.05 599.44,450.47 604.64,450.47" fill="#c99f2c"/>
<polygon points="605.2,446.2 602.6,450.62 607.8,450.62" fill="#c99f2c"/>
<polygon points="608.33,446.27 605.73,450.69 610.93,450.69" fill="#c99f2c"/>
<polygon points="611.47,446.3 608.87,450.72 614.07,450.72" fill="#c99f2c"/>
<polygon points="614.61,446.33 612.01,450.75 617.21,450.75" fill="#c99f2c"/>
<polygon points="617.75,446.35 615.15,450.77 620.35,450.77" fill="#c99f2c"/>
<polygon points="620.88,446.36 618.28,450.78 623.48,450.78" fill="#c99f2c"/>
<polygon points="624.02,446.37 621.42,450.79 626.62,450.79" fill="#c99f2c"/>
<polygon points="627.16,446.29 624.56,450.71 629.76,450.71" fill="#c99f2c"/>
<polygon points="630.29,446.08 627.69,450.5 632.89,450.5" fill="#c99f2c"/>
<polygon points="633.43,445.76 630.83,450.18 636.03,450.18" fill="#c99f2c"/>
<polygon points="636.57,445.37 633.97,449.79 639.17,449.79" fill="#c99f2c"/>
<polygon points="639.7,444.96 637.1,449.38 642.3,449.38" fill="#c99f2c"/>
<polygon points="642.84,444.52 640.24,448.94 645.44,448.94" fill="#c99f2c"/>
<polygon points="645.98,443.98 643.38,448.4 648.58,448.4" fill="#c99f2c"/>
<polygon points="649.12,443.33 646.52,447.75 651.72,447.75" fill="#c99f2c"/>
<polygon points="652.25,442.58 649.65,447 654.85,447" fill="#c99f2c"/>
<polygon points="655.39,441.72 652.79,446.14 657.99,446.14" fill="#c99f2c"/>
<polygon points="658.53,440.71 655.93,445.13 661.13,445.13" fill="#c99f2c"/>
<polygon points="661.66,439.36 659.06,443.78 664.26,443.78" fill="#c99f2c"/>
<polygon points="664.8,437.82 662.2,442.24 667.4,442.24" fill="#c99f2c"/>
<polyline points="435.18,343 438.79,343 442.4,343.61 446.01,345.68 449.62,349.62 453.23,353.23 456.84,357.83 460.45,363.33 464.05,368.85 467.66,373.52 471.27,376.78 474.88,378.97 478.49,380.76 482.1,382.41 485.71,383.62 489.32,384.6 492.93,385.87 496.53,387.94 500.14,391.62 503.75,397.05 506.91,402 510.07,406.71 513.23,411.48 516.38,415.8 519.54,419.73 522.7,423.31 525.86,426.61 529.01,429.37 532.17,431.62 535.33,433.38 538.49,434.85 541.65,436.19 544.8,437.4 547.96,438.55 551.12,439.64 554.28,440.59 557.43,441.34 560.59,441.98 563.75,442.56 566.91,443.09 570.07,443.61 573.22,444.2 576.38,444.84 579.54,445.47 582.7,446.05 585.85,446.53 589.01,446.92 592.17,447.31 595.33,447.68 598.49,448 601.64,448.26 604.8,448.44 607.96,448.5 611.12,448.49 614.28,448.47 617.43,448.43 620.59,448.38 623.75,448.31 626.91,448.13 630.06,447.72 633.22,447.13 636.38,446.43 639.54,445.7 642.7,444.95 645.85,444.11 649.01,443.14 652.17,441.99 655.33,440.62 658.48,438.85 661.64,436.23 664.8,433.24" fill="none" stroke="#cc66f0" stroke-width="1" stroke-linejoin="round" />
<polygon points="435.18,345.65 432.58,341.23 437.78,341.23" fill="#cc66f0"/>
<polygon points="438.79,345.65 436.19,341.23 441.39,341.23" fill="#cc66f0"/>
<polygon points="442.4,346.26 439.8,341.84 445,341.84" fill="#cc66f0"/>
<polygon points="446.01,348.33 443.41,343.91 448.61,343.91" fill="#cc66f0"/>
<polygon points="449.62,352.27 447.02,347.85 452.22,347.85" fill="#cc66f0"/>
<polygon points="453.23,355.89 450.63,351.47 455.83,351.47" fill="#cc66f0"/>
<polygon points="456.84,360.49 454.24,356.07 459.44,356.07" fill="#cc66f0"/>
<polygon points="460.45,365.98 457.85,361.56 463.05,361.56" fill="#cc66f0"/>
<polygon points="464.05,371.51 461.45,367.09 466.65,367.09" fill="#cc66f0"/>
<polygon points="467.66,376.17 465.06,371.75 470.26,371.75" fill="#cc66f0"/>
<polygon points="471.27,379.43 468.67,375.01 473.87,375.01" fill="#cc66f0"/>
<polygon points="474.88,381.62 472.28,377.2 477.48,377.2" fill="#cc66f0"/>
<polygon points="478.49,383.41 475.89,378.99 481.09,378.99" fill="#cc66f0"/>
<polygon points="482.1,385.06 479.5,380.64 484.7,380.64" fill="#cc66f0"/>
<polygon points="485.71,386.28 483.11,381.86 488.31,381.86" fill="#cc66f0"/>
<polygon points="489.32,387.25 486.72,382.83 491.92,382.83" fill="#cc66f0"/>
<polygon points="492.93,388.52 490.33,384.1 495.53,384.1" fill="#cc66f0"/>
<polygon points="496.53,390.59 493.93,386.17 499.13,386.17" fill="#cc66f0"/>
<polygon points="500.14,394.27 497.54,389.85 502.74,389.85" fill="#cc66f0"/>
<polygon points="503.75,399.7 501.15,395.28 506.35,395.28" fill="#cc66f0"/>
<polygon points="506.91,404.65 504.31,400.23 509.51,400.23" fill="#cc66f0"/>
<polygon points="510.07,409.36 507.47,404.94 512.67,404.94" fill="#cc66f0"/>
<polygon points="513.23,414.13 510.63,409.71 515.83,409.71" fill="#cc66f0"/>
<polygon points="516.38,418.45 513.78,414.03 518.98,414.03" fill="#cc66f0"/>
<polygon points="519.54,422.38 516.94,417.96 522.14,417.96" fill="#cc66f0"/>
<polygon points="522.7,425.96 520.1,421.54 525.3,421.54" fill="#cc66f0"/>
<polygon points="525.86,429.26 523.26,424.84 528.46,424.84" fill="#cc66f0"/>
<polygon points="529.01,432.02 526.41,427.6 531.61,427.6" fill="#cc66f0"/>
<polygon points="532.17,434.27 529.57,429.85 534.77,429.85" fill="#cc66f0"/>
<polygon points="535.33,436.03 532.73,431.61 537.93,431.61" fill="#cc66f0"/>
<polygon points="538.49,437.5 535.89,433.08 541.09,433.08" fill="#cc66f0"/>
<polygon points="541.65,438.84 539.05,434.42 544.25,434.42" fill="#cc66f0"/>
<polygon points="544.8,440.05 542.2,435.63 547.4,435.63" fill="#cc66f0"/>
<polygon points="547.96,441.2 545.36,436.78 550.56,436.78" fill="#cc66f0"/>
<polygon points="551.12,442.29 548.52,437.87 553.72,437.87" fill="#cc66f0"/>
<polygon points="554.28,443.24 551.68,438.82 556.88,438.82" fill="#cc66f0"/>
<polygon points="557.43,443.99 554.83,439.57 560.03,439.57" fill="#cc66f0"/>
<polygon points="560.59,444.63 557.99,440.21 563.19,440.21" fill="#cc66f0"/>
<polygon points="563.75,445.22 561.15,440.8 566.35,440.8" fill="#cc66f0"/>
<polygon points="566.91,445.74 564.31,441.32 569.51,441.32" fill="#cc66f0"/>
<polygon points="570.07,446.26 567.47,441.84 572.67,441.84" fill="#cc66f0"/>
<polygon points="573.22,446.85 570.62,442.43 575.82,442.43" fill="#cc66f0"/>
<polygon points="576.38,447.49 573.78,443.07 578.98,443.07" fill="#cc66f0"/>
<polygon points="579.54,448.13 576.94,443.71 582.14,443.71" fill="#cc66f0"/>
<polygon points="582.7,448.71 580.1,444.29 585.3,444.29" fill="#cc66f0"/>
<polygon points="585.85,449.18 583.25,444.76 588.45,444.76" fill="#cc66f0"/>
<polygon points="589.01,449.57 586.41,445.15 591.61,445.15" fill="#cc66f0"/>
<polygon points="592.17,449.96 589.57,445.54 594.77,445.54" fill="#cc66f0"/>
<polygon points="595.33,450.33 592.73,445.91 597.93,445.91" fill="#cc66f0"/>
<polygon points="598.49,450.65 595.89,446.23 601.09,446.23" fill="#cc66f0"/>
<polygon points="601.64,450.91 599.04,446.49 604.24,446.49" fill="#cc66f0"/>
<polygon points="604.8,451.09 602.2,446.67 607.4,446.67" fill="#cc66f0"/>
<polygon points="607.96,451.15 605.36,446.73 610.56,446.73" fill="#cc66f0"/>
<polygon points="611.12,451.14 608.52,446.72 613.72,446.72" fill="#cc66f0"/>
<polygon points="614.28,451.12 611.68,446.7 616.88,446.7" fill="#cc66f0"/>
<polygon points="617.43,451.08 614.83,446.66 620.03,446.66" fill="#cc66f0"/>
<polygon points="620.59,451.03 617.99,446.61 623.19,446.61" fill="#cc66f0"/>
<polygon points="623.75,450.96 621.15,446.54 626.35,446.54" fill="#cc66f0"/>
<polygon points="626.91,450.79 624.31,446.37 629.51,446.37" fill="#cc66f0"/>
<polygon points="630.06,450.37 627.46,445.95 632.66,445.95" fill="#cc66f0"/>
<polygon points="633.22,449.78 630.62,445.36 635.82,445.36" fill="#cc66f0"/>
<polygon points="636.38,449.09 633.78,444.67 638.98,444.67" fill="#cc66f0"/>
<polygon points="639.54,448.35 636.94,443.93 642.14,443.93" fill="#cc66f0"/>
<polygon points="642.7,447.61 640.1,443.19 645.3,443.19" fill="#cc66f0"/>
<polygon points="645.85,446.77 643.25,442.35 648.45,442.35" fill="#cc66f0"/>
<polygon points="649.01,445.79 646.41,441.37 651.61,441.37" fill="#cc66f0"/>
<polygon points="652.17,444.64 649.57,440.22 654.77,440.22" fill="#cc66f0"/>
<polygon points="655.33,443.27 652.73,438.85 657.93,438.85" fill="#cc66f0"/>
<polygon points="658.48,441.5 655.88,437.08 661.08,437.08" fill="#cc66f0"/>
<polygon points="661.64,438.88 659.04,434.46 664.24,434.46" fill="#cc66f0"/>
<polygon points="664.8,435.89 662.2,431.47 667.4,431.47" fill="#cc66f0"/>
<polyline points="435.18,343.55 438.79,344.8 442.4,347.33 446.01,350.88 449.62,354.62 453.23,358.17 456.84,362.19 460.45,366.44 464.05,370.33 467.66,373.21 471.27,374.52 474.88,374.89 478.49,375.35 482.1,375.86 485.71,376.43 489.32,377.34 492.93,378.87 496.53,380.77 500.14,384.8 503.75,390.32 506.91,395.04 510.07,399.39 513.23,404.7 516.38,409.89 519.54,414.1 522.7,418.27 525.86,422.44 529.01,426.17 532.17,429.24 535.33,431.55 538.49,433.43 541.65,435.01 544.8,436.28 547.96,437.33 551.12,438.39 554.28,439.57 557.43,440.65 560.59,441.51 563.75,442.25 566.91,442.91 570.07,443.51 573.22,444.18 576.38,444.89 579.54,445.59 582.7,446.22 585.85,446.73 589.01,447.13 592.17,447.52 595.33,447.89 598.49,448.21 601.64,448.47 604.8,448.64 607.96,448.7 611.12,448.7 614.28,448.7 617.43,448.7 620.59,448.7 623.75,448.7 626.91,448.57 630.06,448.15 633.22,447.54 636.38,446.84 639.54,446.17 642.7,445.57 645.85,444.98 649.01,444.36 652.17,443.66 655.33,442.86 658.48,441.88 661.64,440.6 664.8,439.15" fill="none" stroke="#6a9f48" stroke-width="1" stroke-linejoin="round" />
<polygon points="435.18,340.82 437.91,343.55 435.18,346.28 432.45,343.55" fill="#6a9f48"/>
<polygon points="438.79,342.07 441.52,344.8 438.79,347.53 436.06,344.8" fill="#6a9f48"/>
<polygon points="442.4,344.6 445.13,347.33 442.4,350.06 439.67,347.33" fill="#6a9f48"/>
<polygon points="446.01,348.15 448.74,350.88 446.01,353.61 443.28,350.88" fill="#6a9f48"/>
<polygon points="449.62,351.89 452.35,354.62 449.62,357.35 446.89,354.62" fill="#6a9f48"/>
<polygon points="453.23,355.44 455.96,358.17 453.23,360.9 450.5,358.17" fill="#6a9f48"/>
<polygon points="456.84,359.46 459.57,362.19 456.84,364.92 454.11,362.19" fill="#6a9f48"/>
<polygon points="460.45,363.71 463.18,366.44 460.45,369.17 457.72,366.44" fill="#6a9f48"/>
<polygon points="464.05,367.6 466.78,370.33 464.05,373.06 461.32,370.33" fill="#6a9f48"/>
<polygon points="467.66,370.48 470.39,373.21 467.66,375.94 464.93,373.21" fill="#6a9f48"/>
<polygon points="471.27,371.79 474,374.52 471.27,377.25 468.54,374.52" fill="#6a9f48"/>
<polygon points="474.88,372.16 477.61,374.89 474.88,377.62 472.15,374.89" fill="#6a9f48"/>
<polygon points="478.49,372.62 481.22,375.35 478.49,378.08 475.76,375.35" fill="#6a9f48"/>
<polygon points="482.1,373.13 484.83,375.86 482.1,378.59 479.37,375.86" fill="#6a9f48"/>
<polygon points="485.71,373.7 488.44,376.43 485.71,379.16 482.98,376.43" fill="#6a9f48"/>
<polygon points="489.32,374.61 492.05,377.34 489.32,380.07 486.59,377.34" fill="#6a9f48"/>
<polygon points="492.93,376.14 495.66,378.87 492.93,381.6 490.2,378.87" fill="#6a9f48"/>
<polygon points="496.53,378.04 499.26,380.77 496.53,383.5 493.8,380.77" fill="#6a9f48"/>
<polygon points="500.14,382.07 502.87,384.8 500.14,387.53 497.41,384.8" fill="#6a9f48"/>
<polygon points="503.75,387.59 506.48,390.32 503.75,393.05 501.02,390.32" fill="#6a9f48"/>
<polygon points="506.91,392.31 509.64,395.04 506.91,397.77 504.18,395.04" fill="#6a9f48"/>
<polygon points="510.07,396.66 512.8,399.39 510.07,402.12 507.34,399.39" fill="#6a9f48"/>
<polygon points="513.23,401.97 515.96,404.7 513.23,407.43 510.5,404.7" fill="#6a9f48"/>
<polygon points="516.38,407.16 519.11,409.89 516.38,412.62 513.65,409.89" fill="#6a9f48"/>
<polygon points="519.54,411.37 522.27,414.1 519.54,416.83 516.81,414.1" fill="#6a9f48"/>
<polygon points="522.7,415.54 525.43,418.27 522.7,421 519.97,418.27" fill="#6a9f48"/>
<polygon points="525.86,419.71 528.59,422.44 525.86,425.17 523.13,422.44" fill="#6a9f48"/>
<polygon points="529.01,423.44 531.74,426.17 529.01,428.9 526.28,426.17" fill="#6a9f48"/>
<polygon points="532.17,426.51 534.9,429.24 532.17,431.97 529.44,429.24" fill="#6a9f48"/>
<polygon points="535.33,428.82 538.06,431.55 535.33,434.28 532.6,431.55" fill="#6a9f48"/>
<polygon points="538.49,430.7 541.22,433.43 538.49,436.16 535.76,433.43" fill="#6a9f48"/>
<polygon points="541.65,432.28 544.38,435.01 541.65,437.74 538.92,435.01" fill="#6a9f48"/>
<polygon points="544.8,433.55 547.53,436.28 544.8,439.01 542.07,436.28" fill="#6a9f48"/>
<polygon points="547.96,434.6 550.69,437.33 547.96,440.06 545.23,437.33" fill="#6a9f48"/>
<polygon points="551.12,435.66 553.85,438.39 551.12,441.12 548.39,438.39" fill="#6a9f48"/>
<polygon points="554.28,436.84 557.01,439.57 554.28,442.3 551.55,439.57" fill="#6a9f48"/>
<polygon points="557.43,437.92 560.16,440.65 557.43,443.38 554.7,440.65" fill="#6a9f48"/>
<polygon points="560.59,438.78 563.32,441.51 560.59,444.24 557.86,441.51" fill="#6a9f48"/>
<polygon points="563.75,439.52 566.48,442.25 563.75,444.98 561.02,442.25" fill="#6a9f48"/>
<polygon points="566.91,440.18 569.64,442.91 566.91,445.64 564.18,442.91" fill="#6a9f48"/>
<polygon points="570.07,440.78 572.8,443.51 570.07,446.24 567.34,443.51" fill="#6a9f48"/>
<polygon points="573.22,441.45 575.95,444.18 573.22,446.91 570.49,444.18" fill="#6a9f48"/>
<polygon points="576.38,442.16 579.11,444.89 576.38,447.62 573.65,444.89" fill="#6a9f48"/>
<polygon points="579.54,442.86 582.27,445.59 579.54,448.32 576.81,445.59" fill="#6a9f48"/>
<polygon points="582.7,443.49 585.43,446.22 582.7,448.95 579.97,446.22" fill="#6a9f48"/>
<polygon points="585.85,444 588.58,446.73 585.85,449.46 583.12,446.73" fill="#6a9f48"/>
<polygon points="589.01,444.4 591.74,447.13 589.01,449.86 586.28,447.13" fill="#6a9f48"/>
<polygon points="592.17,444.79 594.9,447.52 592.17,450.25 589.44,447.52" fill="#6a9f48"/>
<polygon points="595.33,445.16 598.06,447.89 595.33,450.62 592.6,447.89" fill="#6a9f48"/>
<polygon points="598.49,445.48 601.22,448.21 598.49,450.94 595.76,448.21" fill="#6a9f48"/>
<polygon points="601.64,445.74 604.37,448.47 601.64,451.2 598.91,448.47" fill="#6a9f48"/>
<polygon points="604.8,445.91 607.53,448.64 604.8,451.37 602.07,448.64" fill="#6a9f48"/>
<polygon points="607.96,445.97 610.69,448.7 607.96,451.43 605.23,448.7" fill="#6a9f48"/>
<polygon points="611.12,445.97 613.85,448.7 611.12,451.43 608.39,448.7" fill="#6a9f48"/>
<polygon points="614.28,445.97 617.01,448.7 614.28,451.43 611.55,448.7" fill="#6a9f48"/>
<polygon points="617.43,445.97 620.16,448.7 617.43,451.43 614.7,448.7" fill="#6a9f48"/>
<polygon points="620.59,445.97 623.32,448.7 620.59,451.43 617.86,448.7" fill="#6a9f48"/>
<polygon points="623.75,445.97 626.48,448.7 623.75,451.43 621.02,448.7" fill="#6a9f48"/>
<polygon points="626.91,445.84 629.64,448.57 626.91,451.3 624.18,448.57" fill="#6a9f48"/>
<polygon points="630.06,445.42 632.79,448.15 630.06,450.88 627.33,448.15" fill="#6a9f48"/>
<polygon points="633.22,444.81 635.95,447.54 633.22,450.27 630.49,447.54" fill="#6a9f48"/>
<polygon points="636.38,444.11 639.11,446.84 636.38,449.57 633.65,446.84" fill="#6a9f48"/>
<polygon points="639.54,443.44 642.27,446.17 639.54,448.9 636.81,446.17" fill="#6a9f48"/>
<polygon points="642.7,442.84 645.43,445.57 642.7,448.3 639.97,445.57" fill="#6a9f48"/>
<polygon points="645.85,442.25 648.58,444.98 645.85,447.71 643.12,444.98" fill="#6a9f48"/>
<polygon points="649.01,441.63 651.74,444.36 649.01,447.09 646.28,444.36" fill="#6a9f48"/>
<polygon points="652.17,440.93 654.9,443.66 652.17,446.39 649.44,443.66" fill="#6a9f48"/>
<polygon points="655.33,440.13 658.06,442.86 655.33,445.59 652.6,442.86" fill="#6a9f48"/>
<polygon points="658.48,439.15 661.21,441.88 658.48,444.61 655.75,441.88" fill="#6a9f48"/>
<polygon points="661.64,437.87 664.37,440.6 661.64,443.33 658.91,440.6" fill="#6a9f48"/>
<polygon points="664.8,436.42 667.53,439.15 664.8,441.88 662.07,439.15" fill="#6a9f48"/>
<polyline points="435.18,471.59 442.95,494.79 450.72,516.23 458.49,537.13 466.24,553.65 473.68,563.13 480.83,569.56 487.67,573.14 494.21,575.07 500.45,576.27 506.52,577.08 512.6,577.72 518.39,578.13 523.85,578.35 529.15,578.53 534.28,578.68 539.25,578.81 544.04,578.91 548.71,578.99 553.33,579.05 557.91,579.09 562.44,579.11 566.92,579.13 571.36,579.14 575.75,579.16 580,579.17 584.08,579.18 587.98,579.2 591.73,579.21 595.31,579.22 598.75,579.22 602.04,579.23 605.2,579.24 608.33,579.24 611.47,579.25 614.61,579.26 617.75,579.26 620.88,579.27 624.02,579.27 627.16,579.28 630.29,579.28 633.43,579.28 636.57,579.29 639.7,579.29 642.84,579.29 645.98,579.29 649.12,579.3 652.25,579.3 655.39,579.3 658.53,579.3 661.66,579.3 664.8,579.3" fill="none" stroke="#e8645d" stroke-width="1" stroke-linejoin="round" />
<circle cx="435.18" cy="471.59" r="2.6" fill="#e8645d"/>
<circle cx="442.95" cy="494.79" r="2.6" fill="#e8645d"/>
<circle cx="450.72" cy="516.23" r="2.6" fill="#e8645d"/>
<circle cx="458.49" cy="537.13" r="2.6" fill="#e8645d"/>
<circle cx="466.24" cy="553.65" r="2.6" fill="#e8645d"/>
<circle cx="473.68" cy="563.13" r="2.6" fill="#e8645d"/>
<circle cx="480.83" cy="569.56" r="2.6" fill="#e8645d"/>
<circle cx="487.67" cy="573.14" r="2.6" fill="#e8645d"/>
<circle cx="494.21" cy="575.07" r="2.6" fill="#e8645d"/>
<circle cx="500.45" cy="576.27" r="2.6" fill="#e8645d"/>
<circle cx="506.52" cy="577.08" r="2.6" fill="#e8645d"/>
<circle cx="512.6" cy="577.72" r="2.6" fill="#e8645d"/>
<circle cx="518.39" cy="578.13" r="2.6" fill="#e8645d"/>
<circle cx="523.85" cy="578.35" r="2.6" fill="#e8645d"/>
<circle cx="529.15" cy="578.53" r="2.6" fill="#e8645d"/>
<circle cx="534.28" cy="578.68" r="2.6" fill="#e8645d"/>
<circle cx="539.25" cy="578.81" r="2.6" fill="#e8645d"/>
<circle cx="544.04" cy="578.91" r="2.6" fill="#e8645d"/>
<circle cx="548.71" cy="578.99" r="2.6" fill="#e8645d"/>
<circle cx="553.33" cy="579.05" r="2.6" fill="#e8645d"/>
<circle cx="557.91" cy="579.09" r="2.6" fill="#e8645d"/>
<circle cx="562.44" cy="579.11" r="2.6" fill="#e8645d"/>
<circle cx="566.92" cy="579.13" r="2.6" fill="#e8645d"/>
<circle cx="571.36" cy="579.14" r="2.6" fill="#e8645d"/>
<circle cx="575.75" cy="579.16" r="2.6" fill="#e8645d"/>
<circle cx="580" cy="579.17" r="2.6" fill="#e8645d"/>
<circle cx="584.08" cy="579.18" r="2.6" fill="#e8645d"/>
<circle cx="587.98" cy="579.2" r="2.6" fill="#e8645d"/>
<circle cx="591.73" cy="579.21" r="2.6" fill="#e8645d"/>
<circle cx="595.31" cy="579.22" r="2.6" fill="#e8645d"/>
<circle cx="598.75" cy="579.22" r="2.6" fill="#e8645d"/>
<circle cx="602.04" cy="579.23" r="2.6" fill="#e8645d"/>
<circle cx="605.2" cy="579.24" r="2.6" fill="#e8645d"/>
<circle cx="608.33" cy="579.24" r="2.6" fill="#e8645d"/>
<circle cx="611.47" cy="579.25" r="2.6" fill="#e8645d"/>
<circle cx="614.61" cy="579.26" r="2.6" fill="#e8645d"/>
<circle cx="617.75" cy="579.26" r="2.6" fill="#e8645d"/>
<circle cx="620.88" cy="579.27" r="2.6" fill="#e8645d"/>
<circle cx="624.02" cy="579.27" r="2.6" fill="#e8645d"/>
<circle cx="627.16" cy="579.28" r="2.6" fill="#e8645d"/>
<circle cx="630.29" cy="579.28" r="2.6" fill="#e8645d"/>
<circle cx="633.43" cy="579.28" r="2.6" fill="#e8645d"/>
<circle cx="636.57" cy="579.29" r="2.6" fill="#e8645d"/>
<circle cx="639.7" cy="579.29" r="2.6" fill="#e8645d"/>
<circle cx="642.84" cy="579.29" r="2.6" fill="#e8645d"/>
<circle cx="645.98" cy="579.29" r="2.6" fill="#e8645d"/>
<circle cx="649.12" cy="579.3" r="2.6" fill="#e8645d"/>
<circle cx="652.25" cy="579.3" r="2.6" fill="#e8645d"/>
<circle cx="655.39" cy="579.3" r="2.6" fill="#e8645d"/>
<circle cx="658.53" cy="579.3" r="2.6" fill="#e8645d"/>
<circle cx="661.66" cy="579.3" r="2.6" fill="#e8645d"/>
<circle cx="664.8" cy="579.3" r="2.6" fill="#e8645d"/>
<polyline points="435.18,509.14 442.95,524.96 450.72,542.13 458.49,555.85 466.24,564.92 473.68,569.88 480.83,573.08 487.67,575.04 494.21,576.17 500.45,577.02 506.52,577.6 512.6,577.91 518.39,578.14 523.85,578.33 529.15,578.49 534.28,578.62 539.25,578.73 544.04,578.82 548.71,578.89 553.33,578.95 557.91,578.99 562.44,579.01 566.92,579.04 571.36,579.06 575.75,579.08 580,579.1 584.08,579.12 587.98,579.14 591.73,579.15 595.31,579.17 598.75,579.18 602.04,579.19 605.2,579.2 608.33,579.21 611.47,579.22 614.61,579.23 617.75,579.24 620.88,579.25 624.02,579.25 627.16,579.26 630.29,579.27 633.43,579.27 636.57,579.28 639.7,579.28 642.84,579.29 645.98,579.29 649.12,579.29 652.25,579.3 655.39,579.3 658.53,579.3 661.66,579.3 664.8,579.3" fill="none" stroke="#c99f2c" stroke-width="1" stroke-linejoin="round" />
<polygon points="435.18,506.71 432.58,511.13 437.78,511.13" fill="#c99f2c"/>
<polygon points="442.95,522.53 440.35,526.95 445.55,526.95" fill="#c99f2c"/>
<polygon points="450.72,539.7 448.12,544.12 453.32,544.12" fill="#c99f2c"/>
<polygon points="458.49,553.42 455.89,557.84 461.09,557.84" fill="#c99f2c"/>
<polygon points="466.24,562.49 463.64,566.91 468.84,566.91" fill="#c99f2c"/>
<polygon points="473.68,567.45 471.08,571.87 476.28,571.87" fill="#c99f2c"/>
<polygon points="480.83,570.65 478.23,575.07 483.43,575.07" fill="#c99f2c"/>
<polygon points="487.67,572.61 485.07,577.03 490.27,577.03" fill="#c99f2c"/>
<polygon points="494.21,573.74 491.61,578.16 496.81,578.16" fill="#c99f2c"/>
<polygon points="500.45,574.58 497.85,579 503.05,579" fill="#c99f2c"/>
<polygon points="506.52,575.17 503.92,579.59 509.12,579.59" fill="#c99f2c"/>
<polygon points="512.6,575.48 510,579.9 515.2,579.9" fill="#c99f2c"/>
<polygon points="518.39,575.71 515.79,580.13 520.99,580.13" fill="#c99f2c"/>
<polygon points="523.85,575.9 521.25,580.32 526.45,580.32" fill="#c99f2c"/>
<polygon points="529.15,576.06 526.55,580.48 531.75,580.48" fill="#c99f2c"/>
<polygon points="534.28,576.19 531.68,580.61 536.88,580.61" fill="#c99f2c"/>
<polygon points="539.25,576.3 536.65,580.72 541.85,580.72" fill="#c99f2c"/>
<polygon points="544.04,576.39 541.44,580.81 546.64,580.81" fill="#c99f2c"/>
<polygon points="548.71,576.46 546.11,580.88 551.31,580.88" fill="#c99f2c"/>
<polygon points="553.33,576.52 550.73,580.94 555.93,580.94" fill="#c99f2c"/>
<polygon points="557.91,576.56 555.31,580.98 560.51,580.98" fill="#c99f2c"/>
<polygon points="562.44,576.58 559.84,581 565.04,581" fill="#c99f2c"/>
<polygon points="566.92,576.61 564.32,581.03 569.52,581.03" fill="#c99f2c"/>
<polygon points="571.36,576.63 568.76,581.05 573.96,581.05" fill="#c99f2c"/>
<polygon points="575.75,576.65 573.15,581.07 578.35,581.07" fill="#c99f2c"/>
<polygon points="580,576.67 577.4,581.09 582.6,581.09" fill="#c99f2c"/>
<polygon points="584.08,576.69 581.48,581.11 586.68,581.11" fill="#c99f2c"/>
<polygon points="587.98,576.71 585.38,581.13 590.58,581.13" fill="#c99f2c"/>
<polygon points="591.73,576.72 589.13,581.14 594.33,581.14" fill="#c99f2c"/>
<polygon points="595.31,576.74 592.71,581.16 597.91,581.16" fill="#c99f2c"/>
<polygon points="598.75,576.75 596.15,581.17 601.35,581.17" fill="#c99f2c"/>
<polygon points="602.04,576.76 599.44,581.18 604.64,581.18" fill="#c99f2c"/>
<polygon points="605.2,576.77 602.6,581.19 607.8,581.19" fill="#c99f2c"/>
<polygon points="608.33,576.78 605.73,581.2 610.93,581.2" fill="#c99f2c"/>
<polygon points="611.47,576.79 608.87,581.21 614.07,581.21" fill="#c99f2c"/>
<polygon points="614.61,576.8 612.01,581.22 617.21,581.22" fill="#c99f2c"/>
<polygon points="617.75,576.81 615.15,581.23 620.35,581.23" fill="#c99f2c"/>
<polygon points="620.88,576.82 618.28,581.24 623.48,581.24" fill="#c99f2c"/>
<polygon points="624.02,576.82 621.42,581.24 626.62,581.24" fill="#c99f2c"/>
<polygon points="627.16,576.83 624.56,581.25 629.76,581.25" fill="#c99f2c"/>
<polygon points="630.29,576.84 627.69,581.26 632.89,581.26" fill="#c99f2c"/>
<polygon points="633.43,576.84 630.83,581.26 636.03,581.26" fill="#c99f2c"/>
<polygon points="636.57,576.85 633.97,581.27 639.17,581.27" fill="#c99f2c"/>
<polygon points="639.7,576.85 637.1,581.27 642.3,581.27" fill="#c99f2c"/>
<polygon points="642.84,576.86 640.24,581.28 645.44,581.28" fill="#c99f2c"/>
<polygon points="645.98,576.86 643.38,581.28 648.58,581.28" fill="#c99f2c"/>
<polygon points="649.12,576.86 646.52,581.28 651.72,581.28" fill="#c99f2c"/>
<polygon points="652.25,576.86 649.65,581.28 654.85,581.28" fill="#c99f2c"/>
<polygon points="655.39,576.87 652.79,581.29 657.99,581.29" fill="#c99f2c"/>
<polygon points="658.53,576.87 655.93,581.29 661.13,581.29" fill="#c99f2c"/>
<polygon points="661.66,576.87 659.06,581.29 664.26,581.29" fill="#c99f2c"/>
<polygon points="664.8,576.87 662.2,581.29 667.4,581.29" fill="#c99f2c"/>
<polyline points="435.18,517.11 438.79,529.43 442.4,536.94 446.01,543.47 449.62,549.07 453.23,553.9 456.84,558.34 460.45,561.91 464.05,565.5 467.66,568.25 471.27,570.47 474.88,572.37 478.49,573.86 482.1,575.06 485.71,576.02 489.32,576.83 492.93,577.46 496.53,577.99 500.14,578.41 503.75,578.69 506.91,578.89 510.07,579.03 513.23,579.09 516.38,579.14 519.54,579.18 522.7,579.21 525.86,579.24 529.01,579.27 532.17,579.3 535.33,579.32 538.49,579.34 541.65,579.36 544.8,579.37 547.96,579.38 551.12,579.39 554.28,579.4 557.43,579.4 560.59,579.4 563.75,579.4 566.91,579.4 570.07,579.4 573.22,579.4 576.38,579.4 579.54,579.4 582.7,579.4 585.85,579.4 589.01,579.4 592.17,579.4 595.33,579.4 598.49,579.4 601.64,579.4 604.8,579.4 607.96,579.4 611.12,579.4 614.28,579.4 617.43,579.4 620.59,579.4 623.75,579.4 626.91,579.4 630.06,579.4 633.22,579.4 636.38,579.4 639.54,579.4 642.7,579.4 645.85,579.4 649.01,579.4 652.17,579.4 655.33,579.4 658.48,579.4 661.64,579.4 664.8,579.4" fill="none" stroke="#cc66f0" stroke-width="1" stroke-linejoin="round" />
<polygon points="435.18,519.76 432.58,515.34 437.78,515.34" fill="#cc66f0"/>
<polygon points="438.79,532.08 436.19,527.66 441.39,527.66" fill="#cc66f0"/>
<polygon points="442.4,539.59 439.8,535.17 445,535.17" fill="#cc66f0"/>
<polygon points="446.01,546.12 443.41,541.7 448.61,541.7" fill="#cc66f0"/>
<polygon points="449.62,551.72 447.02,547.3 452.22,547.3" fill="#cc66f0"/>
<polygon points="453.23,556.55 450.63,552.13 455.83,552.13" fill="#cc66f0"/>
<polygon points="456.84,560.99 454.24,556.57 459.44,556.57" fill="#cc66f0"/>
<polygon points="460.45,564.56 457.85,560.14 463.05,560.14" fill="#cc66f0"/>
<polygon points="464.05,568.15 461.45,563.73 466.65,563.73" fill="#cc66f0"/>
<polygon points="467.66,570.9 465.06,566.48 470.26,566.48" fill="#cc66f0"/>
<polygon points="471.27,573.12 468.67,568.7 473.87,568.7" fill="#cc66f0"/>
<polygon points="474.88,575.02 472.28,570.6 477.48,570.6" fill="#cc66f0"/>
<polygon points="478.49,576.52 475.89,572.1 481.09,572.1" fill="#cc66f0"/>
<polygon points="482.1,577.71 479.5,573.29 484.7,573.29" fill="#cc66f0"/>
<polygon points="485.71,578.68 483.11,574.26 488.31,574.26" fill="#cc66f0"/>
<polygon points="489.32,579.48 486.72,575.06 491.92,575.06" fill="#cc66f0"/>
<polygon points="492.93,580.11 490.33,575.69 495.53,575.69" fill="#cc66f0"/>
<polygon points="496.53,580.64 493.93,576.22 499.13,576.22" fill="#cc66f0"/>
<polygon points="500.14,581.06 497.54,576.64 502.74,576.64" fill="#cc66f0"/>
<polygon points="503.75,581.34 501.15,576.92 506.35,576.92" fill="#cc66f0"/>
<polygon points="506.91,581.54 504.31,577.12 509.51,577.12" fill="#cc66f0"/>
<polygon points="510.07,581.69 507.47,577.27 512.67,577.27" fill="#cc66f0"/>
<polygon points="513.23,581.75 510.63,577.33 515.83,577.33" fill="#cc66f0"/>
<polygon points="516.38,581.79 513.78,577.37 518.98,577.37" fill="#cc66f0"/>
<polygon points="519.54,581.83 516.94,577.41 522.14,577.41" fill="#cc66f0"/>
<polygon points="522.7,581.86 520.1,577.44 525.3,577.44" fill="#cc66f0"/>
<polygon points="525.86,581.89 523.26,577.47 528.46,577.47" fill="#cc66f0"/>
<polygon points="529.01,581.92 526.41,577.5 531.61,577.5" fill="#cc66f0"/>
<polygon points="532.17,581.95 529.57,577.53 534.77,577.53" fill="#cc66f0"/>
<polygon points="535.33,581.97 532.73,577.55 537.93,577.55" fill="#cc66f0"/>
<polygon points="538.49,581.99 535.89,577.57 541.09,577.57" fill="#cc66f0"/>
<polygon points="541.65,582.01 539.05,577.59 544.25,577.59" fill="#cc66f0"/>
<polygon points="544.8,582.02 542.2,577.6 547.4,577.6" fill="#cc66f0"/>
<polygon points="547.96,582.03 545.36,577.61 550.56,577.61" fill="#cc66f0"/>
<polygon points="551.12,582.04 548.52,577.62 553.72,577.62" fill="#cc66f0"/>
<polygon points="554.28,582.05 551.68,577.63 556.88,577.63" fill="#cc66f0"/>
<polygon points="557.43,582.05 554.83,577.63 560.03,577.63" fill="#cc66f0"/>
<polygon points="560.59,582.05 557.99,577.63 563.19,577.63" fill="#cc66f0"/>
<polygon points="563.75,582.05 561.15,577.63 566.35,577.63" fill="#cc66f0"/>
<polygon points="566.91,582.05 564.31,577.63 569.51,577.63" fill="#cc66f0"/>
<polygon points="570.07,582.05 567.47,577.63 572.67,577.63" fill="#cc66f0"/>
<polygon points="573.22,582.05 570.62,577.63 575.82,577.63" fill="#cc66f0"/>
<polygon points="576.38,582.05 573.78,577.63 578.98,577.63" fill="#cc66f0"/>
<polygon points="579.54,582.05 576.94,577.63 582.14,577.63" fill="#cc66f0"/>
<polygon points="582.7,582.05 580.1,577.63 585.3,577.63" fill="#cc66f0"/>
<polygon points="585.85,582.05 583.25,577.63 588.45,577.63" fill="#cc66f0"/>
<polygon points="589.01,582.05 586.41,577.63 591.61,577.63" fill="#cc66f0"/>
<polygon points="592.17,582.05 589.57,577.63 594.77,577.63" fill="#cc66f0"/>
<polygon points="595.33,582.05 592.73,577.63 597.93,577.63" fill="#cc66f0"/>
<polygon points="598.49,582.05 595.89,577.63 601.09,577.63" fill="#cc66f0"/>
<polygon points="601.64,582.05 599.04,577.63 604.24,577.63" fill="#cc66f0"/>
<polygon points="604.8,582.05 602.2,577.63 607.4,577.63" fill="#cc66f0"/>
<polygon points="607.96,582.05 605.36,577.63 610.56,577.63" fill="#cc66f0"/>
<polygon points="611.12,582.05 608.52,577.63 613.72,577.63" fill="#cc66f0"/>
<polygon points="614.28,582.05 611.68,577.63 616.88,577.63" fill="#cc66f0"/>
<polygon points="617.43,582.05 614.83,577.63 620.03,577.63" fill="#cc66f0"/>
<polygon points="620.59,582.05 617.99,577.63 623.19,577.63" fill="#cc66f0"/>
<polygon points="623.75,582.05 621.15,577.63 626.35,577.63" fill="#cc66f0"/>
<polygon points="626.91,582.05 624.31,577.63 629.51,577.63" fill="#cc66f0"/>
<polygon points="630.06,582.05 627.46,577.63 632.66,577.63" fill="#cc66f0"/>
<polygon points="633.22,582.05 630.62,577.63 635.82,577.63" fill="#cc66f0"/>
<polygon points="636.38,582.05 633.78,577.63 638.98,577.63" fill="#cc66f0"/>
<polygon points="639.54,582.05 636.94,577.63 642.14,577.63" fill="#cc66f0"/>
<polygon points="642.7,582.05 640.1,577.63 645.3,577.63" fill="#cc66f0"/>
<polygon points="645.85,582.05 643.25,577.63 648.45,577.63" fill="#cc66f0"/>
<polygon points="649.01,582.05 646.41,577.63 651.61,577.63" fill="#cc66f0"/>
<polygon points="652.17,582.05 649.57,577.63 654.77,577.63" fill="#cc66f0"/>
<polygon points="655.33,582.05 652.73,577.63 657.93,577.63" fill="#cc66f0"/>
<polygon points="658.48,582.05 655.88,577.63 661.08,577.63" fill="#cc66f0"/>
<polygon points="661.64,582.05 659.04,577.63 664.24,577.63" fill="#cc66f0"/>
<polygon points="664.8,582.05 662.2,577.63 667.4,577.63" fill="#cc66f0"/>
<polyline points="435.18,523.15 438.79,534.09 442.4,540.54 446.01,546.25 449.62,551.22 453.23,555.56 456.84,559.62 460.45,562.9 464.05,566.26 467.66,568.84 471.27,570.92 474.88,572.72 478.49,574.14 482.1,575.27 485.71,576.19 489.32,576.95 492.93,577.56 496.53,578.06 500.14,578.46 503.75,578.74 506.91,578.93 510.07,579.06 513.23,579.12 516.38,579.16 519.54,579.19 522.7,579.23 525.86,579.26 529.01,579.28 532.17,579.31 535.33,579.33 538.49,579.34 541.65,579.36 544.8,579.37 547.96,579.38 551.12,579.39 554.28,579.4 557.43,579.4 560.59,579.4 563.75,579.4 566.91,579.4 570.07,579.4 573.22,579.4 576.38,579.4 579.54,579.4 582.7,579.4 585.85,579.4 589.01,579.4 592.17,579.4 595.33,579.4 598.49,579.4 601.64,579.4 604.8,579.4 607.96,579.4 611.12,579.4 614.28,579.4 617.43,579.4 620.59,579.4 623.75,579.4 626.91,579.4 630.06,579.4 633.22,579.4 636.38,579.4 639.54,579.4 642.7,579.4 645.85,579.4 649.01,579.4 652.17,579.4 655.33,579.4 658.48,579.4 661.64,579.4 664.8,579.4" fill="none" stroke="#6a9f48" stroke-width="1" stroke-linejoin="round" />
<polygon points="435.18,520.42 437.91,523.15 435.18,525.88 432.45,523.15" fill="#6a9f48"/>
<polygon points="438.79,531.36 441.52,534.09 438.79,536.82 436.06,534.09" fill="#6a9f48"/>
<polygon points="442.4,537.81 445.13,540.54 442.4,543.27 439.67,540.54" fill="#6a9f48"/>
<polygon points="446.01,543.52 448.74,546.25 446.01,548.98 443.28,546.25" fill="#6a9f48"/>
<polygon points="449.62,548.49 452.35,551.22 449.62,553.95 446.89,551.22" fill="#6a9f48"/>
<polygon points="453.23,552.83 455.96,555.56 453.23,558.29 450.5,555.56" fill="#6a9f48"/>
<polygon points="456.84,556.89 459.57,559.62 456.84,562.35 454.11,559.62" fill="#6a9f48"/>
<polygon points="460.45,560.17 463.18,562.9 460.45,565.63 457.72,562.9" fill="#6a9f48"/>
<polygon points="464.05,563.53 466.78,566.26 464.05,568.99 461.32,566.26" fill="#6a9f48"/>
<polygon points="467.66,566.11 470.39,568.84 467.66,571.57 464.93,568.84" fill="#6a9f48"/>
<polygon points="471.27,568.19 474,570.92 471.27,573.65 468.54,570.92" fill="#6a9f48"/>
<polygon points="474.88,569.99 477.61,572.72 474.88,575.45 472.15,572.72" fill="#6a9f48"/>
<polygon points="478.49,571.41 481.22,574.14 478.49,576.87 475.76,574.14" fill="#6a9f48"/>
<polygon points="482.1,572.54 484.83,575.27 482.1,578 479.37,575.27" fill="#6a9f48"/>
<polygon points="485.71,573.46 488.44,576.19 485.71,578.92 482.98,576.19" fill="#6a9f48"/>
<polygon points="489.32,574.22 492.05,576.95 489.32,579.68 486.59,576.95" fill="#6a9f48"/>
<polygon points="492.93,574.83 495.66,577.56 492.93,580.29 490.2,577.56" fill="#6a9f48"/>
<polygon points="496.53,575.33 499.26,578.06 496.53,580.79 493.8,578.06" fill="#6a9f48"/>
<polygon points="500.14,575.73 502.87,578.46 500.14,581.19 497.41,578.46" fill="#6a9f48"/>
<polygon points="503.75,576.01 506.48,578.74 503.75,581.47 501.02,578.74" fill="#6a9f48"/>
<polygon points="506.91,576.2 509.64,578.93 506.91,581.66 504.18,578.93" fill="#6a9f48"/>
<polygon points="510.07,576.33 512.8,579.06 510.07,581.79 507.34,579.06" fill="#6a9f48"/>
<polygon points="513.23,576.39 515.96,579.12 513.23,581.85 510.5,579.12" fill="#6a9f48"/>
<polygon points="516.38,576.43 519.11,579.16 516.38,581.89 513.65,579.16" fill="#6a9f48"/>
<polygon points="519.54,576.46 522.27,579.19 519.54,581.92 516.81,579.19" fill="#6a9f48"/>
<polygon points="522.7,576.5 525.43,579.23 522.7,581.96 519.97,579.23" fill="#6a9f48"/>
<polygon points="525.86,576.53 528.59,579.26 525.86,581.99 523.13,579.26" fill="#6a9f48"/>
<polygon points="529.01,576.55 531.74,579.28 529.01,582.01 526.28,579.28" fill="#6a9f48"/>
<polygon points="532.17,576.58 534.9,579.31 532.17,582.04 529.44,579.31" fill="#6a9f48"/>
<polygon points="535.33,576.6 538.06,579.33 535.33,582.06 532.6,579.33" fill="#6a9f48"/>
<polygon points="538.49,576.61 541.22,579.34 538.49,582.07 535.76,579.34" fill="#6a9f48"/>
<polygon points="541.65,576.63 544.38,579.36 541.65,582.09 538.92,579.36" fill="#6a9f48"/>
<polygon points="544.8,576.64 547.53,579.37 544.8,582.1 542.07,579.37" fill="#6a9f48"/>
<polygon points="547.96,576.65 550.69,579.38 547.96,582.11 545.23,579.38" fill="#6a9f48"/>
<polygon points="551.12,576.66 553.85,579.39 551.12,582.12 548.39,579.39" fill="#6a9f48"/>
<polygon points="554.28,576.67 557.01,579.4 554.28,582.13 551.55,579.4" fill="#6a9f48"/>
<polygon points="557.43,576.67 560.16,579.4 557.43,582.13 554.7,579.4" fill="#6a9f48"/>
<polygon points="560.59,576.67 563.32,579.4 560.59,582.13 557.86,579.4" fill="#6a9f48"/>
<polygon points="563.75,576.67 566.48,579.4 563.75,582.13 561.02,579.4" fill="#6a9f48"/>
<polygon points="566.91,576.67 569.64,579.4 566.91,582.13 564.18,579.4" fill="#6a9f48"/>
<polygon points="570.07,576.67 572.8,579.4 570.07,582.13 567.34,579.4" fill="#6a9f48"/>
<polygon points="573.22,576.67 575.95,579.4 573.22,582.13 570.49,579.4" fill="#6a9f48"/>
<polygon points="576.38,576.67 579.11,579.4 576.38,582.13 573.65,579.4" fill="#6a9f48"/>
<polygon points="579.54,576.67 582.27,579.4 579.54,582.13 576.81,579.4" fill="#6a9f48"/>
<polygon points="582.7,576.67 585.43,579.4 582.7,582.13 579.97,579.4" fill="#6a9f48"/>
<polygon points="585.85,576.67 588.58,579.4 585.85,582.13 583.12,579.4" fill="#6a9f48"/>
<polygon points="589.01,576.67 591.74,579.4 589.01,582.13 586.28,579.4" fill="#6a9f48"/>
<polygon points="592.17,576.67 594.9,579.4 592.17,582.13 589.44,579.4" fill="#6a9f48"/>
<polygon points="595.33,576.67 598.06,579.4 595.33,582.13 592.6,579.4" fill="#6a9f48"/>
<polygon points="598.49,576.67 601.22,579.4 598.49,582.13 595.76,579.4" fill="#6a9f48"/>
<polygon points="601.64,576.67 604.37,579.4 601.64,582.13 598.91,579.4" fill="#6a9f48"/>
<polygon points="604.8,576.67 607.53,579.4 604.8,582.13 602.07,579.4" fill="#6a9f48"/>
<polygon points="607.96,576.67 610.69,579.4 607.96,582.13 605.23,579.4" fill="#6a9f48"/>
<polygon points="611.12,576.67 613.85,579.4 611.12,582.13 608.39,579.4" fill="#6a9f48"/>
<polygon points="614.28,576.67 617.01,579.4 614.28,582.13 611.55,579.4" fill="#6a9f48"/>
<polygon points="617.43,576.67 620.16,579.4 617.43,582.13 614.7,579.4" fill="#6a9f48"/>
<polygon points="620.59,576.67 623.32,579.4 620.59,582.13 617.86,579.4" fill="#6a9f48"/>
<polygon points="623.75,576.67 626.48,579.4 623.75,582.13 621.02,579.4" fill="#6a9f48"/>
<polygon points="626.91,576.67 629.64,579.4 626.91,582.13 624.18,579.4" fill="#6a9f48"/>
<polygon points="630.06,576.67 632.79,579.4 630.06,582.13 627.33,579.4" fill="#6a9f48"/>
<polygon points="633.22,576.67 635.95,579.4 633.22,582.13 630.49,579.4" fill="#6a9f48"/>
<polygon points="636.38,576.67 639.11,579.4 636.38,582.13 633.65,579.4" fill="#6a9f48"/>
<polygon points="639.54,576.67 642.27,579.4 639.54,582.13 636.81,579.4" fill="#6a9f48"/>
<polygon points="642.7,576.67 645.43,579.4 642.7,582.13 639.97,579.4" fill="#6a9f48"/>
<polygon points="645.85,576.67 648.58,579.4 645.85,582.13 643.12,579.4" fill="#6a9f48"/>
<polygon points="649.01,576.67 651.74,579.4 649.01,582.13 646.28,579.4" fill="#6a9f48"/>
<polygon points="652.17,576.67 654.9,579.4 652.17,582.13 649.44,579.4" fill="#6a9f48"/>
<polygon points="655.33,576.67 658.06,579.4 655.33,582.13 652.6,579.4" fill="#6a9f48"/>
<polygon points="658.48,576.67 661.21,579.4 658.48,582.13 655.75,579.4" fill="#6a9f48"/>
<polygon points="661.64,576.67 664.37,579.4 661.64,582.13 658.91,579.4" fill="#6a9f48"/>
<polygon points="664.8,576.67 667.53,579.4 664.8,582.13 662.07,579.4" fill="#6a9f48"/>
<line x1="422.67" y1="459" x2="422.67" y2="456.5" stroke="#111" stroke-width="1.1" />
<line x1="428.21" y1="459" x2="428.21" y2="456.5" stroke="#111" stroke-width="1.1" />
<line x1="432.13" y1="459" x2="432.13" y2="456.5" stroke="#111" stroke-width="1.1" />
<line x1="435.18" y1="459" x2="435.18" y2="456.5" stroke="#111" stroke-width="1.1" />
<line x1="437.67" y1="459" x2="437.67" y2="456.5" stroke="#111" stroke-width="1.1" />
<line x1="439.78" y1="459" x2="439.78" y2="456.5" stroke="#111" stroke-width="1.1" />
<line x1="441.6" y1="459" x2="441.6" y2="456.5" stroke="#111" stroke-width="1.1" />
<line x1="443.21" y1="459" x2="443.21" y2="456.5" stroke="#111" stroke-width="1.1" />
<line x1="444.65" y1="459" x2="444.65" y2="454.2" stroke="#111" stroke-width="1.1" />
<line x1="454.12" y1="459" x2="454.12" y2="456.5" stroke="#111" stroke-width="1.1" />
<line x1="459.66" y1="459" x2="459.66" y2="456.5" stroke="#111" stroke-width="1.1" />
<line x1="463.58" y1="459" x2="463.58" y2="456.5" stroke="#111" stroke-width="1.1" />
<line x1="466.63" y1="459" x2="466.63" y2="456.5" stroke="#111" stroke-width="1.1" />
<line x1="469.12" y1="459" x2="469.12" y2="456.5" stroke="#111" stroke-width="1.1" />
<line x1="471.23" y1="459" x2="471.23" y2="456.5" stroke="#111" stroke-width="1.1" />
<line x1="473.05" y1="459" x2="473.05" y2="456.5" stroke="#111" stroke-width="1.1" />
<line x1="474.66" y1="459" x2="474.66" y2="456.5" stroke="#111" stroke-width="1.1" />
<line x1="476.1" y1="459" x2="476.1" y2="454.2" stroke="#111" stroke-width="1.1" />
<line x1="485.57" y1="459" x2="485.57" y2="456.5" stroke="#111" stroke-width="1.1" />
<line x1="491.11" y1="459" x2="491.11" y2="456.5" stroke="#111" stroke-width="1.1" />
<line x1="495.03" y1="459" x2="495.03" y2="456.5" stroke="#111" stroke-width="1.1" />
<line x1="498.08" y1="459" x2="498.08" y2="456.5" stroke="#111" stroke-width="1.1" />
<line x1="500.57" y1="459" x2="500.57" y2="456.5" stroke="#111" stroke-width="1.1" />
<line x1="502.68" y1="459" x2="502.68" y2="456.5" stroke="#111" stroke-width="1.1" />
<line x1="504.5" y1="459" x2="504.5" y2="456.5" stroke="#111" stroke-width="1.1" />
<line x1="506.11" y1="459" x2="506.11" y2="456.5" stroke="#111" stroke-width="1.1" />
<line x1="507.55" y1="459" x2="507.55" y2="454.2" stroke="#111" stroke-width="1.1" />
<line x1="517.02" y1="459" x2="517.02" y2="456.5" stroke="#111" stroke-width="1.1" />
<line x1="522.56" y1="459" x2="522.56" y2="456.5" stroke="#111" stroke-width="1.1" />
<line x1="526.48" y1="459" x2="526.48" y2="456.5" stroke="#111" stroke-width="1.1" />
<line x1="529.53" y1="459" x2="529.53" y2="456.5" stroke="#111" stroke-width="1.1" />
<line x1="532.02" y1="459" x2="532.02" y2="456.5" stroke="#111" stroke-width="1.1" />
<line x1="534.13" y1="459" x2="534.13" y2="456.5" stroke="#111" stroke-width="1.1" />
<line x1="535.95" y1="459" x2="535.95" y2="456.5" stroke="#111" stroke-width="1.1" />
<line x1="537.56" y1="459" x2="537.56" y2="456.5" stroke="#111" stroke-width="1.1" />
<line x1="539" y1="459" x2="539" y2="454.2" stroke="#111" stroke-width="1.1" />
<line x1="548.47" y1="459" x2="548.47" y2="456.5" stroke="#111" stroke-width="1.1" />
<line x1="554.01" y1="459" x2="554.01" y2="456.5" stroke="#111" stroke-width="1.1" />
<line x1="557.93" y1="459" x2="557.93" y2="456.5" stroke="#111" stroke-width="1.1" />
<line x1="560.98" y1="459" x2="560.98" y2="456.5" stroke="#111" stroke-width="1.1" />
<line x1="563.47" y1="459" x2="563.47" y2="456.5" stroke="#111" stroke-width="1.1" />
<line x1="565.58" y1="459" x2="565.58" y2="456.5" stroke="#111" stroke-width="1.1" />
<line x1="567.4" y1="459" x2="567.4" y2="456.5" stroke="#111" stroke-width="1.1" />
<line x1="569.01" y1="459" x2="569.01" y2="456.5" stroke="#111" stroke-width="1.1" />
<line x1="570.45" y1="459" x2="570.45" y2="454.2" stroke="#111" stroke-width="1.1" />
<line x1="579.92" y1="459" x2="579.92" y2="456.5" stroke="#111" stroke-width="1.1" />
<line x1="585.46" y1="459" x2="585.46" y2="456.5" stroke="#111" stroke-width="1.1" />
<line x1="589.38" y1="459" x2="589.38" y2="456.5" stroke="#111" stroke-width="1.1" />
<line x1="592.43" y1="459" x2="592.43" y2="456.5" stroke="#111" stroke-width="1.1" />
<line x1="594.92" y1="459" x2="594.92" y2="456.5" stroke="#111" stroke-width="1.1" />
<line x1="597.03" y1="459" x2="597.03" y2="456.5" stroke="#111" stroke-width="1.1" />
<line x1="598.85" y1="459" x2="598.85" y2="456.5" stroke="#111" stroke-width="1.1" />
<line x1="600.46" y1="459" x2="600.46" y2="456.5" stroke="#111" stroke-width="1.1" />
<line x1="601.9" y1="459" x2="601.9" y2="454.2" stroke="#111" stroke-width="1.1" />
<line x1="611.37" y1="459" x2="611.37" y2="456.5" stroke="#111" stroke-width="1.1" />
<line x1="616.91" y1="459" x2="616.91" y2="456.5" stroke="#111" stroke-width="1.1" />
<line x1="620.83" y1="459" x2="620.83" y2="456.5" stroke="#111" stroke-width="1.1" />
<line x1="623.88" y1="459" x2="623.88" y2="456.5" stroke="#111" stroke-width="1.1" />
<line x1="626.37" y1="459" x2="626.37" y2="456.5" stroke="#111" stroke-width="1.1" />
<line x1="628.48" y1="459" x2="628.48" y2="456.5" stroke="#111" stroke-width="1.1" />
<line x1="630.3" y1="459" x2="630.3" y2="456.5" stroke="#111" stroke-width="1.1" />
<line x1="631.91" y1="459" x2="631.91" y2="456.5" stroke="#111" stroke-width="1.1" />
<line x1="633.35" y1="459" x2="633.35" y2="454.2" stroke="#111" stroke-width="1.1" />
<line x1="642.82" y1="459" x2="642.82" y2="456.5" stroke="#111" stroke-width="1.1" />
<line x1="648.36" y1="459" x2="648.36" y2="456.5" stroke="#111" stroke-width="1.1" />
<line x1="652.28" y1="459" x2="652.28" y2="456.5" stroke="#111" stroke-width="1.1" />
<line x1="655.33" y1="459" x2="655.33" y2="456.5" stroke="#111" stroke-width="1.1" />
<line x1="657.82" y1="459" x2="657.82" y2="456.5" stroke="#111" stroke-width="1.1" />
<line x1="659.93" y1="459" x2="659.93" y2="456.5" stroke="#111" stroke-width="1.1" />
<line x1="661.75" y1="459" x2="661.75" y2="456.5" stroke="#111" stroke-width="1.1" />
<line x1="663.36" y1="459" x2="663.36" y2="456.5" stroke="#111" stroke-width="1.1" />
<line x1="664.8" y1="459" x2="664.8" y2="454.2" stroke="#111" stroke-width="1.1" />
<line x1="674.27" y1="459" x2="674.27" y2="456.5" stroke="#111" stroke-width="1.1" />
<line x1="679.81" y1="459" x2="679.81" y2="456.5" stroke="#111" stroke-width="1.1" />
<line x1="422.67" y1="593" x2="422.67" y2="590.5" stroke="#111" stroke-width="1.1" />
<line x1="428.21" y1="593" x2="428.21" y2="590.5" stroke="#111" stroke-width="1.1" />
<line x1="432.13" y1="593" x2="432.13" y2="590.5" stroke="#111" stroke-width="1.1" />
<line x1="435.18" y1="593" x2="435.18" y2="590.5" stroke="#111" stroke-width="1.1" />
<line x1="437.67" y1="593" x2="437.67" y2="590.5" stroke="#111" stroke-width="1.1" />
<line x1="439.78" y1="593" x2="439.78" y2="590.5" stroke="#111" stroke-width="1.1" />
<line x1="441.6" y1="593" x2="441.6" y2="590.5" stroke="#111" stroke-width="1.1" />
<line x1="443.21" y1="593" x2="443.21" y2="590.5" stroke="#111" stroke-width="1.1" />
<text x="413.1" y="609.9" font-size="10.8" font-weight="bold" text-anchor="middle">10<tspan dy="-4.32" font-size="6.48">-3</tspan></text>
<line x1="444.65" y1="593" x2="444.65" y2="588.2" stroke="#111" stroke-width="1.1" />
<line x1="454.12" y1="593" x2="454.12" y2="590.5" stroke="#111" stroke-width="1.1" />
<line x1="459.66" y1="593" x2="459.66" y2="590.5" stroke="#111" stroke-width="1.1" />
<line x1="463.58" y1="593" x2="463.58" y2="590.5" stroke="#111" stroke-width="1.1" />
<line x1="466.63" y1="593" x2="466.63" y2="590.5" stroke="#111" stroke-width="1.1" />
<line x1="469.12" y1="593" x2="469.12" y2="590.5" stroke="#111" stroke-width="1.1" />
<line x1="471.23" y1="593" x2="471.23" y2="590.5" stroke="#111" stroke-width="1.1" />
<line x1="473.05" y1="593" x2="473.05" y2="590.5" stroke="#111" stroke-width="1.1" />
<line x1="474.66" y1="593" x2="474.66" y2="590.5" stroke="#111" stroke-width="1.1" />
<text x="444.55" y="609.9" font-size="10.8" font-weight="bold" text-anchor="middle">10<tspan dy="-4.32" font-size="6.48">-2</tspan></text>
<line x1="476.1" y1="593" x2="476.1" y2="588.2" stroke="#111" stroke-width="1.1" />
<line x1="485.57" y1="593" x2="485.57" y2="590.5" stroke="#111" stroke-width="1.1" />
<line x1="491.11" y1="593" x2="491.11" y2="590.5" stroke="#111" stroke-width="1.1" />
<line x1="495.03" y1="593" x2="495.03" y2="590.5" stroke="#111" stroke-width="1.1" />
<line x1="498.08" y1="593" x2="498.08" y2="590.5" stroke="#111" stroke-width="1.1" />
<line x1="500.57" y1="593" x2="500.57" y2="590.5" stroke="#111" stroke-width="1.1" />
<line x1="502.68" y1="593" x2="502.68" y2="590.5" stroke="#111" stroke-width="1.1" />
<line x1="504.5" y1="593" x2="504.5" y2="590.5" stroke="#111" stroke-width="1.1" />
<line x1="506.11" y1="593" x2="506.11" y2="590.5" stroke="#111" stroke-width="1.1" />
<text x="476" y="609.9" font-size="10.8" font-weight="bold" text-anchor="middle">10<tspan dy="-4.32" font-size="6.48">-1</tspan></text>
<line x1="507.55" y1="593" x2="507.55" y2="588.2" stroke="#111" stroke-width="1.1" />
<line x1="517.02" y1="593" x2="517.02" y2="590.5" stroke="#111" stroke-width="1.1" />
<line x1="522.56" y1="593" x2="522.56" y2="590.5" stroke="#111" stroke-width="1.1" />
<line x1="526.48" y1="593" x2="526.48" y2="590.5" stroke="#111" stroke-width="1.1" />
<line x1="529.53" y1="593" x2="529.53" y2="590.5" stroke="#111" stroke-width="1.1" />
<line x1="532.02" y1="593" x2="532.02" y2="590.5" stroke="#111" stroke-width="1.1" />
<line x1="534.13" y1="593" x2="534.13" y2="590.5" stroke="#111" stroke-width="1.1" />
<line x1="535.95" y1="593" x2="535.95" y2="590.5" stroke="#111" stroke-width="1.1" />
<line x1="537.56" y1="593" x2="537.56" y2="590.5" stroke="#111" stroke-width="1.1" />
<text x="507.45" y="609.9" font-size="10.8" font-weight="bold" text-anchor="middle">10<tspan dy="-4.32" font-size="6.48">0</tspan></text>
<line x1="539" y1="593" x2="539" y2="588.2" stroke="#111" stroke-width="1.1" />
<line x1="548.47" y1="593" x2="548.47" y2="590.5" stroke="#111" stroke-width="1.1" />
<line x1="554.01" y1="593" x2="554.01" y2="590.5" stroke="#111" stroke-width="1.1" />
<line x1="557.93" y1="593" x2="557.93" y2="590.5" stroke="#111" stroke-width="1.1" />
<line x1="560.98" y1="593" x2="560.98" y2="590.5" stroke="#111" stroke-width="1.1" />
<line x1="563.47" y1="593" x2="563.47" y2="590.5" stroke="#111" stroke-width="1.1" />
<line x1="565.58" y1="593" x2="565.58" y2="590.5" stroke="#111" stroke-width="1.1" />
<line x1="567.4" y1="593" x2="567.4" y2="590.5" stroke="#111" stroke-width="1.1" />
<line x1="569.01" y1="593" x2="569.01" y2="590.5" stroke="#111" stroke-width="1.1" />
<text x="538.9" y="609.9" font-size="10.8" font-weight="bold" text-anchor="middle">10<tspan dy="-4.32" font-size="6.48">1</tspan></text>
<line x1="570.45" y1="593" x2="570.45" y2="588.2" stroke="#111" stroke-width="1.1" />
<line x1="579.92" y1="593" x2="579.92" y2="590.5" stroke="#111" stroke-width="1.1" />
<line x1="585.46" y1="593" x2="585.46" y2="590.5" stroke="#111" stroke-width="1.1" />
<line x1="589.38" y1="593" x2="589.38" y2="590.5" stroke="#111" stroke-width="1.1" />
<line x1="592.43" y1="593" x2="592.43" y2="590.5" stroke="#111" stroke-width="1.1" />
<line x1="594.92" y1="593" x2="594.92" y2="590.5" stroke="#111" stroke-width="1.1" />
<line x1="597.03" y1="593" x2="597.03" y2="590.5" stroke="#111" stroke-width="1.1" />
<line x1="598.85" y1="593" x2="598.85" y2="590.5" stroke="#111" stroke-width="1.1" />
<line x1="600.46" y1="593" x2="600.46" y2="590.5" stroke="#111" stroke-width="1.1" />
<text x="570.35" y="609.9" font-size="10.8" font-weight="bold" text-anchor="middle">10<tspan dy="-4.32" font-size="6.48">2</tspan></text>
<line x1="601.9" y1="593" x2="601.9" y2="588.2" stroke="#111" stroke-width="1.1" />
<line x1="611.37" y1="593" x2="611.37" y2="590.5" stroke="#111" stroke-width="1.1" />
<line x1="616.91" y1="593" x2="616.91" y2="590.5" stroke="#111" stroke-width="1.1" />
<line x1="620.83" y1="593" x2="620.83" y2="590.5" stroke="#111" stroke-width="1.1" />
<line x1="623.88" y1="593" x2="623.88" y2="590.5" stroke="#111" stroke-width="1.1" />
<line x1="626.37" y1="593" x2="626.37" y2="590.5" stroke="#111" stroke-width="1.1" />
<line x1="628.48" y1="593" x2="628.48" y2="590.5" stroke="#111" stroke-width="1.1" />
<line x1="630.3" y1="593" x2="630.3" y2="590.5" stroke="#111" stroke-width="1.1" />
<line x1="631.91" y1="593" x2="631.91" y2="590.5" stroke="#111" stroke-width="1.1" />
<text x="601.8" y="609.9" font-size="10.8" font-weight="bold" text-anchor="middle">10<tspan dy="-4.32" font-size="6.48">3</tspan></text>
<line x1="633.35" y1="593" x2="633.35" y2="588.2" stroke="#111" stroke-width="1.1" />
<line x1="642.82" y1="593" x2="642.82" y2="590.5" stroke="#111" stroke-width="1.1" />
<line x1="648.36" y1="593" x2="648.36" y2="590.5" stroke="#111" stroke-width="1.1" />
<line x1="652.28" y1="593" x2="652.28" y2="590.5" stroke="#111" stroke-width="1.1" />
<line x1="655.33" y1="593" x2="655.33" y2="590.5" stroke="#111" stroke-width="1.1" />
<line x1="657.82" y1="593" x2="657.82" y2="590.5" stroke="#111" stroke-width="1.1" />
<line x1="659.93" y1="593" x2="659.93" y2="590.5" stroke="#111" stroke-width="1.1" />
<line x1="661.75" y1="593" x2="661.75" y2="590.5" stroke="#111" stroke-width="1.1" />
<line x1="663.36" y1="593" x2="663.36" y2="590.5" stroke="#111" stroke-width="1.1" />
<text x="633.25" y="609.9" font-size="10.8" font-weight="bold" text-anchor="middle">10<tspan dy="-4.32" font-size="6.48">4</tspan></text>
<line x1="664.8" y1="593" x2="664.8" y2="588.2" stroke="#111" stroke-width="1.1" />
<line x1="674.27" y1="593" x2="674.27" y2="590.5" stroke="#111" stroke-width="1.1" />
<line x1="679.81" y1="593" x2="679.81" y2="590.5" stroke="#111" stroke-width="1.1" />
<text x="664.7" y="609.9" font-size="10.8" font-weight="bold" text-anchor="middle">10<tspan dy="-4.32" font-size="6.48">5</tspan></text>
<line x1="413.2" y1="457.71" x2="415.6" y2="457.71" stroke="#111" stroke-width="1.1" />
<line x1="413.2" y1="454.01" x2="415.6" y2="454.01" stroke="#111" stroke-width="1.1" />
<line x1="413.2" y1="450.3" x2="417.9" y2="450.3" stroke="#111" stroke-width="1.1" />
<text x="407.7" y="453.77" font-size="10.2" font-weight="bold" text-anchor="end" fill="#000" >0</text>
<line x1="413.2" y1="446.59" x2="415.6" y2="446.59" stroke="#111" stroke-width="1.1" />
<line x1="413.2" y1="442.89" x2="415.6" y2="442.89" stroke="#111" stroke-width="1.1" />
<line x1="413.2" y1="439.18" x2="415.6" y2="439.18" stroke="#111" stroke-width="1.1" />
<line x1="413.2" y1="435.48" x2="415.6" y2="435.48" stroke="#111" stroke-width="1.1" />
<line x1="413.2" y1="431.77" x2="417.9" y2="431.77" stroke="#111" stroke-width="1.1" />
<text x="407.7" y="435.24" font-size="10.2" font-weight="bold" text-anchor="end" fill="#000" >10</text>
<line x1="413.2" y1="428.06" x2="415.6" y2="428.06" stroke="#111" stroke-width="1.1" />
<line x1="413.2" y1="424.36" x2="415.6" y2="424.36" stroke="#111" stroke-width="1.1" />
<line x1="413.2" y1="420.65" x2="415.6" y2="420.65" stroke="#111" stroke-width="1.1" />
<line x1="413.2" y1="416.95" x2="415.6" y2="416.95" stroke="#111" stroke-width="1.1" />
<line x1="413.2" y1="413.24" x2="417.9" y2="413.24" stroke="#111" stroke-width="1.1" />
<text x="407.7" y="416.71" font-size="10.2" font-weight="bold" text-anchor="end" fill="#000" >20</text>
<line x1="413.2" y1="409.53" x2="415.6" y2="409.53" stroke="#111" stroke-width="1.1" />
<line x1="413.2" y1="405.83" x2="415.6" y2="405.83" stroke="#111" stroke-width="1.1" />
<line x1="413.2" y1="402.12" x2="415.6" y2="402.12" stroke="#111" stroke-width="1.1" />
<line x1="413.2" y1="398.42" x2="415.6" y2="398.42" stroke="#111" stroke-width="1.1" />
<line x1="413.2" y1="394.71" x2="417.9" y2="394.71" stroke="#111" stroke-width="1.1" />
<text x="407.7" y="398.18" font-size="10.2" font-weight="bold" text-anchor="end" fill="#000" >30</text>
<line x1="413.2" y1="391" x2="415.6" y2="391" stroke="#111" stroke-width="1.1" />
<line x1="413.2" y1="387.3" x2="415.6" y2="387.3" stroke="#111" stroke-width="1.1" />
<line x1="413.2" y1="383.59" x2="415.6" y2="383.59" stroke="#111" stroke-width="1.1" />
<line x1="413.2" y1="379.89" x2="415.6" y2="379.89" stroke="#111" stroke-width="1.1" />
<line x1="413.2" y1="376.18" x2="417.9" y2="376.18" stroke="#111" stroke-width="1.1" />
<text x="407.7" y="379.65" font-size="10.2" font-weight="bold" text-anchor="end" fill="#000" >40</text>
<line x1="413.2" y1="372.47" x2="415.6" y2="372.47" stroke="#111" stroke-width="1.1" />
<line x1="413.2" y1="368.77" x2="415.6" y2="368.77" stroke="#111" stroke-width="1.1" />
<line x1="413.2" y1="365.06" x2="415.6" y2="365.06" stroke="#111" stroke-width="1.1" />
<line x1="413.2" y1="361.36" x2="415.6" y2="361.36" stroke="#111" stroke-width="1.1" />
<line x1="413.2" y1="357.65" x2="417.9" y2="357.65" stroke="#111" stroke-width="1.1" />
<text x="407.7" y="361.12" font-size="10.2" font-weight="bold" text-anchor="end" fill="#000" >50</text>
<line x1="413.2" y1="353.94" x2="415.6" y2="353.94" stroke="#111" stroke-width="1.1" />
<line x1="413.2" y1="350.24" x2="415.6" y2="350.24" stroke="#111" stroke-width="1.1" />
<line x1="413.2" y1="346.53" x2="415.6" y2="346.53" stroke="#111" stroke-width="1.1" />
<line x1="413.2" y1="342.83" x2="415.6" y2="342.83" stroke="#111" stroke-width="1.1" />
<line x1="413.2" y1="339.12" x2="417.9" y2="339.12" stroke="#111" stroke-width="1.1" />
<text x="407.7" y="342.59" font-size="10.2" font-weight="bold" text-anchor="end" fill="#000" >60</text>
<line x1="413.2" y1="335.41" x2="415.6" y2="335.41" stroke="#111" stroke-width="1.1" />
<line x1="413.2" y1="331.71" x2="415.6" y2="331.71" stroke="#111" stroke-width="1.1" />
<line x1="413.2" y1="328" x2="415.6" y2="328" stroke="#111" stroke-width="1.1" />
<line x1="413.2" y1="591.03" x2="415.6" y2="591.03" stroke="#111" stroke-width="1.1" />
<line x1="413.2" y1="586.56" x2="415.6" y2="586.56" stroke="#111" stroke-width="1.1" />
<line x1="413.2" y1="582.1" x2="417.9" y2="582.1" stroke="#111" stroke-width="1.1" />
<text x="407.7" y="585.57" font-size="10.2" font-weight="bold" text-anchor="end" fill="#000" >0</text>
<line x1="413.2" y1="577.64" x2="415.6" y2="577.64" stroke="#111" stroke-width="1.1" />
<line x1="413.2" y1="573.17" x2="415.6" y2="573.17" stroke="#111" stroke-width="1.1" />
<line x1="413.2" y1="568.71" x2="415.6" y2="568.71" stroke="#111" stroke-width="1.1" />
<line x1="413.2" y1="564.24" x2="415.6" y2="564.24" stroke="#111" stroke-width="1.1" />
<line x1="413.2" y1="559.78" x2="417.9" y2="559.78" stroke="#111" stroke-width="1.1" />
<text x="407.7" y="563.25" font-size="10.2" font-weight="bold" text-anchor="end" fill="#000" >100</text>
<line x1="413.2" y1="555.32" x2="415.6" y2="555.32" stroke="#111" stroke-width="1.1" />
<line x1="413.2" y1="550.85" x2="415.6" y2="550.85" stroke="#111" stroke-width="1.1" />
<line x1="413.2" y1="546.39" x2="415.6" y2="546.39" stroke="#111" stroke-width="1.1" />
<line x1="413.2" y1="541.92" x2="415.6" y2="541.92" stroke="#111" stroke-width="1.1" />
<line x1="413.2" y1="537.46" x2="417.9" y2="537.46" stroke="#111" stroke-width="1.1" />
<text x="407.7" y="540.93" font-size="10.2" font-weight="bold" text-anchor="end" fill="#000" >200</text>
<line x1="413.2" y1="533" x2="415.6" y2="533" stroke="#111" stroke-width="1.1" />
<line x1="413.2" y1="528.53" x2="415.6" y2="528.53" stroke="#111" stroke-width="1.1" />
<line x1="413.2" y1="524.07" x2="415.6" y2="524.07" stroke="#111" stroke-width="1.1" />
<line x1="413.2" y1="519.6" x2="415.6" y2="519.6" stroke="#111" stroke-width="1.1" />
<line x1="413.2" y1="515.14" x2="417.9" y2="515.14" stroke="#111" stroke-width="1.1" />
<text x="407.7" y="518.61" font-size="10.2" font-weight="bold" text-anchor="end" fill="#000" >300</text>
<line x1="413.2" y1="510.68" x2="415.6" y2="510.68" stroke="#111" stroke-width="1.1" />
<line x1="413.2" y1="506.21" x2="415.6" y2="506.21" stroke="#111" stroke-width="1.1" />
<line x1="413.2" y1="501.75" x2="415.6" y2="501.75" stroke="#111" stroke-width="1.1" />
<line x1="413.2" y1="497.28" x2="415.6" y2="497.28" stroke="#111" stroke-width="1.1" />
<line x1="413.2" y1="492.82" x2="417.9" y2="492.82" stroke="#111" stroke-width="1.1" />
<text x="407.7" y="496.29" font-size="10.2" font-weight="bold" text-anchor="end" fill="#000" >400</text>
<line x1="413.2" y1="488.36" x2="415.6" y2="488.36" stroke="#111" stroke-width="1.1" />
<line x1="413.2" y1="483.89" x2="415.6" y2="483.89" stroke="#111" stroke-width="1.1" />
<line x1="413.2" y1="479.43" x2="415.6" y2="479.43" stroke="#111" stroke-width="1.1" />
<line x1="413.2" y1="474.96" x2="415.6" y2="474.96" stroke="#111" stroke-width="1.1" />
<line x1="413.2" y1="470.5" x2="417.9" y2="470.5" stroke="#111" stroke-width="1.1" />
<text x="407.7" y="473.97" font-size="10.2" font-weight="bold" text-anchor="end" fill="#000" >500</text>
<line x1="413.2" y1="466.04" x2="415.6" y2="466.04" stroke="#111" stroke-width="1.1" />
<line x1="413.2" y1="461.57" x2="415.6" y2="461.57" stroke="#111" stroke-width="1.1" />
<rect x="413.2" y="324.9" width="269.4" height="268.1" fill="none" stroke="#333333" stroke-width="1.3"/>
<line x1="413.2" y1="459" x2="682.6" y2="459" stroke="#333333" stroke-width="1.3" />
<text x="389.1" y="392" font-size="13" font-weight="bold" text-anchor="middle" fill="#000" transform="rotate(-90 389.1 392)" >Phase / °</text>
<text x="387.5" y="526.2" font-size="12.9" font-weight="bold" text-anchor="middle" transform="rotate(-90 387.5 526.2)">|Z| / Ω cm<tspan dy="-5.3" font-size="8.2">2</tspan></text>
<text x="548.5" y="629" font-size="13" font-weight="bold" text-anchor="middle" fill="#000" >Frequency / Hz</text>
<text x="364.6" y="334" font-size="18.5" font-weight="bold" fill="#000" >(d)</text>
<rect x="411.8" y="645.4" width="269.1" height="134.3" fill="url(#gPhF)"/>
<rect x="411.8" y="779.7" width="269.1" height="134.3" fill="url(#gZ)"/>
<polyline points="433.61,709.2 441.42,696.72 449.23,679.44 457.04,666 464.84,660.85 472.32,664.18 479.51,675.78 486.4,693.31 492.98,710.75 499.26,724.33 505.37,737.67 511.48,745.5 517.31,749.96 522.8,754.75 528.13,758.55 533.3,761.4 538.29,763.8 543.12,765.25 547.81,766.1 552.46,766.78 557.06,767.44 561.61,767.99 566.12,768.34 570.58,768.56 575,768.78 579.28,769.04 583.38,769.3 587.31,769.56 591.08,769.79 594.69,770.06 598.14,770.3 601.46,770.46 604.63,770.5 607.79,770.5 610.94,770.5 614.09,770.5 617.25,770.5 620.4,770.5 623.56,770.5 626.71,770.5 629.86,770.5 633.02,770.48 636.17,770.1 639.32,769.37 642.48,768.52 645.63,767.68 648.79,766.69 651.94,765.54 655.09,764.23 658.25,762.66 661.4,760.65" fill="none" stroke="#e8645d" stroke-width="1" stroke-linejoin="round" />
<circle cx="433.61" cy="709.2" r="2.6" fill="#e8645d"/>
<circle cx="441.42" cy="696.72" r="2.6" fill="#e8645d"/>
<circle cx="449.23" cy="679.44" r="2.6" fill="#e8645d"/>
<circle cx="457.04" cy="666" r="2.6" fill="#e8645d"/>
<circle cx="464.84" cy="660.85" r="2.6" fill="#e8645d"/>
<circle cx="472.32" cy="664.18" r="2.6" fill="#e8645d"/>
<circle cx="479.51" cy="675.78" r="2.6" fill="#e8645d"/>
<circle cx="486.4" cy="693.31" r="2.6" fill="#e8645d"/>
<circle cx="492.98" cy="710.75" r="2.6" fill="#e8645d"/>
<circle cx="499.26" cy="724.33" r="2.6" fill="#e8645d"/>
<circle cx="505.37" cy="737.67" r="2.6" fill="#e8645d"/>
<circle cx="511.48" cy="745.5" r="2.6" fill="#e8645d"/>
<circle cx="517.31" cy="749.96" r="2.6" fill="#e8645d"/>
<circle cx="522.8" cy="754.75" r="2.6" fill="#e8645d"/>
<circle cx="528.13" cy="758.55" r="2.6" fill="#e8645d"/>
<circle cx="533.3" cy="761.4" r="2.6" fill="#e8645d"/>
<circle cx="538.29" cy="763.8" r="2.6" fill="#e8645d"/>
<circle cx="543.12" cy="765.25" r="2.6" fill="#e8645d"/>
<circle cx="547.81" cy="766.1" r="2.6" fill="#e8645d"/>
<circle cx="552.46" cy="766.78" r="2.6" fill="#e8645d"/>
<circle cx="557.06" cy="767.44" r="2.6" fill="#e8645d"/>
<circle cx="561.61" cy="767.99" r="2.6" fill="#e8645d"/>
<circle cx="566.12" cy="768.34" r="2.6" fill="#e8645d"/>
<circle cx="570.58" cy="768.56" r="2.6" fill="#e8645d"/>
<circle cx="575" cy="768.78" r="2.6" fill="#e8645d"/>
<circle cx="579.28" cy="769.04" r="2.6" fill="#e8645d"/>
<circle cx="583.38" cy="769.3" r="2.6" fill="#e8645d"/>
<circle cx="587.31" cy="769.56" r="2.6" fill="#e8645d"/>
<circle cx="591.08" cy="769.79" r="2.6" fill="#e8645d"/>
<circle cx="594.69" cy="770.06" r="2.6" fill="#e8645d"/>
<circle cx="598.14" cy="770.3" r="2.6" fill="#e8645d"/>
<circle cx="601.46" cy="770.46" r="2.6" fill="#e8645d"/>
<circle cx="604.63" cy="770.5" r="2.6" fill="#e8645d"/>
<circle cx="607.79" cy="770.5" r="2.6" fill="#e8645d"/>
<circle cx="610.94" cy="770.5" r="2.6" fill="#e8645d"/>
<circle cx="614.09" cy="770.5" r="2.6" fill="#e8645d"/>
<circle cx="617.25" cy="770.5" r="2.6" fill="#e8645d"/>
<circle cx="620.4" cy="770.5" r="2.6" fill="#e8645d"/>
<circle cx="623.56" cy="770.5" r="2.6" fill="#e8645d"/>
<circle cx="626.71" cy="770.5" r="2.6" fill="#e8645d"/>
<circle cx="629.86" cy="770.5" r="2.6" fill="#e8645d"/>
<circle cx="633.02" cy="770.48" r="2.6" fill="#e8645d"/>
<circle cx="636.17" cy="770.1" r="2.6" fill="#e8645d"/>
<circle cx="639.32" cy="769.37" r="2.6" fill="#e8645d"/>
<circle cx="642.48" cy="768.52" r="2.6" fill="#e8645d"/>
<circle cx="645.63" cy="767.68" r="2.6" fill="#e8645d"/>
<circle cx="648.79" cy="766.69" r="2.6" fill="#e8645d"/>
<circle cx="651.94" cy="765.54" r="2.6" fill="#e8645d"/>
<circle cx="655.09" cy="764.23" r="2.6" fill="#e8645d"/>
<circle cx="658.25" cy="762.66" r="2.6" fill="#e8645d"/>
<circle cx="661.4" cy="760.65" r="2.6" fill="#e8645d"/>
<polyline points="433.61,691.84 441.42,674.67 449.23,664.28 457.04,661.9 464.84,672.15 472.32,690.06 479.51,705.78 486.4,718.62 492.98,726.08 499.26,731.71 505.37,737.61 511.48,743.07 517.31,747.73 522.8,751.7 528.13,755 533.3,757.74 538.29,759.82 543.12,761.5 547.81,762.84 552.46,763.93 557.06,764.86 561.61,765.67 566.12,766.38 570.58,767.01 575,767.56 579.28,768.01 583.38,768.4 587.31,768.73 591.08,769 594.69,769.25 598.14,769.47 601.46,769.62 604.63,769.72 607.79,769.78 610.94,769.84 614.09,769.88 617.25,769.9 620.4,769.89 623.56,769.83 626.71,769.74 629.86,769.61 633.02,769.46 636.17,769.09 639.32,768.5 642.48,767.79 645.63,767.01 648.79,766.01 651.94,764.68 655.09,762.71 658.25,759.87 661.4,756.37" fill="none" stroke="#c99f2c" stroke-width="1" stroke-linejoin="round" />
<polygon points="433.61,689.41 431.01,693.83 436.21,693.83" fill="#c99f2c"/>
<polygon points="441.42,672.24 438.82,676.66 444.02,676.66" fill="#c99f2c"/>
<polygon points="449.23,661.85 446.63,666.27 451.83,666.27" fill="#c99f2c"/>
<polygon points="457.04,659.47 454.44,663.89 459.64,663.89" fill="#c99f2c"/>
<polygon points="464.84,669.72 462.24,674.14 467.44,674.14" fill="#c99f2c"/>
<polygon points="472.32,687.63 469.72,692.05 474.92,692.05" fill="#c99f2c"/>
<polygon points="479.51,703.35 476.91,707.77 482.11,707.77" fill="#c99f2c"/>
<polygon points="486.4,716.19 483.8,720.61 489,720.61" fill="#c99f2c"/>
<polygon points="492.98,723.65 490.38,728.07 495.58,728.07" fill="#c99f2c"/>
<polygon points="499.26,729.28 496.66,733.7 501.86,733.7" fill="#c99f2c"/>
<polygon points="505.37,735.18 502.77,739.6 507.97,739.6" fill="#c99f2c"/>
<polygon points="511.48,740.64 508.88,745.06 514.08,745.06" fill="#c99f2c"/>
<polygon points="517.31,745.3 514.71,749.72 519.91,749.72" fill="#c99f2c"/>
<polygon points="522.8,749.27 520.2,753.69 525.4,753.69" fill="#c99f2c"/>
<polygon points="528.13,752.57 525.53,756.99 530.73,756.99" fill="#c99f2c"/>
<polygon points="533.3,755.31 530.7,759.73 535.9,759.73" fill="#c99f2c"/>
<polygon points="538.29,757.39 535.69,761.81 540.89,761.81" fill="#c99f2c"/>
<polygon points="543.12,759.07 540.52,763.49 545.72,763.49" fill="#c99f2c"/>
<polygon points="547.81,760.4 545.21,764.82 550.41,764.82" fill="#c99f2c"/>
<polygon points="552.46,761.5 549.86,765.92 555.06,765.92" fill="#c99f2c"/>
<polygon points="557.06,762.43 554.46,766.85 559.66,766.85" fill="#c99f2c"/>
<polygon points="561.61,763.24 559.01,767.66 564.21,767.66" fill="#c99f2c"/>
<polygon points="566.12,763.95 563.52,768.37 568.72,768.37" fill="#c99f2c"/>
<polygon points="570.58,764.58 567.98,769 573.18,769" fill="#c99f2c"/>
<polygon points="575,765.12 572.4,769.54 577.6,769.54" fill="#c99f2c"/>
<polygon points="579.28,765.58 576.68,770 581.88,770" fill="#c99f2c"/>
<polygon points="583.38,765.97 580.78,770.39 585.98,770.39" fill="#c99f2c"/>
<polygon points="587.31,766.3 584.71,770.72 589.91,770.72" fill="#c99f2c"/>
<polygon points="591.08,766.57 588.48,770.99 593.68,770.99" fill="#c99f2c"/>
<polygon points="594.69,766.82 592.09,771.24 597.29,771.24" fill="#c99f2c"/>
<polygon points="598.14,767.03 595.54,771.45 600.74,771.45" fill="#c99f2c"/>
<polygon points="601.46,767.19 598.86,771.61 604.06,771.61" fill="#c99f2c"/>
<polygon points="604.63,767.29 602.03,771.71 607.23,771.71" fill="#c99f2c"/>
<polygon points="607.79,767.35 605.19,771.77 610.39,771.77" fill="#c99f2c"/>
<polygon points="610.94,767.41 608.34,771.83 613.54,771.83" fill="#c99f2c"/>
<polygon points="614.09,767.45 611.49,771.87 616.69,771.87" fill="#c99f2c"/>
<polygon points="617.25,767.47 614.65,771.89 619.85,771.89" fill="#c99f2c"/>
<polygon points="620.4,767.46 617.8,771.88 623,771.88" fill="#c99f2c"/>
<polygon points="623.56,767.4 620.96,771.82 626.16,771.82" fill="#c99f2c"/>
<polygon points="626.71,767.31 624.11,771.73 629.31,771.73" fill="#c99f2c"/>
<polygon points="629.86,767.18 627.26,771.6 632.46,771.6" fill="#c99f2c"/>
<polygon points="633.02,767.02 630.42,771.44 635.62,771.44" fill="#c99f2c"/>
<polygon points="636.17,766.66 633.57,771.08 638.77,771.08" fill="#c99f2c"/>
<polygon points="639.32,766.07 636.72,770.49 641.92,770.49" fill="#c99f2c"/>
<polygon points="642.48,765.36 639.88,769.78 645.08,769.78" fill="#c99f2c"/>
<polygon points="645.63,764.58 643.03,769 648.23,769" fill="#c99f2c"/>
<polygon points="648.79,763.58 646.19,768 651.39,768" fill="#c99f2c"/>
<polygon points="651.94,762.25 649.34,766.67 654.54,766.67" fill="#c99f2c"/>
<polygon points="655.09,760.28 652.49,764.7 657.69,764.7" fill="#c99f2c"/>
<polygon points="658.25,757.44 655.65,761.86 660.85,761.86" fill="#c99f2c"/>
<polygon points="661.4,753.94 658.8,758.36 664,758.36" fill="#c99f2c"/>
<polyline points="433.61,661.36 437.19,658.53 440.77,657.88 444.35,658.58 447.93,661.68 451.51,666.2 455.09,671.91 458.67,678.94 462.25,687.49 465.83,698.43 469.41,707.58 472.99,714.67 476.57,720.07 480.15,724.17 483.73,726.47 487.31,727.55 490.89,727.88 494.47,728.55 498.05,729.76 501.63,731.7 504.76,733.91 507.9,736.34 511.03,738.79 514.16,741.41 517.3,744.37 520.43,747.37 523.56,750.03 526.69,752.16 529.83,754.01 532.96,755.7 536.09,757.3 539.22,758.92 542.36,760.46 545.49,761.74 548.62,762.68 551.76,763.44 554.89,764.08 558.02,764.66 561.15,765.19 564.29,765.7 567.42,766.17 570.55,766.6 573.68,767 576.82,767.36 579.95,767.71 583.08,768.03 586.22,768.32 589.35,768.58 592.48,768.84 595.61,769.1 598.75,769.32 601.88,769.47 605.01,769.49 608.14,769.41 611.28,769.24 614.41,768.99 617.54,768.66 620.67,767.96 623.81,766.56 626.94,765.04 630.07,763.47 633.21,761.74 636.34,759.95 639.47,758.15 642.6,756.11 645.74,753.56 648.87,750.31 652,746.36 655.13,741.44 658.27,735.13 661.4,727.44" fill="none" stroke="#cc66f0" stroke-width="1" stroke-linejoin="round" />
<polygon points="433.61,664.02 431.01,659.6 436.21,659.6" fill="#cc66f0"/>
<polygon points="437.19,661.18 434.59,656.76 439.79,656.76" fill="#cc66f0"/>
<polygon points="440.77,660.53 438.17,656.11 443.37,656.11" fill="#cc66f0"/>
<polygon points="444.35,661.24 441.75,656.82 446.95,656.82" fill="#cc66f0"/>
<polygon points="447.93,664.33 445.33,659.91 450.53,659.91" fill="#cc66f0"/>
<polygon points="451.51,668.86 448.91,664.44 454.11,664.44" fill="#cc66f0"/>
<polygon points="455.09,674.56 452.49,670.14 457.69,670.14" fill="#cc66f0"/>
<polygon points="458.67,681.6 456.07,677.18 461.27,677.18" fill="#cc66f0"/>
<polygon points="462.25,690.14 459.65,685.72 464.85,685.72" fill="#cc66f0"/>
<polygon points="465.83,701.08 463.23,696.66 468.43,696.66" fill="#cc66f0"/>
<polygon points="469.41,710.23 466.81,705.81 472.01,705.81" fill="#cc66f0"/>
<polygon points="472.99,717.32 470.39,712.9 475.59,712.9" fill="#cc66f0"/>
<polygon points="476.57,722.72 473.97,718.3 479.17,718.3" fill="#cc66f0"/>
<polygon points="480.15,726.82 477.55,722.4 482.75,722.4" fill="#cc66f0"/>
<polygon points="483.73,729.12 481.13,724.7 486.33,724.7" fill="#cc66f0"/>
<polygon points="487.31,730.2 484.71,725.78 489.91,725.78" fill="#cc66f0"/>
<polygon points="490.89,730.53 488.29,726.11 493.49,726.11" fill="#cc66f0"/>
<polygon points="494.47,731.2 491.87,726.78 497.07,726.78" fill="#cc66f0"/>
<polygon points="498.05,732.41 495.45,727.99 500.65,727.99" fill="#cc66f0"/>
<polygon points="501.63,734.35 499.03,729.93 504.23,729.93" fill="#cc66f0"/>
<polygon points="504.76,736.56 502.16,732.14 507.36,732.14" fill="#cc66f0"/>
<polygon points="507.9,738.99 505.3,734.57 510.5,734.57" fill="#cc66f0"/>
<polygon points="511.03,741.44 508.43,737.02 513.63,737.02" fill="#cc66f0"/>
<polygon points="514.16,744.06 511.56,739.64 516.76,739.64" fill="#cc66f0"/>
<polygon points="517.3,747.02 514.7,742.6 519.9,742.6" fill="#cc66f0"/>
<polygon points="520.43,750.03 517.83,745.61 523.03,745.61" fill="#cc66f0"/>
<polygon points="523.56,752.69 520.96,748.27 526.16,748.27" fill="#cc66f0"/>
<polygon points="526.69,754.81 524.09,750.39 529.29,750.39" fill="#cc66f0"/>
<polygon points="529.83,756.66 527.23,752.24 532.43,752.24" fill="#cc66f0"/>
<polygon points="532.96,758.35 530.36,753.93 535.56,753.93" fill="#cc66f0"/>
<polygon points="536.09,759.95 533.49,755.53 538.69,755.53" fill="#cc66f0"/>
<polygon points="539.22,761.57 536.62,757.15 541.82,757.15" fill="#cc66f0"/>
<polygon points="542.36,763.11 539.76,758.69 544.96,758.69" fill="#cc66f0"/>
<polygon points="545.49,764.4 542.89,759.98 548.09,759.98" fill="#cc66f0"/>
<polygon points="548.62,765.33 546.02,760.91 551.22,760.91" fill="#cc66f0"/>
<polygon points="551.76,766.09 549.16,761.67 554.36,761.67" fill="#cc66f0"/>
<polygon points="554.89,766.74 552.29,762.32 557.49,762.32" fill="#cc66f0"/>
<polygon points="558.02,767.31 555.42,762.89 560.62,762.89" fill="#cc66f0"/>
<polygon points="561.15,767.84 558.55,763.42 563.75,763.42" fill="#cc66f0"/>
<polygon points="564.29,768.35 561.69,763.93 566.89,763.93" fill="#cc66f0"/>
<polygon points="567.42,768.82 564.82,764.4 570.02,764.4" fill="#cc66f0"/>
<polygon points="570.55,769.25 567.95,764.83 573.15,764.83" fill="#cc66f0"/>
<polygon points="573.68,769.65 571.08,765.23 576.28,765.23" fill="#cc66f0"/>
<polygon points="576.82,770.01 574.22,765.59 579.42,765.59" fill="#cc66f0"/>
<polygon points="579.95,770.36 577.35,765.94 582.55,765.94" fill="#cc66f0"/>
<polygon points="583.08,770.68 580.48,766.26 585.68,766.26" fill="#cc66f0"/>
<polygon points="586.22,770.97 583.62,766.55 588.82,766.55" fill="#cc66f0"/>
<polygon points="589.35,771.23 586.75,766.81 591.95,766.81" fill="#cc66f0"/>
<polygon points="592.48,771.49 589.88,767.07 595.08,767.07" fill="#cc66f0"/>
<polygon points="595.61,771.75 593.01,767.33 598.21,767.33" fill="#cc66f0"/>
<polygon points="598.75,771.98 596.15,767.56 601.35,767.56" fill="#cc66f0"/>
<polygon points="601.88,772.12 599.28,767.7 604.48,767.7" fill="#cc66f0"/>
<polygon points="605.01,772.15 602.41,767.73 607.61,767.73" fill="#cc66f0"/>
<polygon points="608.14,772.06 605.54,767.64 610.74,767.64" fill="#cc66f0"/>
<polygon points="611.28,771.89 608.68,767.47 613.88,767.47" fill="#cc66f0"/>
<polygon points="614.41,771.64 611.81,767.22 617.01,767.22" fill="#cc66f0"/>
<polygon points="617.54,771.32 614.94,766.9 620.14,766.9" fill="#cc66f0"/>
<polygon points="620.67,770.61 618.07,766.19 623.27,766.19" fill="#cc66f0"/>
<polygon points="623.81,769.22 621.21,764.8 626.41,764.8" fill="#cc66f0"/>
<polygon points="626.94,767.69 624.34,763.27 629.54,763.27" fill="#cc66f0"/>
<polygon points="630.07,766.12 627.47,761.7 632.67,761.7" fill="#cc66f0"/>
<polygon points="633.21,764.39 630.61,759.97 635.81,759.97" fill="#cc66f0"/>
<polygon points="636.34,762.6 633.74,758.18 638.94,758.18" fill="#cc66f0"/>
<polygon points="639.47,760.8 636.87,756.38 642.07,756.38" fill="#cc66f0"/>
<polygon points="642.6,758.77 640,754.35 645.2,754.35" fill="#cc66f0"/>
<polygon points="645.74,756.21 643.14,751.79 648.34,751.79" fill="#cc66f0"/>
<polygon points="648.87,752.96 646.27,748.54 651.47,748.54" fill="#cc66f0"/>
<polygon points="652,749.01 649.4,744.59 654.6,744.59" fill="#cc66f0"/>
<polygon points="655.13,744.09 652.53,739.67 657.73,739.67" fill="#cc66f0"/>
<polygon points="658.27,737.79 655.67,733.37 660.87,733.37" fill="#cc66f0"/>
<polygon points="661.4,730.09 658.8,725.67 664,725.67" fill="#cc66f0"/>
<polyline points="433.61,658.64 437.19,656.8 440.77,656.8 444.35,657.66 447.93,661.07 451.51,666.18 455.09,671.29 458.67,677.64 462.25,686.17 465.83,695.61 469.41,705.69 472.99,714.88 476.57,721.71 480.15,726.22 483.73,728.87 487.31,730.68 490.89,731.48 494.47,731.81 498.05,732.57 501.63,734.27 504.76,736.48 507.9,738.25 511.03,740.87 514.16,743.9 517.3,746.41 520.43,748.7 523.56,750.79 526.69,752.71 529.83,754.47 532.96,756.12 536.09,757.7 539.22,759.32 542.36,760.87 545.49,762.16 548.62,763.05 551.76,763.76 554.89,764.36 558.02,764.88 561.15,765.39 564.29,765.89 567.42,766.36 570.55,766.79 573.68,767.2 576.82,767.56 579.95,767.91 583.08,768.23 586.22,768.52 589.35,768.78 592.48,769.04 595.61,769.3 598.75,769.52 601.88,769.67 605.01,769.69 608.14,769.61 611.28,769.44 614.41,769.19 617.54,768.86 620.67,768.15 623.81,766.75 626.94,765.25 630.07,763.76 633.21,762.15 636.34,760.5 639.47,758.87 642.6,757.04 645.74,754.71 648.87,751.75 652,748.26 655.13,743.95 658.27,738.28 661.4,731.28" fill="none" stroke="#6a9f48" stroke-width="1" stroke-linejoin="round" />
<polygon points="433.61,655.91 436.34,658.64 433.61,661.37 430.88,658.64" fill="#6a9f48"/>
<polygon points="437.19,654.07 439.92,656.8 437.19,659.53 434.46,656.8" fill="#6a9f48"/>
<polygon points="440.77,654.07 443.5,656.8 440.77,659.53 438.04,656.8" fill="#6a9f48"/>
<polygon points="444.35,654.93 447.08,657.66 444.35,660.39 441.62,657.66" fill="#6a9f48"/>
<polygon points="447.93,658.34 450.66,661.07 447.93,663.8 445.2,661.07" fill="#6a9f48"/>
<polygon points="451.51,663.45 454.24,666.18 451.51,668.91 448.78,666.18" fill="#6a9f48"/>
<polygon points="455.09,668.56 457.82,671.29 455.09,674.02 452.36,671.29" fill="#6a9f48"/>
<polygon points="458.67,674.91 461.4,677.64 458.67,680.37 455.94,677.64" fill="#6a9f48"/>
<polygon points="462.25,683.44 464.98,686.17 462.25,688.9 459.52,686.17" fill="#6a9f48"/>
<polygon points="465.83,692.88 468.56,695.61 465.83,698.34 463.1,695.61" fill="#6a9f48"/>
<polygon points="469.41,702.96 472.14,705.69 469.41,708.42 466.68,705.69" fill="#6a9f48"/>
<polygon points="472.99,712.15 475.72,714.88 472.99,717.61 470.26,714.88" fill="#6a9f48"/>
<polygon points="476.57,718.98 479.3,721.71 476.57,724.44 473.84,721.71" fill="#6a9f48"/>
<polygon points="480.15,723.49 482.88,726.22 480.15,728.95 477.42,726.22" fill="#6a9f48"/>
<polygon points="483.73,726.14 486.46,728.87 483.73,731.6 481,728.87" fill="#6a9f48"/>
<polygon points="487.31,727.95 490.04,730.68 487.31,733.41 484.58,730.68" fill="#6a9f48"/>
<polygon points="490.89,728.75 493.62,731.48 490.89,734.21 488.16,731.48" fill="#6a9f48"/>
<polygon points="494.47,729.08 497.2,731.81 494.47,734.54 491.74,731.81" fill="#6a9f48"/>
<polygon points="498.05,729.84 500.78,732.57 498.05,735.3 495.32,732.57" fill="#6a9f48"/>
<polygon points="501.63,731.54 504.36,734.27 501.63,737 498.9,734.27" fill="#6a9f48"/>
<polygon points="504.76,733.75 507.49,736.48 504.76,739.21 502.03,736.48" fill="#6a9f48"/>
<polygon points="507.9,735.52 510.63,738.25 507.9,740.98 505.17,738.25" fill="#6a9f48"/>
<polygon points="511.03,738.14 513.76,740.87 511.03,743.6 508.3,740.87" fill="#6a9f48"/>
<polygon points="514.16,741.17 516.89,743.9 514.16,746.63 511.43,743.9" fill="#6a9f48"/>
<polygon points="517.3,743.68 520.03,746.41 517.3,749.14 514.57,746.41" fill="#6a9f48"/>
<polygon points="520.43,745.97 523.16,748.7 520.43,751.43 517.7,748.7" fill="#6a9f48"/>
<polygon points="523.56,748.06 526.29,750.79 523.56,753.52 520.83,750.79" fill="#6a9f48"/>
<polygon points="526.69,749.98 529.42,752.71 526.69,755.44 523.96,752.71" fill="#6a9f48"/>
<polygon points="529.83,751.74 532.56,754.47 529.83,757.2 527.1,754.47" fill="#6a9f48"/>
<polygon points="532.96,753.39 535.69,756.12 532.96,758.85 530.23,756.12" fill="#6a9f48"/>
<polygon points="536.09,754.97 538.82,757.7 536.09,760.43 533.36,757.7" fill="#6a9f48"/>
<polygon points="539.22,756.59 541.95,759.32 539.22,762.05 536.49,759.32" fill="#6a9f48"/>
<polygon points="542.36,758.14 545.09,760.87 542.36,763.6 539.63,760.87" fill="#6a9f48"/>
<polygon points="545.49,759.43 548.22,762.16 545.49,764.89 542.76,762.16" fill="#6a9f48"/>
<polygon points="548.62,760.32 551.35,763.05 548.62,765.78 545.89,763.05" fill="#6a9f48"/>
<polygon points="551.76,761.03 554.49,763.76 551.76,766.49 549.03,763.76" fill="#6a9f48"/>
<polygon points="554.89,761.63 557.62,764.36 554.89,767.09 552.16,764.36" fill="#6a9f48"/>
<polygon points="558.02,762.15 560.75,764.88 558.02,767.61 555.29,764.88" fill="#6a9f48"/>
<polygon points="561.15,762.66 563.88,765.39 561.15,768.12 558.42,765.39" fill="#6a9f48"/>
<polygon points="564.29,763.16 567.02,765.89 564.29,768.62 561.56,765.89" fill="#6a9f48"/>
<polygon points="567.42,763.63 570.15,766.36 567.42,769.09 564.69,766.36" fill="#6a9f48"/>
<polygon points="570.55,764.06 573.28,766.79 570.55,769.52 567.82,766.79" fill="#6a9f48"/>
<polygon points="573.68,764.47 576.41,767.2 573.68,769.93 570.95,767.2" fill="#6a9f48"/>
<polygon points="576.82,764.83 579.55,767.56 576.82,770.29 574.09,767.56" fill="#6a9f48"/>
<polygon points="579.95,765.18 582.68,767.91 579.95,770.64 577.22,767.91" fill="#6a9f48"/>
<polygon points="583.08,765.5 585.81,768.23 583.08,770.96 580.35,768.23" fill="#6a9f48"/>
<polygon points="586.22,765.79 588.95,768.52 586.22,771.25 583.49,768.52" fill="#6a9f48"/>
<polygon points="589.35,766.05 592.08,768.78 589.35,771.51 586.62,768.78" fill="#6a9f48"/>
<polygon points="592.48,766.31 595.21,769.04 592.48,771.77 589.75,769.04" fill="#6a9f48"/>
<polygon points="595.61,766.57 598.34,769.3 595.61,772.03 592.88,769.3" fill="#6a9f48"/>
<polygon points="598.75,766.79 601.48,769.52 598.75,772.25 596.02,769.52" fill="#6a9f48"/>
<polygon points="601.88,766.94 604.61,769.67 601.88,772.4 599.15,769.67" fill="#6a9f48"/>
<polygon points="605.01,766.96 607.74,769.69 605.01,772.42 602.28,769.69" fill="#6a9f48"/>
<polygon points="608.14,766.88 610.87,769.61 608.14,772.34 605.41,769.61" fill="#6a9f48"/>
<polygon points="611.28,766.71 614.01,769.44 611.28,772.17 608.55,769.44" fill="#6a9f48"/>
<polygon points="614.41,766.46 617.14,769.19 614.41,771.92 611.68,769.19" fill="#6a9f48"/>
<polygon points="617.54,766.13 620.27,768.86 617.54,771.59 614.81,768.86" fill="#6a9f48"/>
<polygon points="620.67,765.42 623.4,768.15 620.67,770.88 617.94,768.15" fill="#6a9f48"/>
<polygon points="623.81,764.02 626.54,766.75 623.81,769.48 621.08,766.75" fill="#6a9f48"/>
<polygon points="626.94,762.52 629.67,765.25 626.94,767.98 624.21,765.25" fill="#6a9f48"/>
<polygon points="630.07,761.03 632.8,763.76 630.07,766.49 627.34,763.76" fill="#6a9f48"/>
<polygon points="633.21,759.42 635.94,762.15 633.21,764.88 630.48,762.15" fill="#6a9f48"/>
<polygon points="636.34,757.77 639.07,760.5 636.34,763.23 633.61,760.5" fill="#6a9f48"/>
<polygon points="639.47,756.14 642.2,758.87 639.47,761.6 636.74,758.87" fill="#6a9f48"/>
<polygon points="642.6,754.31 645.33,757.04 642.6,759.77 639.87,757.04" fill="#6a9f48"/>
<polygon points="645.74,751.98 648.47,754.71 645.74,757.44 643.01,754.71" fill="#6a9f48"/>
<polygon points="648.87,749.02 651.6,751.75 648.87,754.48 646.14,751.75" fill="#6a9f48"/>
<polygon points="652,745.53 654.73,748.26 652,750.99 649.27,748.26" fill="#6a9f48"/>
<polygon points="655.13,741.22 657.86,743.95 655.13,746.68 652.4,743.95" fill="#6a9f48"/>
<polygon points="658.27,735.55 661,738.28 658.27,741.01 655.54,738.28" fill="#6a9f48"/>
<polygon points="661.4,728.55 664.13,731.28 661.4,734.01 658.67,731.28" fill="#6a9f48"/>
<polyline points="433.61,791.21 441.42,811.72 449.23,837.53 457.04,862.25 464.84,878.98 472.32,889.75 479.51,895.79 486.4,899.32 492.98,900.93 499.26,901.91 505.37,902.55 511.48,903.04 517.31,903.38 522.8,903.61 528.13,903.8 533.3,903.97 538.29,904.11 543.12,904.23 547.81,904.33 552.46,904.41 557.06,904.47 561.61,904.51 566.12,904.55 570.58,904.59 575,904.63 579.28,904.66 583.38,904.69 587.31,904.72 591.08,904.75 594.69,904.77 598.14,904.79 601.46,904.81 604.63,904.83 607.79,904.85 610.94,904.87 614.09,904.88 617.25,904.9 620.4,904.91 623.56,904.92 626.71,904.93 629.86,904.95 633.02,904.96 636.17,904.96 639.32,904.97 642.48,904.98 645.63,904.99 648.79,904.99 651.94,904.99 655.09,905 658.25,905 661.4,905" fill="none" stroke="#e8645d" stroke-width="1" stroke-linejoin="round" />
<circle cx="433.61" cy="791.21" r="2.6" fill="#e8645d"/>
<circle cx="441.42" cy="811.72" r="2.6" fill="#e8645d"/>
<circle cx="449.23" cy="837.53" r="2.6" fill="#e8645d"/>
<circle cx="457.04" cy="862.25" r="2.6" fill="#e8645d"/>
<circle cx="464.84" cy="878.98" r="2.6" fill="#e8645d"/>
<circle cx="472.32" cy="889.75" r="2.6" fill="#e8645d"/>
<circle cx="479.51" cy="895.79" r="2.6" fill="#e8645d"/>
<circle cx="486.4" cy="899.32" r="2.6" fill="#e8645d"/>
<circle cx="492.98" cy="900.93" r="2.6" fill="#e8645d"/>
<circle cx="499.26" cy="901.91" r="2.6" fill="#e8645d"/>
<circle cx="505.37" cy="902.55" r="2.6" fill="#e8645d"/>
<circle cx="511.48" cy="903.04" r="2.6" fill="#e8645d"/>
<circle cx="517.31" cy="903.38" r="2.6" fill="#e8645d"/>
<circle cx="522.8" cy="903.61" r="2.6" fill="#e8645d"/>
<circle cx="528.13" cy="903.8" r="2.6" fill="#e8645d"/>
<circle cx="533.3" cy="903.97" r="2.6" fill="#e8645d"/>
<circle cx="538.29" cy="904.11" r="2.6" fill="#e8645d"/>
<circle cx="543.12" cy="904.23" r="2.6" fill="#e8645d"/>
<circle cx="547.81" cy="904.33" r="2.6" fill="#e8645d"/>
<circle cx="552.46" cy="904.41" r="2.6" fill="#e8645d"/>
<circle cx="557.06" cy="904.47" r="2.6" fill="#e8645d"/>
<circle cx="561.61" cy="904.51" r="2.6" fill="#e8645d"/>
<circle cx="566.12" cy="904.55" r="2.6" fill="#e8645d"/>
<circle cx="570.58" cy="904.59" r="2.6" fill="#e8645d"/>
<circle cx="575" cy="904.63" r="2.6" fill="#e8645d"/>
<circle cx="579.28" cy="904.66" r="2.6" fill="#e8645d"/>
<circle cx="583.38" cy="904.69" r="2.6" fill="#e8645d"/>
<circle cx="587.31" cy="904.72" r="2.6" fill="#e8645d"/>
<circle cx="591.08" cy="904.75" r="2.6" fill="#e8645d"/>
<circle cx="594.69" cy="904.77" r="2.6" fill="#e8645d"/>
<circle cx="598.14" cy="904.79" r="2.6" fill="#e8645d"/>
<circle cx="601.46" cy="904.81" r="2.6" fill="#e8645d"/>
<circle cx="604.63" cy="904.83" r="2.6" fill="#e8645d"/>
<circle cx="607.79" cy="904.85" r="2.6" fill="#e8645d"/>
<circle cx="610.94" cy="904.87" r="2.6" fill="#e8645d"/>
<circle cx="614.09" cy="904.88" r="2.6" fill="#e8645d"/>
<circle cx="617.25" cy="904.9" r="2.6" fill="#e8645d"/>
<circle cx="620.4" cy="904.91" r="2.6" fill="#e8645d"/>
<circle cx="623.56" cy="904.92" r="2.6" fill="#e8645d"/>
<circle cx="626.71" cy="904.93" r="2.6" fill="#e8645d"/>
<circle cx="629.86" cy="904.95" r="2.6" fill="#e8645d"/>
<circle cx="633.02" cy="904.96" r="2.6" fill="#e8645d"/>
<circle cx="636.17" cy="904.96" r="2.6" fill="#e8645d"/>
<circle cx="639.32" cy="904.97" r="2.6" fill="#e8645d"/>
<circle cx="642.48" cy="904.98" r="2.6" fill="#e8645d"/>
<circle cx="645.63" cy="904.99" r="2.6" fill="#e8645d"/>
<circle cx="648.79" cy="904.99" r="2.6" fill="#e8645d"/>
<circle cx="651.94" cy="904.99" r="2.6" fill="#e8645d"/>
<circle cx="655.09" cy="905" r="2.6" fill="#e8645d"/>
<circle cx="658.25" cy="905" r="2.6" fill="#e8645d"/>
<circle cx="661.4" cy="905" r="2.6" fill="#e8645d"/>
<polyline points="433.61,836.8 441.42,856.7 449.23,873.98 457.04,886.17 464.84,893.63 472.32,898.04 479.51,900.2 486.4,901.37 492.98,902.14 499.26,902.59 505.37,902.94 511.48,903.21 517.31,903.42 522.8,903.58 528.13,903.72 533.3,903.85 538.29,903.97 543.12,904.06 547.81,904.15 552.46,904.22 557.06,904.27 561.61,904.31 566.12,904.35 570.58,904.39 575,904.42 579.28,904.46 583.38,904.49 587.31,904.51 591.08,904.54 594.69,904.56 598.14,904.59 601.46,904.61 604.63,904.63 607.79,904.64 610.94,904.66 614.09,904.68 617.25,904.69 620.4,904.71 623.56,904.72 626.71,904.73 629.86,904.74 633.02,904.75 636.17,904.76 639.32,904.77 642.48,904.78 645.63,904.78 648.79,904.79 651.94,904.79 655.09,904.8 658.25,904.8 661.4,904.8" fill="none" stroke="#c99f2c" stroke-width="1" stroke-linejoin="round" />
<polygon points="433.61,834.37 431.01,838.79 436.21,838.79" fill="#c99f2c"/>
<polygon points="441.42,854.27 438.82,858.69 444.02,858.69" fill="#c99f2c"/>
<polygon points="449.23,871.55 446.63,875.97 451.83,875.97" fill="#c99f2c"/>
<polygon points="457.04,883.74 454.44,888.16 459.64,888.16" fill="#c99f2c"/>
<polygon points="464.84,891.2 462.24,895.62 467.44,895.62" fill="#c99f2c"/>
<polygon points="472.32,895.61 469.72,900.03 474.92,900.03" fill="#c99f2c"/>
<polygon points="479.51,897.77 476.91,902.19 482.11,902.19" fill="#c99f2c"/>
<polygon points="486.4,898.94 483.8,903.36 489,903.36" fill="#c99f2c"/>
<polygon points="492.98,899.7 490.38,904.12 495.58,904.12" fill="#c99f2c"/>
<polygon points="499.26,900.16 496.66,904.58 501.86,904.58" fill="#c99f2c"/>
<polygon points="505.37,900.5 502.77,904.92 507.97,904.92" fill="#c99f2c"/>
<polygon points="511.48,900.78 508.88,905.2 514.08,905.2" fill="#c99f2c"/>
<polygon points="517.31,900.99 514.71,905.41 519.91,905.41" fill="#c99f2c"/>
<polygon points="522.8,901.15 520.2,905.57 525.4,905.57" fill="#c99f2c"/>
<polygon points="528.13,901.29 525.53,905.71 530.73,905.71" fill="#c99f2c"/>
<polygon points="533.3,901.42 530.7,905.84 535.9,905.84" fill="#c99f2c"/>
<polygon points="538.29,901.54 535.69,905.96 540.89,905.96" fill="#c99f2c"/>
<polygon points="543.12,901.63 540.52,906.05 545.72,906.05" fill="#c99f2c"/>
<polygon points="547.81,901.72 545.21,906.14 550.41,906.14" fill="#c99f2c"/>
<polygon points="552.46,901.79 549.86,906.21 555.06,906.21" fill="#c99f2c"/>
<polygon points="557.06,901.84 554.46,906.26 559.66,906.26" fill="#c99f2c"/>
<polygon points="561.61,901.88 559.01,906.3 564.21,906.3" fill="#c99f2c"/>
<polygon points="566.12,901.92 563.52,906.34 568.72,906.34" fill="#c99f2c"/>
<polygon points="570.58,901.96 567.98,906.38 573.18,906.38" fill="#c99f2c"/>
<polygon points="575,901.99 572.4,906.41 577.6,906.41" fill="#c99f2c"/>
<polygon points="579.28,902.03 576.68,906.45 581.88,906.45" fill="#c99f2c"/>
<polygon points="583.38,902.06 580.78,906.48 585.98,906.48" fill="#c99f2c"/>
<polygon points="587.31,902.08 584.71,906.5 589.91,906.5" fill="#c99f2c"/>
<polygon points="591.08,902.11 588.48,906.53 593.68,906.53" fill="#c99f2c"/>
<polygon points="594.69,902.13 592.09,906.55 597.29,906.55" fill="#c99f2c"/>
<polygon points="598.14,902.16 595.54,906.58 600.74,906.58" fill="#c99f2c"/>
<polygon points="601.46,902.18 598.86,906.6 604.06,906.6" fill="#c99f2c"/>
<polygon points="604.63,902.19 602.03,906.61 607.23,906.61" fill="#c99f2c"/>
<polygon points="607.79,902.21 605.19,906.63 610.39,906.63" fill="#c99f2c"/>
<polygon points="610.94,902.23 608.34,906.65 613.54,906.65" fill="#c99f2c"/>
<polygon points="614.09,902.24 611.49,906.66 616.69,906.66" fill="#c99f2c"/>
<polygon points="617.25,902.26 614.65,906.68 619.85,906.68" fill="#c99f2c"/>
<polygon points="620.4,902.27 617.8,906.69 623,906.69" fill="#c99f2c"/>
<polygon points="623.56,902.29 620.96,906.71 626.16,906.71" fill="#c99f2c"/>
<polygon points="626.71,902.3 624.11,906.72 629.31,906.72" fill="#c99f2c"/>
<polygon points="629.86,902.31 627.26,906.73 632.46,906.73" fill="#c99f2c"/>
<polygon points="633.02,902.32 630.42,906.74 635.62,906.74" fill="#c99f2c"/>
<polygon points="636.17,902.33 633.57,906.75 638.77,906.75" fill="#c99f2c"/>
<polygon points="639.32,902.34 636.72,906.76 641.92,906.76" fill="#c99f2c"/>
<polygon points="642.48,902.35 639.88,906.77 645.08,906.77" fill="#c99f2c"/>
<polygon points="645.63,902.35 643.03,906.77 648.23,906.77" fill="#c99f2c"/>
<polygon points="648.79,902.36 646.19,906.78 651.39,906.78" fill="#c99f2c"/>
<polygon points="651.94,902.36 649.34,906.78 654.54,906.78" fill="#c99f2c"/>
<polygon points="655.09,902.37 652.49,906.79 657.69,906.79" fill="#c99f2c"/>
<polygon points="658.25,902.37 655.65,906.79 660.85,906.79" fill="#c99f2c"/>
<polygon points="661.4,902.37 658.8,906.79 664,906.79" fill="#c99f2c"/>
<polyline points="433.61,850.45 437.19,861.12 440.77,870.25 444.35,876.37 447.93,881.77 451.51,886.01 455.09,889.37 458.67,892.24 462.25,894.44 465.83,896.07 469.41,897.3 472.99,898.3 476.57,899.16 480.15,899.95 483.73,900.6 487.31,901.13 490.89,901.59 494.47,901.96 498.05,902.23 501.63,902.44 504.76,902.59 507.9,902.72 511.03,902.83 514.16,902.93 517.3,903.02 520.43,903.11 523.56,903.2 526.69,903.28 529.83,903.36 532.96,903.44 536.09,903.51 539.22,903.57 542.36,903.63 545.49,903.69 548.62,903.74 551.76,903.78 554.89,903.82 558.02,903.85 561.15,903.88 564.29,903.9 567.42,903.92 570.55,903.94 573.68,903.96 576.82,903.99 579.95,904.01 583.08,904.03 586.22,904.05 589.35,904.06 592.48,904.08 595.61,904.1 598.75,904.12 601.88,904.13 605.01,904.15 608.14,904.16 611.28,904.18 614.41,904.19 617.54,904.2 620.67,904.21 623.81,904.22 626.94,904.23 630.07,904.24 633.21,904.25 636.34,904.26 639.47,904.27 642.6,904.27 645.74,904.28 648.87,904.28 652,904.28 655.13,904.29 658.27,904.29 661.4,904.29" fill="none" stroke="#cc66f0" stroke-width="1" stroke-linejoin="round" />
<polygon points="433.61,853.1 431.01,848.68 436.21,848.68" fill="#cc66f0"/>
<polygon points="437.19,863.78 434.59,859.36 439.79,859.36" fill="#cc66f0"/>
<polygon points="440.77,872.9 438.17,868.48 443.37,868.48" fill="#cc66f0"/>
<polygon points="444.35,879.02 441.75,874.6 446.95,874.6" fill="#cc66f0"/>
<polygon points="447.93,884.42 445.33,880 450.53,880" fill="#cc66f0"/>
<polygon points="451.51,888.66 448.91,884.24 454.11,884.24" fill="#cc66f0"/>
<polygon points="455.09,892.02 452.49,887.6 457.69,887.6" fill="#cc66f0"/>
<polygon points="458.67,894.89 456.07,890.47 461.27,890.47" fill="#cc66f0"/>
<polygon points="462.25,897.09 459.65,892.67 464.85,892.67" fill="#cc66f0"/>
<polygon points="465.83,898.72 463.23,894.3 468.43,894.3" fill="#cc66f0"/>
<polygon points="469.41,899.95 466.81,895.53 472.01,895.53" fill="#cc66f0"/>
<polygon points="472.99,900.95 470.39,896.53 475.59,896.53" fill="#cc66f0"/>
<polygon points="476.57,901.81 473.97,897.39 479.17,897.39" fill="#cc66f0"/>
<polygon points="480.15,902.6 477.55,898.18 482.75,898.18" fill="#cc66f0"/>
<polygon points="483.73,903.25 481.13,898.83 486.33,898.83" fill="#cc66f0"/>
<polygon points="487.31,903.78 484.71,899.36 489.91,899.36" fill="#cc66f0"/>
<polygon points="490.89,904.24 488.29,899.82 493.49,899.82" fill="#cc66f0"/>
<polygon points="494.47,904.61 491.87,900.19 497.07,900.19" fill="#cc66f0"/>
<polygon points="498.05,904.88 495.45,900.46 500.65,900.46" fill="#cc66f0"/>
<polygon points="501.63,905.09 499.03,900.67 504.23,900.67" fill="#cc66f0"/>
<polygon points="504.76,905.24 502.16,900.82 507.36,900.82" fill="#cc66f0"/>
<polygon points="507.9,905.37 505.3,900.95 510.5,900.95" fill="#cc66f0"/>
<polygon points="511.03,905.48 508.43,901.06 513.63,901.06" fill="#cc66f0"/>
<polygon points="514.16,905.58 511.56,901.16 516.76,901.16" fill="#cc66f0"/>
<polygon points="517.3,905.67 514.7,901.25 519.9,901.25" fill="#cc66f0"/>
<polygon points="520.43,905.76 517.83,901.34 523.03,901.34" fill="#cc66f0"/>
<polygon points="523.56,905.85 520.96,901.43 526.16,901.43" fill="#cc66f0"/>
<polygon points="526.69,905.94 524.09,901.52 529.29,901.52" fill="#cc66f0"/>
<polygon points="529.83,906.01 527.23,901.59 532.43,901.59" fill="#cc66f0"/>
<polygon points="532.96,906.09 530.36,901.67 535.56,901.67" fill="#cc66f0"/>
<polygon points="536.09,906.16 533.49,901.74 538.69,901.74" fill="#cc66f0"/>
<polygon points="539.22,906.23 536.62,901.81 541.82,901.81" fill="#cc66f0"/>
<polygon points="542.36,906.29 539.76,901.87 544.96,901.87" fill="#cc66f0"/>
<polygon points="545.49,906.34 542.89,901.92 548.09,901.92" fill="#cc66f0"/>
<polygon points="548.62,906.39 546.02,901.97 551.22,901.97" fill="#cc66f0"/>
<polygon points="551.76,906.43 549.16,902.01 554.36,902.01" fill="#cc66f0"/>
<polygon points="554.89,906.47 552.29,902.05 557.49,902.05" fill="#cc66f0"/>
<polygon points="558.02,906.5 555.42,902.08 560.62,902.08" fill="#cc66f0"/>
<polygon points="561.15,906.53 558.55,902.11 563.75,902.11" fill="#cc66f0"/>
<polygon points="564.29,906.55 561.69,902.13 566.89,902.13" fill="#cc66f0"/>
<polygon points="567.42,906.57 564.82,902.15 570.02,902.15" fill="#cc66f0"/>
<polygon points="570.55,906.6 567.95,902.18 573.15,902.18" fill="#cc66f0"/>
<polygon points="573.68,906.62 571.08,902.2 576.28,902.2" fill="#cc66f0"/>
<polygon points="576.82,906.64 574.22,902.22 579.42,902.22" fill="#cc66f0"/>
<polygon points="579.95,906.66 577.35,902.24 582.55,902.24" fill="#cc66f0"/>
<polygon points="583.08,906.68 580.48,902.26 585.68,902.26" fill="#cc66f0"/>
<polygon points="586.22,906.7 583.62,902.28 588.82,902.28" fill="#cc66f0"/>
<polygon points="589.35,906.72 586.75,902.3 591.95,902.3" fill="#cc66f0"/>
<polygon points="592.48,906.73 589.88,902.31 595.08,902.31" fill="#cc66f0"/>
<polygon points="595.61,906.75 593.01,902.33 598.21,902.33" fill="#cc66f0"/>
<polygon points="598.75,906.77 596.15,902.35 601.35,902.35" fill="#cc66f0"/>
<polygon points="601.88,906.78 599.28,902.36 604.48,902.36" fill="#cc66f0"/>
<polygon points="605.01,906.8 602.41,902.38 607.61,902.38" fill="#cc66f0"/>
<polygon points="608.14,906.81 605.54,902.39 610.74,902.39" fill="#cc66f0"/>
<polygon points="611.28,906.83 608.68,902.41 613.88,902.41" fill="#cc66f0"/>
<polygon points="614.41,906.84 611.81,902.42 617.01,902.42" fill="#cc66f0"/>
<polygon points="617.54,906.85 614.94,902.43 620.14,902.43" fill="#cc66f0"/>
<polygon points="620.67,906.86 618.07,902.44 623.27,902.44" fill="#cc66f0"/>
<polygon points="623.81,906.88 621.21,902.46 626.41,902.46" fill="#cc66f0"/>
<polygon points="626.94,906.89 624.34,902.47 629.54,902.47" fill="#cc66f0"/>
<polygon points="630.07,906.89 627.47,902.47 632.67,902.47" fill="#cc66f0"/>
<polygon points="633.21,906.9 630.61,902.48 635.81,902.48" fill="#cc66f0"/>
<polygon points="636.34,906.91 633.74,902.49 638.94,902.49" fill="#cc66f0"/>
<polygon points="639.47,906.92 636.87,902.5 642.07,902.5" fill="#cc66f0"/>
<polygon points="642.6,906.92 640,902.5 645.2,902.5" fill="#cc66f0"/>
<polygon points="645.74,906.93 643.14,902.51 648.34,902.51" fill="#cc66f0"/>
<polygon points="648.87,906.93 646.27,902.51 651.47,902.51" fill="#cc66f0"/>
<polygon points="652,906.94 649.4,902.52 654.6,902.52" fill="#cc66f0"/>
<polygon points="655.13,906.94 652.53,902.52 657.73,902.52" fill="#cc66f0"/>
<polygon points="658.27,906.94 655.67,902.52 660.87,902.52" fill="#cc66f0"/>
<polygon points="661.4,906.94 658.8,902.52 664,902.52" fill="#cc66f0"/>
<polyline points="433.61,853.58 437.19,863.99 440.77,872.87 444.35,878.77 447.93,883.96 451.51,888.01 455.09,891.2 458.67,893.91 462.25,895.97 465.83,897.47 469.41,898.58 472.99,899.47 476.57,900.23 480.15,900.93 483.73,901.5 487.31,901.95 490.89,902.34 494.47,902.65 498.05,902.86 501.63,903.01 504.76,903.12 507.9,903.21 511.03,903.28 514.16,903.35 517.3,903.42 520.43,903.48 523.56,903.54 526.69,903.6 529.83,903.65 532.96,903.7 536.09,903.75 539.22,903.8 542.36,903.84 545.49,903.88 548.62,903.91 551.76,903.94 554.89,903.97 558.02,903.99 561.15,904.01 564.29,904.02 567.42,904.04 570.55,904.05 573.68,904.07 576.82,904.08 579.95,904.1 583.08,904.11 586.22,904.13 589.35,904.14 592.48,904.15 595.61,904.16 598.75,904.18 601.88,904.19 605.01,904.2 608.14,904.21 611.28,904.22 614.41,904.23 617.54,904.24 620.67,904.25 623.81,904.25 626.94,904.26 630.07,904.27 633.21,904.27 636.34,904.28 639.47,904.28 642.6,904.29 645.74,904.29 648.87,904.29 652,904.3 655.13,904.3 658.27,904.3 661.4,904.3" fill="none" stroke="#6a9f48" stroke-width="1" stroke-linejoin="round" />
<polygon points="433.61,850.85 436.34,853.58 433.61,856.31 430.88,853.58" fill="#6a9f48"/>
<polygon points="437.19,861.26 439.92,863.99 437.19,866.72 434.46,863.99" fill="#6a9f48"/>
<polygon points="440.77,870.14 443.5,872.87 440.77,875.6 438.04,872.87" fill="#6a9f48"/>
<polygon points="444.35,876.04 447.08,878.77 444.35,881.5 441.62,878.77" fill="#6a9f48"/>
<polygon points="447.93,881.23 450.66,883.96 447.93,886.69 445.2,883.96" fill="#6a9f48"/>
<polygon points="451.51,885.28 454.24,888.01 451.51,890.74 448.78,888.01" fill="#6a9f48"/>
<polygon points="455.09,888.47 457.82,891.2 455.09,893.93 452.36,891.2" fill="#6a9f48"/>
<polygon points="458.67,891.18 461.4,893.91 458.67,896.64 455.94,893.91" fill="#6a9f48"/>
<polygon points="462.25,893.24 464.98,895.97 462.25,898.7 459.52,895.97" fill="#6a9f48"/>
<polygon points="465.83,894.74 468.56,897.47 465.83,900.2 463.1,897.47" fill="#6a9f48"/>
<polygon points="469.41,895.85 472.14,898.58 469.41,901.31 466.68,898.58" fill="#6a9f48"/>
<polygon points="472.99,896.74 475.72,899.47 472.99,902.2 470.26,899.47" fill="#6a9f48"/>
<polygon points="476.57,897.5 479.3,900.23 476.57,902.96 473.84,900.23" fill="#6a9f48"/>
<polygon points="480.15,898.2 482.88,900.93 480.15,903.66 477.42,900.93" fill="#6a9f48"/>
<polygon points="483.73,898.77 486.46,901.5 483.73,904.23 481,901.5" fill="#6a9f48"/>
<polygon points="487.31,899.22 490.04,901.95 487.31,904.68 484.58,901.95" fill="#6a9f48"/>
<polygon points="490.89,899.61 493.62,902.34 490.89,905.07 488.16,902.34" fill="#6a9f48"/>
<polygon points="494.47,899.92 497.2,902.65 494.47,905.38 491.74,902.65" fill="#6a9f48"/>
<polygon points="498.05,900.13 500.78,902.86 498.05,905.59 495.32,902.86" fill="#6a9f48"/>
<polygon points="501.63,900.28 504.36,903.01 501.63,905.74 498.9,903.01" fill="#6a9f48"/>
<polygon points="504.76,900.39 507.49,903.12 504.76,905.85 502.03,903.12" fill="#6a9f48"/>
<polygon points="507.9,900.48 510.63,903.21 507.9,905.94 505.17,903.21" fill="#6a9f48"/>
<polygon points="511.03,900.55 513.76,903.28 511.03,906.01 508.3,903.28" fill="#6a9f48"/>
<polygon points="514.16,900.62 516.89,903.35 514.16,906.08 511.43,903.35" fill="#6a9f48"/>
<polygon points="517.3,900.69 520.03,903.42 517.3,906.15 514.57,903.42" fill="#6a9f48"/>
<polygon points="520.43,900.75 523.16,903.48 520.43,906.21 517.7,903.48" fill="#6a9f48"/>
<polygon points="523.56,900.81 526.29,903.54 523.56,906.27 520.83,903.54" fill="#6a9f48"/>
<polygon points="526.69,900.87 529.42,903.6 526.69,906.33 523.96,903.6" fill="#6a9f48"/>
<polygon points="529.83,900.92 532.56,903.65 529.83,906.38 527.1,903.65" fill="#6a9f48"/>
<polygon points="532.96,900.97 535.69,903.7 532.96,906.43 530.23,903.7" fill="#6a9f48"/>
<polygon points="536.09,901.02 538.82,903.75 536.09,906.48 533.36,903.75" fill="#6a9f48"/>
<polygon points="539.22,901.07 541.95,903.8 539.22,906.53 536.49,903.8" fill="#6a9f48"/>
<polygon points="542.36,901.11 545.09,903.84 542.36,906.57 539.63,903.84" fill="#6a9f48"/>
<polygon points="545.49,901.15 548.22,903.88 545.49,906.61 542.76,903.88" fill="#6a9f48"/>
<polygon points="548.62,901.18 551.35,903.91 548.62,906.64 545.89,903.91" fill="#6a9f48"/>
<polygon points="551.76,901.21 554.49,903.94 551.76,906.67 549.03,903.94" fill="#6a9f48"/>
<polygon points="554.89,901.24 557.62,903.97 554.89,906.7 552.16,903.97" fill="#6a9f48"/>
<polygon points="558.02,901.26 560.75,903.99 558.02,906.72 555.29,903.99" fill="#6a9f48"/>
<polygon points="561.15,901.28 563.88,904.01 561.15,906.74 558.42,904.01" fill="#6a9f48"/>
<polygon points="564.29,901.29 567.02,904.02 564.29,906.75 561.56,904.02" fill="#6a9f48"/>
<polygon points="567.42,901.31 570.15,904.04 567.42,906.77 564.69,904.04" fill="#6a9f48"/>
<polygon points="570.55,901.32 573.28,904.05 570.55,906.78 567.82,904.05" fill="#6a9f48"/>
<polygon points="573.68,901.34 576.41,904.07 573.68,906.8 570.95,904.07" fill="#6a9f48"/>
<polygon points="576.82,901.35 579.55,904.08 576.82,906.81 574.09,904.08" fill="#6a9f48"/>
<polygon points="579.95,901.37 582.68,904.1 579.95,906.83 577.22,904.1" fill="#6a9f48"/>
<polygon points="583.08,901.38 585.81,904.11 583.08,906.84 580.35,904.11" fill="#6a9f48"/>
<polygon points="586.22,901.4 588.95,904.13 586.22,906.86 583.49,904.13" fill="#6a9f48"/>
<polygon points="589.35,901.41 592.08,904.14 589.35,906.87 586.62,904.14" fill="#6a9f48"/>
<polygon points="592.48,901.42 595.21,904.15 592.48,906.88 589.75,904.15" fill="#6a9f48"/>
<polygon points="595.61,901.43 598.34,904.16 595.61,906.89 592.88,904.16" fill="#6a9f48"/>
<polygon points="598.75,901.45 601.48,904.18 598.75,906.91 596.02,904.18" fill="#6a9f48"/>
<polygon points="601.88,901.46 604.61,904.19 601.88,906.92 599.15,904.19" fill="#6a9f48"/>
<polygon points="605.01,901.47 607.74,904.2 605.01,906.93 602.28,904.2" fill="#6a9f48"/>
<polygon points="608.14,901.48 610.87,904.21 608.14,906.94 605.41,904.21" fill="#6a9f48"/>
<polygon points="611.28,901.49 614.01,904.22 611.28,906.95 608.55,904.22" fill="#6a9f48"/>
<polygon points="614.41,901.5 617.14,904.23 614.41,906.96 611.68,904.23" fill="#6a9f48"/>
<polygon points="617.54,901.51 620.27,904.24 617.54,906.97 614.81,904.24" fill="#6a9f48"/>
<polygon points="620.67,901.52 623.4,904.25 620.67,906.98 617.94,904.25" fill="#6a9f48"/>
<polygon points="623.81,901.52 626.54,904.25 623.81,906.98 621.08,904.25" fill="#6a9f48"/>
<polygon points="626.94,901.53 629.67,904.26 626.94,906.99 624.21,904.26" fill="#6a9f48"/>
<polygon points="630.07,901.54 632.8,904.27 630.07,907 627.34,904.27" fill="#6a9f48"/>
<polygon points="633.21,901.54 635.94,904.27 633.21,907 630.48,904.27" fill="#6a9f48"/>
<polygon points="636.34,901.55 639.07,904.28 636.34,907.01 633.61,904.28" fill="#6a9f48"/>
<polygon points="639.47,901.55 642.2,904.28 639.47,907.01 636.74,904.28" fill="#6a9f48"/>
<polygon points="642.6,901.56 645.33,904.29 642.6,907.02 639.87,904.29" fill="#6a9f48"/>
<polygon points="645.74,901.56 648.47,904.29 645.74,907.02 643.01,904.29" fill="#6a9f48"/>
<polygon points="648.87,901.56 651.6,904.29 648.87,907.02 646.14,904.29" fill="#6a9f48"/>
<polygon points="652,901.57 654.73,904.3 652,907.03 649.27,904.3" fill="#6a9f48"/>
<polygon points="655.13,901.57 657.86,904.3 655.13,907.03 652.4,904.3" fill="#6a9f48"/>
<polygon points="658.27,901.57 661,904.3 658.27,907.03 655.54,904.3" fill="#6a9f48"/>
<polygon points="661.4,901.57 664.13,904.3 661.4,907.03 658.67,904.3" fill="#6a9f48"/>
<line x1="421.19" y1="779.7" x2="421.19" y2="777.2" stroke="#111" stroke-width="1.1" />
<line x1="426.69" y1="779.7" x2="426.69" y2="777.2" stroke="#111" stroke-width="1.1" />
<line x1="430.58" y1="779.7" x2="430.58" y2="777.2" stroke="#111" stroke-width="1.1" />
<line x1="433.61" y1="779.7" x2="433.61" y2="777.2" stroke="#111" stroke-width="1.1" />
<line x1="436.08" y1="779.7" x2="436.08" y2="777.2" stroke="#111" stroke-width="1.1" />
<line x1="438.17" y1="779.7" x2="438.17" y2="777.2" stroke="#111" stroke-width="1.1" />
<line x1="439.98" y1="779.7" x2="439.98" y2="777.2" stroke="#111" stroke-width="1.1" />
<line x1="441.57" y1="779.7" x2="441.57" y2="777.2" stroke="#111" stroke-width="1.1" />
<line x1="443" y1="779.7" x2="443" y2="774.9" stroke="#111" stroke-width="1.1" />
<line x1="452.39" y1="779.7" x2="452.39" y2="777.2" stroke="#111" stroke-width="1.1" />
<line x1="457.89" y1="779.7" x2="457.89" y2="777.2" stroke="#111" stroke-width="1.1" />
<line x1="461.78" y1="779.7" x2="461.78" y2="777.2" stroke="#111" stroke-width="1.1" />
<line x1="464.81" y1="779.7" x2="464.81" y2="777.2" stroke="#111" stroke-width="1.1" />
<line x1="467.28" y1="779.7" x2="467.28" y2="777.2" stroke="#111" stroke-width="1.1" />
<line x1="469.37" y1="779.7" x2="469.37" y2="777.2" stroke="#111" stroke-width="1.1" />
<line x1="471.18" y1="779.7" x2="471.18" y2="777.2" stroke="#111" stroke-width="1.1" />
<line x1="472.77" y1="779.7" x2="472.77" y2="777.2" stroke="#111" stroke-width="1.1" />
<line x1="474.2" y1="779.7" x2="474.2" y2="774.9" stroke="#111" stroke-width="1.1" />
<line x1="483.59" y1="779.7" x2="483.59" y2="777.2" stroke="#111" stroke-width="1.1" />
<line x1="489.09" y1="779.7" x2="489.09" y2="777.2" stroke="#111" stroke-width="1.1" />
<line x1="492.98" y1="779.7" x2="492.98" y2="777.2" stroke="#111" stroke-width="1.1" />
<line x1="496.01" y1="779.7" x2="496.01" y2="777.2" stroke="#111" stroke-width="1.1" />
<line x1="498.48" y1="779.7" x2="498.48" y2="777.2" stroke="#111" stroke-width="1.1" />
<line x1="500.57" y1="779.7" x2="500.57" y2="777.2" stroke="#111" stroke-width="1.1" />
<line x1="502.38" y1="779.7" x2="502.38" y2="777.2" stroke="#111" stroke-width="1.1" />
<line x1="503.97" y1="779.7" x2="503.97" y2="777.2" stroke="#111" stroke-width="1.1" />
<line x1="505.4" y1="779.7" x2="505.4" y2="774.9" stroke="#111" stroke-width="1.1" />
<line x1="514.79" y1="779.7" x2="514.79" y2="777.2" stroke="#111" stroke-width="1.1" />
<line x1="520.29" y1="779.7" x2="520.29" y2="777.2" stroke="#111" stroke-width="1.1" />
<line x1="524.18" y1="779.7" x2="524.18" y2="777.2" stroke="#111" stroke-width="1.1" />
<line x1="527.21" y1="779.7" x2="527.21" y2="777.2" stroke="#111" stroke-width="1.1" />
<line x1="529.68" y1="779.7" x2="529.68" y2="777.2" stroke="#111" stroke-width="1.1" />
<line x1="531.77" y1="779.7" x2="531.77" y2="777.2" stroke="#111" stroke-width="1.1" />
<line x1="533.58" y1="779.7" x2="533.58" y2="777.2" stroke="#111" stroke-width="1.1" />
<line x1="535.17" y1="779.7" x2="535.17" y2="777.2" stroke="#111" stroke-width="1.1" />
<line x1="536.6" y1="779.7" x2="536.6" y2="774.9" stroke="#111" stroke-width="1.1" />
<line x1="545.99" y1="779.7" x2="545.99" y2="777.2" stroke="#111" stroke-width="1.1" />
<line x1="551.49" y1="779.7" x2="551.49" y2="777.2" stroke="#111" stroke-width="1.1" />
<line x1="555.38" y1="779.7" x2="555.38" y2="777.2" stroke="#111" stroke-width="1.1" />
<line x1="558.41" y1="779.7" x2="558.41" y2="777.2" stroke="#111" stroke-width="1.1" />
<line x1="560.88" y1="779.7" x2="560.88" y2="777.2" stroke="#111" stroke-width="1.1" />
<line x1="562.97" y1="779.7" x2="562.97" y2="777.2" stroke="#111" stroke-width="1.1" />
<line x1="564.78" y1="779.7" x2="564.78" y2="777.2" stroke="#111" stroke-width="1.1" />
<line x1="566.37" y1="779.7" x2="566.37" y2="777.2" stroke="#111" stroke-width="1.1" />
<line x1="567.8" y1="779.7" x2="567.8" y2="774.9" stroke="#111" stroke-width="1.1" />
<line x1="577.19" y1="779.7" x2="577.19" y2="777.2" stroke="#111" stroke-width="1.1" />
<line x1="582.69" y1="779.7" x2="582.69" y2="777.2" stroke="#111" stroke-width="1.1" />
<line x1="586.58" y1="779.7" x2="586.58" y2="777.2" stroke="#111" stroke-width="1.1" />
<line x1="589.61" y1="779.7" x2="589.61" y2="777.2" stroke="#111" stroke-width="1.1" />
<line x1="592.08" y1="779.7" x2="592.08" y2="777.2" stroke="#111" stroke-width="1.1" />
<line x1="594.17" y1="779.7" x2="594.17" y2="777.2" stroke="#111" stroke-width="1.1" />
<line x1="595.98" y1="779.7" x2="595.98" y2="777.2" stroke="#111" stroke-width="1.1" />
<line x1="597.57" y1="779.7" x2="597.57" y2="777.2" stroke="#111" stroke-width="1.1" />
<line x1="599" y1="779.7" x2="599" y2="774.9" stroke="#111" stroke-width="1.1" />
<line x1="608.39" y1="779.7" x2="608.39" y2="777.2" stroke="#111" stroke-width="1.1" />
<line x1="613.89" y1="779.7" x2="613.89" y2="777.2" stroke="#111" stroke-width="1.1" />
<line x1="617.78" y1="779.7" x2="617.78" y2="777.2" stroke="#111" stroke-width="1.1" />
<line x1="620.81" y1="779.7" x2="620.81" y2="777.2" stroke="#111" stroke-width="1.1" />
<line x1="623.28" y1="779.7" x2="623.28" y2="777.2" stroke="#111" stroke-width="1.1" />
<line x1="625.37" y1="779.7" x2="625.37" y2="777.2" stroke="#111" stroke-width="1.1" />
<line x1="627.18" y1="779.7" x2="627.18" y2="777.2" stroke="#111" stroke-width="1.1" />
<line x1="628.77" y1="779.7" x2="628.77" y2="777.2" stroke="#111" stroke-width="1.1" />
<line x1="630.2" y1="779.7" x2="630.2" y2="774.9" stroke="#111" stroke-width="1.1" />
<line x1="639.59" y1="779.7" x2="639.59" y2="777.2" stroke="#111" stroke-width="1.1" />
<line x1="645.09" y1="779.7" x2="645.09" y2="777.2" stroke="#111" stroke-width="1.1" />
<line x1="648.98" y1="779.7" x2="648.98" y2="777.2" stroke="#111" stroke-width="1.1" />
<line x1="652.01" y1="779.7" x2="652.01" y2="777.2" stroke="#111" stroke-width="1.1" />
<line x1="654.48" y1="779.7" x2="654.48" y2="777.2" stroke="#111" stroke-width="1.1" />
<line x1="656.57" y1="779.7" x2="656.57" y2="777.2" stroke="#111" stroke-width="1.1" />
<line x1="658.38" y1="779.7" x2="658.38" y2="777.2" stroke="#111" stroke-width="1.1" />
<line x1="659.97" y1="779.7" x2="659.97" y2="777.2" stroke="#111" stroke-width="1.1" />
<line x1="661.4" y1="779.7" x2="661.4" y2="774.9" stroke="#111" stroke-width="1.1" />
<line x1="670.79" y1="779.7" x2="670.79" y2="777.2" stroke="#111" stroke-width="1.1" />
<line x1="676.29" y1="779.7" x2="676.29" y2="777.2" stroke="#111" stroke-width="1.1" />
<line x1="421.19" y1="914" x2="421.19" y2="911.5" stroke="#111" stroke-width="1.1" />
<line x1="426.69" y1="914" x2="426.69" y2="911.5" stroke="#111" stroke-width="1.1" />
<line x1="430.58" y1="914" x2="430.58" y2="911.5" stroke="#111" stroke-width="1.1" />
<line x1="433.61" y1="914" x2="433.61" y2="911.5" stroke="#111" stroke-width="1.1" />
<line x1="436.08" y1="914" x2="436.08" y2="911.5" stroke="#111" stroke-width="1.1" />
<line x1="438.17" y1="914" x2="438.17" y2="911.5" stroke="#111" stroke-width="1.1" />
<line x1="439.98" y1="914" x2="439.98" y2="911.5" stroke="#111" stroke-width="1.1" />
<line x1="441.57" y1="914" x2="441.57" y2="911.5" stroke="#111" stroke-width="1.1" />
<text x="411.7" y="929.7" font-size="10.8" font-weight="bold" text-anchor="middle">10<tspan dy="-4.32" font-size="6.48">-3</tspan></text>
<line x1="443" y1="914" x2="443" y2="909.2" stroke="#111" stroke-width="1.1" />
<line x1="452.39" y1="914" x2="452.39" y2="911.5" stroke="#111" stroke-width="1.1" />
<line x1="457.89" y1="914" x2="457.89" y2="911.5" stroke="#111" stroke-width="1.1" />
<line x1="461.78" y1="914" x2="461.78" y2="911.5" stroke="#111" stroke-width="1.1" />
<line x1="464.81" y1="914" x2="464.81" y2="911.5" stroke="#111" stroke-width="1.1" />
<line x1="467.28" y1="914" x2="467.28" y2="911.5" stroke="#111" stroke-width="1.1" />
<line x1="469.37" y1="914" x2="469.37" y2="911.5" stroke="#111" stroke-width="1.1" />
<line x1="471.18" y1="914" x2="471.18" y2="911.5" stroke="#111" stroke-width="1.1" />
<line x1="472.77" y1="914" x2="472.77" y2="911.5" stroke="#111" stroke-width="1.1" />
<text x="442.9" y="929.7" font-size="10.8" font-weight="bold" text-anchor="middle">10<tspan dy="-4.32" font-size="6.48">-2</tspan></text>
<line x1="474.2" y1="914" x2="474.2" y2="909.2" stroke="#111" stroke-width="1.1" />
<line x1="483.59" y1="914" x2="483.59" y2="911.5" stroke="#111" stroke-width="1.1" />
<line x1="489.09" y1="914" x2="489.09" y2="911.5" stroke="#111" stroke-width="1.1" />
<line x1="492.98" y1="914" x2="492.98" y2="911.5" stroke="#111" stroke-width="1.1" />
<line x1="496.01" y1="914" x2="496.01" y2="911.5" stroke="#111" stroke-width="1.1" />
<line x1="498.48" y1="914" x2="498.48" y2="911.5" stroke="#111" stroke-width="1.1" />
<line x1="500.57" y1="914" x2="500.57" y2="911.5" stroke="#111" stroke-width="1.1" />
<line x1="502.38" y1="914" x2="502.38" y2="911.5" stroke="#111" stroke-width="1.1" />
<line x1="503.97" y1="914" x2="503.97" y2="911.5" stroke="#111" stroke-width="1.1" />
<text x="474.1" y="929.7" font-size="10.8" font-weight="bold" text-anchor="middle">10<tspan dy="-4.32" font-size="6.48">-1</tspan></text>
<line x1="505.4" y1="914" x2="505.4" y2="909.2" stroke="#111" stroke-width="1.1" />
<line x1="514.79" y1="914" x2="514.79" y2="911.5" stroke="#111" stroke-width="1.1" />
<line x1="520.29" y1="914" x2="520.29" y2="911.5" stroke="#111" stroke-width="1.1" />
<line x1="524.18" y1="914" x2="524.18" y2="911.5" stroke="#111" stroke-width="1.1" />
<line x1="527.21" y1="914" x2="527.21" y2="911.5" stroke="#111" stroke-width="1.1" />
<line x1="529.68" y1="914" x2="529.68" y2="911.5" stroke="#111" stroke-width="1.1" />
<line x1="531.77" y1="914" x2="531.77" y2="911.5" stroke="#111" stroke-width="1.1" />
<line x1="533.58" y1="914" x2="533.58" y2="911.5" stroke="#111" stroke-width="1.1" />
<line x1="535.17" y1="914" x2="535.17" y2="911.5" stroke="#111" stroke-width="1.1" />
<text x="505.3" y="929.7" font-size="10.8" font-weight="bold" text-anchor="middle">10<tspan dy="-4.32" font-size="6.48">0</tspan></text>
<line x1="536.6" y1="914" x2="536.6" y2="909.2" stroke="#111" stroke-width="1.1" />
<line x1="545.99" y1="914" x2="545.99" y2="911.5" stroke="#111" stroke-width="1.1" />
<line x1="551.49" y1="914" x2="551.49" y2="911.5" stroke="#111" stroke-width="1.1" />
<line x1="555.38" y1="914" x2="555.38" y2="911.5" stroke="#111" stroke-width="1.1" />
<line x1="558.41" y1="914" x2="558.41" y2="911.5" stroke="#111" stroke-width="1.1" />
<line x1="560.88" y1="914" x2="560.88" y2="911.5" stroke="#111" stroke-width="1.1" />
<line x1="562.97" y1="914" x2="562.97" y2="911.5" stroke="#111" stroke-width="1.1" />
<line x1="564.78" y1="914" x2="564.78" y2="911.5" stroke="#111" stroke-width="1.1" />
<line x1="566.37" y1="914" x2="566.37" y2="911.5" stroke="#111" stroke-width="1.1" />
<text x="536.5" y="929.7" font-size="10.8" font-weight="bold" text-anchor="middle">10<tspan dy="-4.32" font-size="6.48">1</tspan></text>
<line x1="567.8" y1="914" x2="567.8" y2="909.2" stroke="#111" stroke-width="1.1" />
<line x1="577.19" y1="914" x2="577.19" y2="911.5" stroke="#111" stroke-width="1.1" />
<line x1="582.69" y1="914" x2="582.69" y2="911.5" stroke="#111" stroke-width="1.1" />
<line x1="586.58" y1="914" x2="586.58" y2="911.5" stroke="#111" stroke-width="1.1" />
<line x1="589.61" y1="914" x2="589.61" y2="911.5" stroke="#111" stroke-width="1.1" />
<line x1="592.08" y1="914" x2="592.08" y2="911.5" stroke="#111" stroke-width="1.1" />
<line x1="594.17" y1="914" x2="594.17" y2="911.5" stroke="#111" stroke-width="1.1" />
<line x1="595.98" y1="914" x2="595.98" y2="911.5" stroke="#111" stroke-width="1.1" />
<line x1="597.57" y1="914" x2="597.57" y2="911.5" stroke="#111" stroke-width="1.1" />
<text x="567.7" y="929.7" font-size="10.8" font-weight="bold" text-anchor="middle">10<tspan dy="-4.32" font-size="6.48">2</tspan></text>
<line x1="599" y1="914" x2="599" y2="909.2" stroke="#111" stroke-width="1.1" />
<line x1="608.39" y1="914" x2="608.39" y2="911.5" stroke="#111" stroke-width="1.1" />
<line x1="613.89" y1="914" x2="613.89" y2="911.5" stroke="#111" stroke-width="1.1" />
<line x1="617.78" y1="914" x2="617.78" y2="911.5" stroke="#111" stroke-width="1.1" />
<line x1="620.81" y1="914" x2="620.81" y2="911.5" stroke="#111" stroke-width="1.1" />
<line x1="623.28" y1="914" x2="623.28" y2="911.5" stroke="#111" stroke-width="1.1" />
<line x1="625.37" y1="914" x2="625.37" y2="911.5" stroke="#111" stroke-width="1.1" />
<line x1="627.18" y1="914" x2="627.18" y2="911.5" stroke="#111" stroke-width="1.1" />
<line x1="628.77" y1="914" x2="628.77" y2="911.5" stroke="#111" stroke-width="1.1" />
<text x="598.9" y="929.7" font-size="10.8" font-weight="bold" text-anchor="middle">10<tspan dy="-4.32" font-size="6.48">3</tspan></text>
<line x1="630.2" y1="914" x2="630.2" y2="909.2" stroke="#111" stroke-width="1.1" />
<line x1="639.59" y1="914" x2="639.59" y2="911.5" stroke="#111" stroke-width="1.1" />
<line x1="645.09" y1="914" x2="645.09" y2="911.5" stroke="#111" stroke-width="1.1" />
<line x1="648.98" y1="914" x2="648.98" y2="911.5" stroke="#111" stroke-width="1.1" />
<line x1="652.01" y1="914" x2="652.01" y2="911.5" stroke="#111" stroke-width="1.1" />
<line x1="654.48" y1="914" x2="654.48" y2="911.5" stroke="#111" stroke-width="1.1" />
<line x1="656.57" y1="914" x2="656.57" y2="911.5" stroke="#111" stroke-width="1.1" />
<line x1="658.38" y1="914" x2="658.38" y2="911.5" stroke="#111" stroke-width="1.1" />
<line x1="659.97" y1="914" x2="659.97" y2="911.5" stroke="#111" stroke-width="1.1" />
<text x="630.1" y="929.7" font-size="10.8" font-weight="bold" text-anchor="middle">10<tspan dy="-4.32" font-size="6.48">4</tspan></text>
<line x1="661.4" y1="914" x2="661.4" y2="909.2" stroke="#111" stroke-width="1.1" />
<line x1="670.79" y1="914" x2="670.79" y2="911.5" stroke="#111" stroke-width="1.1" />
<line x1="676.29" y1="914" x2="676.29" y2="911.5" stroke="#111" stroke-width="1.1" />
<text x="661.3" y="929.7" font-size="10.8" font-weight="bold" text-anchor="middle">10<tspan dy="-4.32" font-size="6.48">5</tspan></text>
<line x1="411.8" y1="778.1" x2="414.2" y2="778.1" stroke="#111" stroke-width="1.1" />
<line x1="411.8" y1="774.4" x2="414.2" y2="774.4" stroke="#111" stroke-width="1.1" />
<line x1="411.8" y1="770.7" x2="416.5" y2="770.7" stroke="#111" stroke-width="1.1" />
<text x="406.2" y="774.17" font-size="10.2" font-weight="bold" text-anchor="end" fill="#000" >0</text>
<line x1="411.8" y1="767" x2="414.2" y2="767" stroke="#111" stroke-width="1.1" />
<line x1="411.8" y1="763.3" x2="414.2" y2="763.3" stroke="#111" stroke-width="1.1" />
<line x1="411.8" y1="759.6" x2="414.2" y2="759.6" stroke="#111" stroke-width="1.1" />
<line x1="411.8" y1="755.9" x2="414.2" y2="755.9" stroke="#111" stroke-width="1.1" />
<line x1="411.8" y1="752.2" x2="416.5" y2="752.2" stroke="#111" stroke-width="1.1" />
<text x="406.2" y="755.67" font-size="10.2" font-weight="bold" text-anchor="end" fill="#000" >10</text>
<line x1="411.8" y1="748.5" x2="414.2" y2="748.5" stroke="#111" stroke-width="1.1" />
<line x1="411.8" y1="744.8" x2="414.2" y2="744.8" stroke="#111" stroke-width="1.1" />
<line x1="411.8" y1="741.1" x2="414.2" y2="741.1" stroke="#111" stroke-width="1.1" />
<line x1="411.8" y1="737.4" x2="414.2" y2="737.4" stroke="#111" stroke-width="1.1" />
<line x1="411.8" y1="733.7" x2="416.5" y2="733.7" stroke="#111" stroke-width="1.1" />
<text x="406.2" y="737.17" font-size="10.2" font-weight="bold" text-anchor="end" fill="#000" >20</text>
<line x1="411.8" y1="730" x2="414.2" y2="730" stroke="#111" stroke-width="1.1" />
<line x1="411.8" y1="726.3" x2="414.2" y2="726.3" stroke="#111" stroke-width="1.1" />
<line x1="411.8" y1="722.6" x2="414.2" y2="722.6" stroke="#111" stroke-width="1.1" />
<line x1="411.8" y1="718.9" x2="414.2" y2="718.9" stroke="#111" stroke-width="1.1" />
<line x1="411.8" y1="715.2" x2="416.5" y2="715.2" stroke="#111" stroke-width="1.1" />
<text x="406.2" y="718.67" font-size="10.2" font-weight="bold" text-anchor="end" fill="#000" >30</text>
<line x1="411.8" y1="711.5" x2="414.2" y2="711.5" stroke="#111" stroke-width="1.1" />
<line x1="411.8" y1="707.8" x2="414.2" y2="707.8" stroke="#111" stroke-width="1.1" />
<line x1="411.8" y1="704.1" x2="414.2" y2="704.1" stroke="#111" stroke-width="1.1" />
<line x1="411.8" y1="700.4" x2="414.2" y2="700.4" stroke="#111" stroke-width="1.1" />
<line x1="411.8" y1="696.7" x2="416.5" y2="696.7" stroke="#111" stroke-width="1.1" />
<text x="406.2" y="700.17" font-size="10.2" font-weight="bold" text-anchor="end" fill="#000" >40</text>
<line x1="411.8" y1="693" x2="414.2" y2="693" stroke="#111" stroke-width="1.1" />
<line x1="411.8" y1="689.3" x2="414.2" y2="689.3" stroke="#111" stroke-width="1.1" />
<line x1="411.8" y1="685.6" x2="414.2" y2="685.6" stroke="#111" stroke-width="1.1" />
<line x1="411.8" y1="681.9" x2="414.2" y2="681.9" stroke="#111" stroke-width="1.1" />
<line x1="411.8" y1="678.2" x2="416.5" y2="678.2" stroke="#111" stroke-width="1.1" />
<text x="406.2" y="681.67" font-size="10.2" font-weight="bold" text-anchor="end" fill="#000" >50</text>
<line x1="411.8" y1="674.5" x2="414.2" y2="674.5" stroke="#111" stroke-width="1.1" />
<line x1="411.8" y1="670.8" x2="414.2" y2="670.8" stroke="#111" stroke-width="1.1" />
<line x1="411.8" y1="667.1" x2="414.2" y2="667.1" stroke="#111" stroke-width="1.1" />
<line x1="411.8" y1="663.4" x2="414.2" y2="663.4" stroke="#111" stroke-width="1.1" />
<line x1="411.8" y1="659.7" x2="416.5" y2="659.7" stroke="#111" stroke-width="1.1" />
<text x="406.2" y="663.17" font-size="10.2" font-weight="bold" text-anchor="end" fill="#000" >60</text>
<line x1="411.8" y1="656" x2="414.2" y2="656" stroke="#111" stroke-width="1.1" />
<line x1="411.8" y1="652.3" x2="414.2" y2="652.3" stroke="#111" stroke-width="1.1" />
<line x1="411.8" y1="648.6" x2="414.2" y2="648.6" stroke="#111" stroke-width="1.1" />
<line x1="411.8" y1="908.3" x2="416.5" y2="908.3" stroke="#111" stroke-width="1.1" />
<text x="406.2" y="911.77" font-size="10.2" font-weight="bold" text-anchor="end" fill="#000" >0</text>
<line x1="411.8" y1="902.17" x2="414.2" y2="902.17" stroke="#111" stroke-width="1.1" />
<line x1="411.8" y1="896.04" x2="414.2" y2="896.04" stroke="#111" stroke-width="1.1" />
<line x1="411.8" y1="889.92" x2="414.2" y2="889.92" stroke="#111" stroke-width="1.1" />
<line x1="411.8" y1="883.79" x2="414.2" y2="883.79" stroke="#111" stroke-width="1.1" />
<line x1="411.8" y1="877.66" x2="416.5" y2="877.66" stroke="#111" stroke-width="1.1" />
<text x="406.2" y="881.13" font-size="10.2" font-weight="bold" text-anchor="end" fill="#000" >400</text>
<line x1="411.8" y1="871.53" x2="414.2" y2="871.53" stroke="#111" stroke-width="1.1" />
<line x1="411.8" y1="865.4" x2="414.2" y2="865.4" stroke="#111" stroke-width="1.1" />
<line x1="411.8" y1="859.28" x2="414.2" y2="859.28" stroke="#111" stroke-width="1.1" />
<line x1="411.8" y1="853.15" x2="414.2" y2="853.15" stroke="#111" stroke-width="1.1" />
<line x1="411.8" y1="847.02" x2="416.5" y2="847.02" stroke="#111" stroke-width="1.1" />
<text x="406.2" y="850.49" font-size="10.2" font-weight="bold" text-anchor="end" fill="#000" >800</text>
<line x1="411.8" y1="840.89" x2="414.2" y2="840.89" stroke="#111" stroke-width="1.1" />
<line x1="411.8" y1="834.76" x2="414.2" y2="834.76" stroke="#111" stroke-width="1.1" />
<line x1="411.8" y1="828.64" x2="414.2" y2="828.64" stroke="#111" stroke-width="1.1" />
<line x1="411.8" y1="822.51" x2="414.2" y2="822.51" stroke="#111" stroke-width="1.1" />
<line x1="411.8" y1="816.38" x2="416.5" y2="816.38" stroke="#111" stroke-width="1.1" />
<text x="406.2" y="819.85" font-size="10.2" font-weight="bold" text-anchor="end" fill="#000" >1200</text>
<line x1="411.8" y1="810.25" x2="414.2" y2="810.25" stroke="#111" stroke-width="1.1" />
<line x1="411.8" y1="804.12" x2="414.2" y2="804.12" stroke="#111" stroke-width="1.1" />
<line x1="411.8" y1="798" x2="414.2" y2="798" stroke="#111" stroke-width="1.1" />
<line x1="411.8" y1="791.87" x2="414.2" y2="791.87" stroke="#111" stroke-width="1.1" />
<line x1="411.8" y1="785.74" x2="416.5" y2="785.74" stroke="#111" stroke-width="1.1" />
<text x="406.2" y="789.21" font-size="10.2" font-weight="bold" text-anchor="end" fill="#000" >1600</text>
<rect x="411.8" y="645.4" width="269.1" height="268.6" fill="none" stroke="#333333" stroke-width="1.3"/>
<line x1="411.8" y1="779.7" x2="680.9" y2="779.7" stroke="#333333" stroke-width="1.3" />
<text x="387" y="712.5" font-size="13" font-weight="bold" text-anchor="middle" fill="#000" transform="rotate(-90 387 712.5)" >Phase / °</text>
<text x="378.8" y="843.8" font-size="12.9" font-weight="bold" text-anchor="middle" transform="rotate(-90 378.8 843.8)">|Z| / Ω cm<tspan dy="-5.3" font-size="8.2">2</tspan></text>
<text x="546.6" y="949.6" font-size="13" font-weight="bold" text-anchor="middle" fill="#000" >Frequency / Hz</text>
<text x="366.6" y="652.1" font-size="18.5" font-weight="bold" fill="#000" >(f)</text></svg></body></html>
